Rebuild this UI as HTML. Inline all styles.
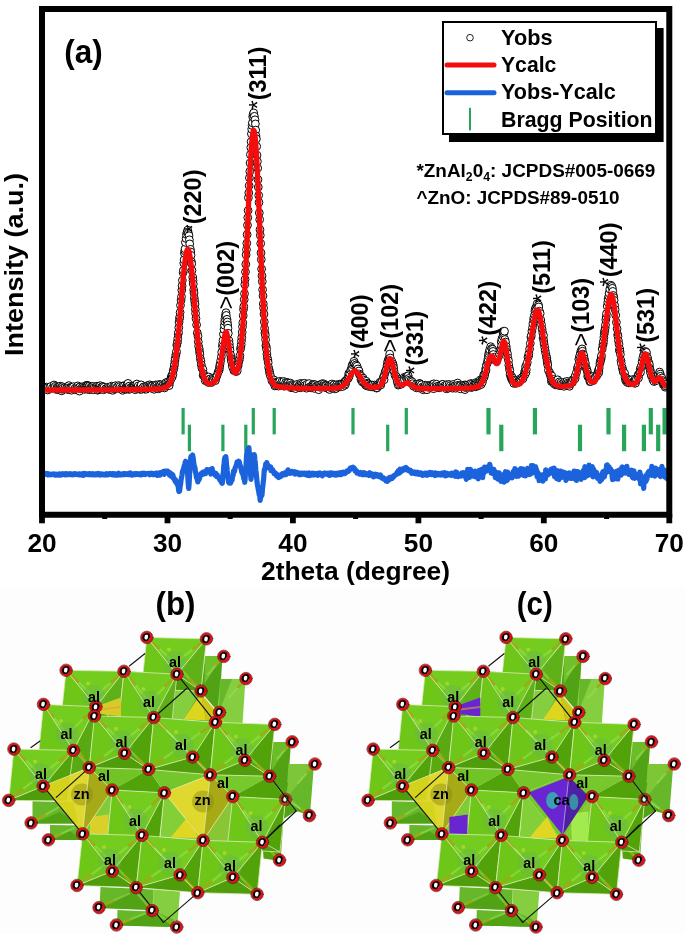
<!DOCTYPE html>
<html><head><meta charset="utf-8"><title>XRD Rietveld refinement and crystal structures</title>
<style>
html,body{margin:0;padding:0;background:#fff;}
body{width:685px;height:934px;overflow:hidden;font-family:"Liberation Sans",Arial,sans-serif;}
svg{display:block;}
text{fill:#000;}
</style></head><body>
<svg width="685" height="934" viewBox="0 0 685 934">
<rect width="685" height="934" fill="#fff"/><rect y="587" width="685" height="347" fill="#fdfdfd"/>
<g fill="#fff" stroke="#000" stroke-width="1"><circle cx="45.5" cy="388.3" r="3.9"/><circle cx="46.5" cy="387.1" r="3.9"/><circle cx="47.5" cy="388.4" r="3.9"/><circle cx="47.8" cy="390" r="3.9"/><circle cx="48.1" cy="387.6" r="3.9"/><circle cx="49.5" cy="388.4" r="3.9"/><circle cx="50.8" cy="386.5" r="3.9"/><circle cx="52.4" cy="388" r="3.9"/><circle cx="54.1" cy="385" r="3.9"/><circle cx="54.4" cy="387.6" r="3.9"/><circle cx="55.4" cy="386.3" r="3.9"/><circle cx="56.7" cy="389.6" r="3.9"/><circle cx="57" cy="387.2" r="3.9"/><circle cx="57.7" cy="389.4" r="3.9"/><circle cx="58" cy="387.5" r="3.9"/><circle cx="59.4" cy="386.6" r="3.9"/><circle cx="59.7" cy="388.3" r="3.9"/><circle cx="60" cy="390" r="3.9"/><circle cx="60.3" cy="386.2" r="3.9"/><circle cx="60.7" cy="389.3" r="3.9"/><circle cx="61.3" cy="387.4" r="3.9"/><circle cx="61.7" cy="390.8" r="3.9"/><circle cx="62" cy="389.2" r="3.9"/><circle cx="62.3" cy="386.7" r="3.9"/><circle cx="62.7" cy="388.3" r="3.9"/><circle cx="64.3" cy="389.1" r="3.9"/><circle cx="65" cy="387.3" r="3.9"/><circle cx="66.6" cy="387.5" r="3.9"/><circle cx="67.3" cy="389.4" r="3.9"/><circle cx="67.9" cy="386.5" r="3.9"/><circle cx="68.6" cy="389" r="3.9"/><circle cx="68.9" cy="385.6" r="3.9"/><circle cx="69.3" cy="387.6" r="3.9"/><circle cx="69.9" cy="389.8" r="3.9"/><circle cx="70.6" cy="387.8" r="3.9"/><circle cx="71.6" cy="390.2" r="3.9"/><circle cx="71.9" cy="387.6" r="3.9"/><circle cx="73.5" cy="386.7" r="3.9"/><circle cx="74.5" cy="389.7" r="3.9"/><circle cx="75.2" cy="388.1" r="3.9"/><circle cx="76.2" cy="389.5" r="3.9"/><circle cx="77.2" cy="386.5" r="3.9"/><circle cx="77.5" cy="388.6" r="3.9"/><circle cx="77.8" cy="385.9" r="3.9"/><circle cx="78.5" cy="387.7" r="3.9"/><circle cx="79.5" cy="391.1" r="3.9"/><circle cx="79.8" cy="387.1" r="3.9"/><circle cx="80.8" cy="388.8" r="3.9"/><circle cx="82.5" cy="386.8" r="3.9"/><circle cx="83.1" cy="388.2" r="3.9"/><circle cx="84.1" cy="387" r="3.9"/><circle cx="84.4" cy="389.4" r="3.9"/><circle cx="85.4" cy="387.3" r="3.9"/><circle cx="86.1" cy="385.5" r="3.9"/><circle cx="86.7" cy="388.6" r="3.9"/><circle cx="87.1" cy="385.3" r="3.9"/><circle cx="87.4" cy="389.2" r="3.9"/><circle cx="87.7" cy="385.8" r="3.9"/><circle cx="88.1" cy="389.1" r="3.9"/><circle cx="88.4" cy="387" r="3.9"/><circle cx="88.7" cy="389.1" r="3.9"/><circle cx="89.4" cy="386.1" r="3.9"/><circle cx="89.7" cy="389.7" r="3.9"/><circle cx="90.4" cy="388" r="3.9"/><circle cx="91.4" cy="386.8" r="3.9"/><circle cx="91.7" cy="389.5" r="3.9"/><circle cx="92" cy="387.3" r="3.9"/><circle cx="93.3" cy="386.4" r="3.9"/><circle cx="93.7" cy="389.7" r="3.9"/><circle cx="94" cy="387.8" r="3.9"/><circle cx="95.7" cy="387.3" r="3.9"/><circle cx="97" cy="386.2" r="3.9"/><circle cx="97.6" cy="390.2" r="3.9"/><circle cx="98" cy="387.1" r="3.9"/><circle cx="99" cy="389.8" r="3.9"/><circle cx="99.3" cy="386.1" r="3.9"/><circle cx="99.6" cy="387.7" r="3.9"/><circle cx="100.3" cy="385.7" r="3.9"/><circle cx="100.6" cy="388.9" r="3.9"/><circle cx="101.6" cy="387" r="3.9"/><circle cx="101.9" cy="388.6" r="3.9"/><circle cx="102.9" cy="386.5" r="3.9"/><circle cx="103.6" cy="389.7" r="3.9"/><circle cx="103.9" cy="387.3" r="3.9"/><circle cx="105.6" cy="388.8" r="3.9"/><circle cx="107.2" cy="388.8" r="3.9"/><circle cx="107.9" cy="387.2" r="3.9"/><circle cx="108.5" cy="389.1" r="3.9"/><circle cx="109.2" cy="387.7" r="3.9"/><circle cx="110.2" cy="389" r="3.9"/><circle cx="110.8" cy="387.3" r="3.9"/><circle cx="111.2" cy="389.8" r="3.9"/><circle cx="111.5" cy="386.2" r="3.9"/><circle cx="111.8" cy="389" r="3.9"/><circle cx="112.8" cy="390.3" r="3.9"/><circle cx="113.5" cy="386.4" r="3.9"/><circle cx="114.1" cy="388.9" r="3.9"/><circle cx="114.5" cy="386.5" r="3.9"/><circle cx="115.1" cy="388.9" r="3.9"/><circle cx="115.5" cy="385.7" r="3.9"/><circle cx="116.1" cy="388.1" r="3.9"/><circle cx="117.4" cy="386.7" r="3.9"/><circle cx="118.8" cy="385.6" r="3.9"/><circle cx="119.1" cy="388.4" r="3.9"/><circle cx="120.1" cy="386.5" r="3.9"/><circle cx="121.4" cy="388" r="3.9"/><circle cx="122.7" cy="390.3" r="3.9"/><circle cx="123" cy="385.9" r="3.9"/><circle cx="123.4" cy="388.9" r="3.9"/><circle cx="124.4" cy="385.8" r="3.9"/><circle cx="125" cy="388.6" r="3.9"/><circle cx="126" cy="387.3" r="3.9"/><circle cx="126.3" cy="389.2" r="3.9"/><circle cx="126.7" cy="387.6" r="3.9"/><circle cx="127" cy="384.8" r="3.9"/><circle cx="127.3" cy="386.7" r="3.9"/><circle cx="127.7" cy="385.1" r="3.9"/><circle cx="128" cy="383.4" r="3.9"/><circle cx="128.3" cy="386.9" r="3.9"/><circle cx="128.7" cy="389.3" r="3.9"/><circle cx="129" cy="387.7" r="3.9"/><circle cx="129.3" cy="386.1" r="3.9"/><circle cx="130" cy="389.1" r="3.9"/><circle cx="130.6" cy="387.6" r="3.9"/><circle cx="132.3" cy="387.8" r="3.9"/><circle cx="132.6" cy="386.2" r="3.9"/><circle cx="132.9" cy="388.2" r="3.9"/><circle cx="133.3" cy="386.6" r="3.9"/><circle cx="133.6" cy="388.9" r="3.9"/><circle cx="133.9" cy="385.8" r="3.9"/><circle cx="134.3" cy="387.3" r="3.9"/><circle cx="134.9" cy="385.7" r="3.9"/><circle cx="135.3" cy="389.7" r="3.9"/><circle cx="135.9" cy="386.8" r="3.9"/><circle cx="136.2" cy="388.4" r="3.9"/><circle cx="136.9" cy="384" r="3.9"/><circle cx="137.2" cy="387.7" r="3.9"/><circle cx="138.2" cy="386" r="3.9"/><circle cx="139.2" cy="388.9" r="3.9"/><circle cx="139.9" cy="387.3" r="3.9"/><circle cx="140.2" cy="389.3" r="3.9"/><circle cx="140.5" cy="386.6" r="3.9"/><circle cx="141.2" cy="384.9" r="3.9"/><circle cx="141.5" cy="389.3" r="3.9"/><circle cx="142.5" cy="388.1" r="3.9"/><circle cx="143.5" cy="386.9" r="3.9"/><circle cx="144.5" cy="389.1" r="3.9"/><circle cx="145.2" cy="387.1" r="3.9"/><circle cx="146.1" cy="389.2" r="3.9"/><circle cx="146.8" cy="387.1" r="3.9"/><circle cx="147.5" cy="385.6" r="3.9"/><circle cx="148.1" cy="388.1" r="3.9"/><circle cx="148.5" cy="386.5" r="3.9"/><circle cx="149.8" cy="384.8" r="3.9"/><circle cx="150.1" cy="386.6" r="3.9"/><circle cx="150.8" cy="388" r="3.9"/><circle cx="151.1" cy="385.8" r="3.9"/><circle cx="151.4" cy="387.6" r="3.9"/><circle cx="152.4" cy="386" r="3.9"/><circle cx="153.7" cy="387.3" r="3.9"/><circle cx="154.1" cy="389.3" r="3.9"/><circle cx="154.4" cy="386.3" r="3.9"/><circle cx="155.7" cy="384.9" r="3.9"/><circle cx="156.4" cy="388.1" r="3.9"/><circle cx="156.7" cy="385.3" r="3.9"/><circle cx="157" cy="387.8" r="3.9"/><circle cx="158.4" cy="388.8" r="3.9"/><circle cx="158.7" cy="386" r="3.9"/><circle cx="159.3" cy="384.4" r="3.9"/><circle cx="159.7" cy="386.2" r="3.9"/><circle cx="160" cy="388" r="3.9"/><circle cx="160.7" cy="384.8" r="3.9"/><circle cx="161.7" cy="386.3" r="3.9"/><circle cx="163" cy="385.3" r="3.9"/><circle cx="164.3" cy="386.2" r="3.9"/><circle cx="164.6" cy="387.9" r="3.9"/><circle cx="165" cy="386.2" r="3.9"/><circle cx="165.6" cy="383.1" r="3.9"/><circle cx="165.9" cy="385.7" r="3.9"/><circle cx="166.3" cy="382.5" r="3.9"/><circle cx="166.9" cy="385.9" r="3.9"/><circle cx="167.6" cy="384.2" r="3.9"/><circle cx="167.9" cy="381.9" r="3.9"/><circle cx="168.9" cy="384" r="3.9"/><circle cx="169.2" cy="385.6" r="3.9"/><circle cx="169.6" cy="382.5" r="3.9"/><circle cx="169.9" cy="380.6" r="3.9"/><circle cx="170.9" cy="379.3" r="3.9"/><circle cx="171.2" cy="377.1" r="3.9"/><circle cx="171.9" cy="375.2" r="3.9"/><circle cx="172.2" cy="377" r="3.9"/><circle cx="172.9" cy="374.4" r="3.9"/><circle cx="173.2" cy="370.9" r="3.9"/><circle cx="173.9" cy="368.2" r="3.9"/><circle cx="174.2" cy="366" r="3.9"/><circle cx="174.5" cy="364.2" r="3.9"/><circle cx="174.9" cy="360.9" r="3.9"/><circle cx="175.2" cy="358.5" r="3.9"/><circle cx="175.8" cy="355.3" r="3.9"/><circle cx="176.2" cy="353.3" r="3.9"/><circle cx="176.5" cy="351.5" r="3.9"/><circle cx="176.8" cy="345.1" r="3.9"/><circle cx="177.2" cy="343.3" r="3.9"/><circle cx="177.5" cy="341.4" r="3.9"/><circle cx="177.8" cy="338.4" r="3.9"/><circle cx="178.2" cy="334" r="3.9"/><circle cx="178.5" cy="332.3" r="3.9"/><circle cx="178.8" cy="327.7" r="3.9"/><circle cx="179.1" cy="322.1" r="3.9"/><circle cx="179.5" cy="318.6" r="3.9"/><circle cx="179.8" cy="316.9" r="3.9"/><circle cx="180.1" cy="312.4" r="3.9"/><circle cx="180.5" cy="305.3" r="3.9"/><circle cx="181.1" cy="300.1" r="3.9"/><circle cx="181.5" cy="296.7" r="3.9"/><circle cx="181.8" cy="290.1" r="3.9"/><circle cx="182.1" cy="285.8" r="3.9"/><circle cx="182.4" cy="280.3" r="3.9"/><circle cx="183.1" cy="272.6" r="3.9"/><circle cx="183.4" cy="270.4" r="3.9"/><circle cx="183.8" cy="263.1" r="3.9"/><circle cx="184.1" cy="259.8" r="3.9"/><circle cx="184.4" cy="253.2" r="3.9"/><circle cx="184.8" cy="250.8" r="3.9"/><circle cx="185.1" cy="248.8" r="3.9"/><circle cx="185.4" cy="242.4" r="3.9"/><circle cx="186.1" cy="238.5" r="3.9"/><circle cx="186.4" cy="234.4" r="3.9"/><circle cx="187.1" cy="232.2" r="3.9"/><circle cx="187.7" cy="230.1" r="3.9"/><circle cx="188.4" cy="233.2" r="3.9"/><circle cx="189" cy="235.7" r="3.9"/><circle cx="189.4" cy="239.8" r="3.9"/><circle cx="189.7" cy="243.9" r="3.9"/><circle cx="190.4" cy="249.3" r="3.9"/><circle cx="190.7" cy="252" r="3.9"/><circle cx="191" cy="255.3" r="3.9"/><circle cx="191.4" cy="261.6" r="3.9"/><circle cx="191.7" cy="263.8" r="3.9"/><circle cx="192" cy="270.5" r="3.9"/><circle cx="192.7" cy="277.2" r="3.9"/><circle cx="193" cy="280.5" r="3.9"/><circle cx="193.3" cy="284" r="3.9"/><circle cx="193.7" cy="289.9" r="3.9"/><circle cx="194" cy="293" r="3.9"/><circle cx="194.3" cy="298.2" r="3.9"/><circle cx="194.7" cy="301.4" r="3.9"/><circle cx="195" cy="304.1" r="3.9"/><circle cx="195.3" cy="309.4" r="3.9"/><circle cx="195.6" cy="313.5" r="3.9"/><circle cx="196" cy="318.6" r="3.9"/><circle cx="196.6" cy="324.8" r="3.9"/><circle cx="197.3" cy="332.9" r="3.9"/><circle cx="198" cy="336.3" r="3.9"/><circle cx="198.3" cy="341.8" r="3.9"/><circle cx="198.6" cy="346.3" r="3.9"/><circle cx="199.3" cy="349.1" r="3.9"/><circle cx="199.6" cy="352.1" r="3.9"/><circle cx="199.9" cy="354.1" r="3.9"/><circle cx="200.3" cy="358.4" r="3.9"/><circle cx="200.9" cy="361.2" r="3.9"/><circle cx="201.3" cy="364.8" r="3.9"/><circle cx="201.9" cy="368.1" r="3.9"/><circle cx="202.9" cy="369.4" r="3.9"/><circle cx="203.2" cy="375.4" r="3.9"/><circle cx="203.6" cy="373.6" r="3.9"/><circle cx="203.9" cy="375.4" r="3.9"/><circle cx="204.6" cy="377" r="3.9"/><circle cx="205.2" cy="380.6" r="3.9"/><circle cx="205.5" cy="377.4" r="3.9"/><circle cx="206.9" cy="381.2" r="3.9"/><circle cx="207.5" cy="379.4" r="3.9"/><circle cx="208.5" cy="382.5" r="3.9"/><circle cx="208.8" cy="377" r="3.9"/><circle cx="209.2" cy="381.3" r="3.9"/><circle cx="209.5" cy="379.2" r="3.9"/><circle cx="209.8" cy="381.9" r="3.9"/><circle cx="210.2" cy="379.1" r="3.9"/><circle cx="211.5" cy="382.5" r="3.9"/><circle cx="212.1" cy="380.2" r="3.9"/><circle cx="212.8" cy="378.2" r="3.9"/><circle cx="213.1" cy="380" r="3.9"/><circle cx="214.5" cy="378.4" r="3.9"/><circle cx="215.4" cy="380.6" r="3.9"/><circle cx="216.1" cy="377.8" r="3.9"/><circle cx="217.1" cy="375.3" r="3.9"/><circle cx="218.1" cy="372.1" r="3.9"/><circle cx="219.1" cy="370.3" r="3.9"/><circle cx="219.4" cy="368.3" r="3.9"/><circle cx="219.7" cy="366" r="3.9"/><circle cx="220.1" cy="364" r="3.9"/><circle cx="220.7" cy="360.6" r="3.9"/><circle cx="221.4" cy="356.6" r="3.9"/><circle cx="221.7" cy="352.2" r="3.9"/><circle cx="222.4" cy="346.1" r="3.9"/><circle cx="222.7" cy="343.6" r="3.9"/><circle cx="223" cy="340.4" r="3.9"/><circle cx="223.4" cy="334.2" r="3.9"/><circle cx="224" cy="329.3" r="3.9"/><circle cx="224.4" cy="325.2" r="3.9"/><circle cx="224.7" cy="321.5" r="3.9"/><circle cx="225" cy="318.7" r="3.9"/><circle cx="225.3" cy="315.7" r="3.9"/><circle cx="226" cy="312.7" r="3.9"/><circle cx="226.3" cy="315.4" r="3.9"/><circle cx="227" cy="319.3" r="3.9"/><circle cx="227.3" cy="322" r="3.9"/><circle cx="227.7" cy="325" r="3.9"/><circle cx="228" cy="328.2" r="3.9"/><circle cx="228.3" cy="333.3" r="3.9"/><circle cx="229" cy="340.7" r="3.9"/><circle cx="229.3" cy="343.9" r="3.9"/><circle cx="229.6" cy="347.3" r="3.9"/><circle cx="230" cy="350.4" r="3.9"/><circle cx="230.6" cy="354.9" r="3.9"/><circle cx="231" cy="358.3" r="3.9"/><circle cx="231.3" cy="360.1" r="3.9"/><circle cx="231.6" cy="361.7" r="3.9"/><circle cx="232.3" cy="365.2" r="3.9"/><circle cx="232.6" cy="367.3" r="3.9"/><circle cx="233.9" cy="370.6" r="3.9"/><circle cx="234.6" cy="366.8" r="3.9"/><circle cx="234.9" cy="370.4" r="3.9"/><circle cx="235.2" cy="367.4" r="3.9"/><circle cx="235.9" cy="369.1" r="3.9"/><circle cx="236.2" cy="371.6" r="3.9"/><circle cx="236.6" cy="369.2" r="3.9"/><circle cx="237.2" cy="370.7" r="3.9"/><circle cx="237.9" cy="366.3" r="3.9"/><circle cx="238.2" cy="364.8" r="3.9"/><circle cx="238.5" cy="362" r="3.9"/><circle cx="239.2" cy="360.6" r="3.9"/><circle cx="239.5" cy="358.4" r="3.9"/><circle cx="239.9" cy="355.7" r="3.9"/><circle cx="240.5" cy="349.1" r="3.9"/><circle cx="240.9" cy="346.9" r="3.9"/><circle cx="241.2" cy="344.5" r="3.9"/><circle cx="241.5" cy="340.7" r="3.9"/><circle cx="241.8" cy="337.3" r="3.9"/><circle cx="242.2" cy="332.2" r="3.9"/><circle cx="242.5" cy="326.7" r="3.9"/><circle cx="242.8" cy="322.7" r="3.9"/><circle cx="243.2" cy="315.7" r="3.9"/><circle cx="243.5" cy="309.4" r="3.9"/><circle cx="243.8" cy="306.5" r="3.9"/><circle cx="244.2" cy="299.6" r="3.9"/><circle cx="244.5" cy="293.7" r="3.9"/><circle cx="244.8" cy="284.5" r="3.9"/><circle cx="245.1" cy="279.3" r="3.9"/><circle cx="245.5" cy="271.9" r="3.9"/><circle cx="245.8" cy="264.2" r="3.9"/><circle cx="246.1" cy="254.8" r="3.9"/><circle cx="246.5" cy="249.6" r="3.9"/><circle cx="246.8" cy="243.3" r="3.9"/><circle cx="247.1" cy="234.6" r="3.9"/><circle cx="247.5" cy="225.2" r="3.9"/><circle cx="247.8" cy="217.7" r="3.9"/><circle cx="248.1" cy="210.5" r="3.9"/><circle cx="248.4" cy="197.7" r="3.9"/><circle cx="248.8" cy="192.9" r="3.9"/><circle cx="249.1" cy="185.7" r="3.9"/><circle cx="249.4" cy="177.9" r="3.9"/><circle cx="249.8" cy="171.4" r="3.9"/><circle cx="250.1" cy="163" r="3.9"/><circle cx="250.4" cy="154.6" r="3.9"/><circle cx="250.8" cy="147.6" r="3.9"/><circle cx="251.1" cy="141.7" r="3.9"/><circle cx="251.4" cy="133.9" r="3.9"/><circle cx="251.7" cy="129.1" r="3.9"/><circle cx="252.1" cy="125.5" r="3.9"/><circle cx="252.4" cy="122.8" r="3.9"/><circle cx="252.7" cy="116.7" r="3.9"/><circle cx="253.1" cy="114.4" r="3.9"/><circle cx="253.7" cy="112.9" r="3.9"/><circle cx="254.4" cy="116.3" r="3.9"/><circle cx="255" cy="119.8" r="3.9"/><circle cx="255.4" cy="123.9" r="3.9"/><circle cx="255.7" cy="130.1" r="3.9"/><circle cx="256" cy="136" r="3.9"/><circle cx="256.4" cy="138.9" r="3.9"/><circle cx="256.7" cy="146.4" r="3.9"/><circle cx="257" cy="155.2" r="3.9"/><circle cx="257.4" cy="161.5" r="3.9"/><circle cx="257.7" cy="168.2" r="3.9"/><circle cx="258" cy="179.6" r="3.9"/><circle cx="258.3" cy="187.1" r="3.9"/><circle cx="258.7" cy="195.4" r="3.9"/><circle cx="259" cy="202.5" r="3.9"/><circle cx="259.3" cy="212.9" r="3.9"/><circle cx="259.7" cy="219.6" r="3.9"/><circle cx="260" cy="229.7" r="3.9"/><circle cx="260.3" cy="235.3" r="3.9"/><circle cx="260.7" cy="243.5" r="3.9"/><circle cx="261" cy="252.9" r="3.9"/><circle cx="261.3" cy="259.5" r="3.9"/><circle cx="261.6" cy="269" r="3.9"/><circle cx="262" cy="275.8" r="3.9"/><circle cx="262.3" cy="281.5" r="3.9"/><circle cx="262.6" cy="289.7" r="3.9"/><circle cx="263" cy="295.9" r="3.9"/><circle cx="263.3" cy="303.9" r="3.9"/><circle cx="263.6" cy="308.1" r="3.9"/><circle cx="264" cy="314.1" r="3.9"/><circle cx="264.3" cy="321.8" r="3.9"/><circle cx="264.6" cy="328.4" r="3.9"/><circle cx="264.9" cy="333" r="3.9"/><circle cx="265.3" cy="335.1" r="3.9"/><circle cx="265.6" cy="339.7" r="3.9"/><circle cx="265.9" cy="345.5" r="3.9"/><circle cx="266.3" cy="347.1" r="3.9"/><circle cx="266.6" cy="349.5" r="3.9"/><circle cx="266.9" cy="354.1" r="3.9"/><circle cx="267.3" cy="357.6" r="3.9"/><circle cx="267.9" cy="360.1" r="3.9"/><circle cx="268.2" cy="362.7" r="3.9"/><circle cx="268.6" cy="367.5" r="3.9"/><circle cx="269.2" cy="370.1" r="3.9"/><circle cx="269.6" cy="372.2" r="3.9"/><circle cx="269.9" cy="374.1" r="3.9"/><circle cx="270.6" cy="376.4" r="3.9"/><circle cx="271.9" cy="380.7" r="3.9"/><circle cx="273.5" cy="382.6" r="3.9"/><circle cx="273.9" cy="379.9" r="3.9"/><circle cx="274.5" cy="382" r="3.9"/><circle cx="274.8" cy="385.9" r="3.9"/><circle cx="275.2" cy="384" r="3.9"/><circle cx="276.2" cy="385.8" r="3.9"/><circle cx="276.5" cy="382.9" r="3.9"/><circle cx="277.2" cy="384.9" r="3.9"/><circle cx="278.1" cy="382.9" r="3.9"/><circle cx="278.5" cy="386.1" r="3.9"/><circle cx="279.1" cy="384.5" r="3.9"/><circle cx="279.8" cy="381.3" r="3.9"/><circle cx="280.1" cy="384.8" r="3.9"/><circle cx="281.4" cy="383.7" r="3.9"/><circle cx="281.8" cy="382" r="3.9"/><circle cx="282.1" cy="384.8" r="3.9"/><circle cx="283.4" cy="384" r="3.9"/><circle cx="283.8" cy="381.5" r="3.9"/><circle cx="284.1" cy="386.2" r="3.9"/><circle cx="285.4" cy="384.8" r="3.9"/><circle cx="285.7" cy="382.4" r="3.9"/><circle cx="286.7" cy="384.2" r="3.9"/><circle cx="287.4" cy="382.4" r="3.9"/><circle cx="287.7" cy="385.5" r="3.9"/><circle cx="288" cy="383.1" r="3.9"/><circle cx="288.4" cy="385.5" r="3.9"/><circle cx="289.7" cy="384.5" r="3.9"/><circle cx="290.4" cy="383.1" r="3.9"/><circle cx="290.7" cy="385.2" r="3.9"/><circle cx="291" cy="387.7" r="3.9"/><circle cx="292" cy="386.3" r="3.9"/><circle cx="292.3" cy="384.5" r="3.9"/><circle cx="292.7" cy="387.3" r="3.9"/><circle cx="293" cy="385.4" r="3.9"/><circle cx="294.6" cy="385.5" r="3.9"/><circle cx="295.6" cy="388.6" r="3.9"/><circle cx="296" cy="385.6" r="3.9"/><circle cx="297.3" cy="384.3" r="3.9"/><circle cx="297.9" cy="387" r="3.9"/><circle cx="299.3" cy="385" r="3.9"/><circle cx="300.3" cy="387.8" r="3.9"/><circle cx="300.6" cy="383.4" r="3.9"/><circle cx="300.9" cy="385" r="3.9"/><circle cx="301.6" cy="386.8" r="3.9"/><circle cx="302.6" cy="383.9" r="3.9"/><circle cx="302.9" cy="387" r="3.9"/><circle cx="303.6" cy="385.1" r="3.9"/><circle cx="303.9" cy="386.7" r="3.9"/><circle cx="304.2" cy="384.8" r="3.9"/><circle cx="304.5" cy="383.3" r="3.9"/><circle cx="304.9" cy="385.6" r="3.9"/><circle cx="306.2" cy="386.5" r="3.9"/><circle cx="306.5" cy="388.2" r="3.9"/><circle cx="306.9" cy="385.9" r="3.9"/><circle cx="307.2" cy="384.1" r="3.9"/><circle cx="308.5" cy="386.7" r="3.9"/><circle cx="309.2" cy="383.6" r="3.9"/><circle cx="309.5" cy="387.1" r="3.9"/><circle cx="311.1" cy="386.3" r="3.9"/><circle cx="311.5" cy="387.8" r="3.9"/><circle cx="312.8" cy="384.4" r="3.9"/><circle cx="313.1" cy="386" r="3.9"/><circle cx="314.1" cy="384.5" r="3.9"/><circle cx="314.4" cy="388.4" r="3.9"/><circle cx="314.8" cy="386.4" r="3.9"/><circle cx="315.1" cy="384.7" r="3.9"/><circle cx="316.1" cy="386.2" r="3.9"/><circle cx="317.4" cy="387" r="3.9"/><circle cx="317.7" cy="385.4" r="3.9"/><circle cx="318.4" cy="387.6" r="3.9"/><circle cx="318.7" cy="389.7" r="3.9"/><circle cx="319.1" cy="385" r="3.9"/><circle cx="320.1" cy="387.3" r="3.9"/><circle cx="320.4" cy="384.8" r="3.9"/><circle cx="321" cy="386.3" r="3.9"/><circle cx="322.4" cy="383.6" r="3.9"/><circle cx="323" cy="385.8" r="3.9"/><circle cx="324" cy="384" r="3.9"/><circle cx="324.3" cy="385.7" r="3.9"/><circle cx="324.7" cy="387.4" r="3.9"/><circle cx="325.7" cy="385.2" r="3.9"/><circle cx="326" cy="387.1" r="3.9"/><circle cx="326.3" cy="385.6" r="3.9"/><circle cx="327.3" cy="388.2" r="3.9"/><circle cx="327.6" cy="386.6" r="3.9"/><circle cx="329" cy="385.5" r="3.9"/><circle cx="329.6" cy="389.5" r="3.9"/><circle cx="330" cy="387.3" r="3.9"/><circle cx="330.3" cy="385.6" r="3.9"/><circle cx="331.3" cy="387.8" r="3.9"/><circle cx="331.6" cy="385.6" r="3.9"/><circle cx="331.9" cy="384" r="3.9"/><circle cx="332.3" cy="385.9" r="3.9"/><circle cx="333.3" cy="387.9" r="3.9"/><circle cx="334.2" cy="384.7" r="3.9"/><circle cx="334.6" cy="387.3" r="3.9"/><circle cx="334.9" cy="388.9" r="3.9"/><circle cx="335.2" cy="387.1" r="3.9"/><circle cx="336.2" cy="388.4" r="3.9"/><circle cx="336.6" cy="384.8" r="3.9"/><circle cx="337.2" cy="386.6" r="3.9"/><circle cx="338.5" cy="385.5" r="3.9"/><circle cx="339.5" cy="384.2" r="3.9"/><circle cx="340.2" cy="386.8" r="3.9"/><circle cx="340.5" cy="384.3" r="3.9"/><circle cx="341.2" cy="386.3" r="3.9"/><circle cx="341.5" cy="384" r="3.9"/><circle cx="341.8" cy="385.5" r="3.9"/><circle cx="342.2" cy="383.8" r="3.9"/><circle cx="342.5" cy="386.5" r="3.9"/><circle cx="343.5" cy="384.1" r="3.9"/><circle cx="344.8" cy="385.3" r="3.9"/><circle cx="345.1" cy="381.2" r="3.9"/><circle cx="345.5" cy="383.9" r="3.9"/><circle cx="345.8" cy="382" r="3.9"/><circle cx="346.8" cy="379.7" r="3.9"/><circle cx="348.1" cy="378.5" r="3.9"/><circle cx="348.4" cy="376.4" r="3.9"/><circle cx="348.8" cy="373.5" r="3.9"/><circle cx="349.1" cy="376.6" r="3.9"/><circle cx="349.8" cy="373.9" r="3.9"/><circle cx="350.7" cy="370.2" r="3.9"/><circle cx="351.4" cy="368.7" r="3.9"/><circle cx="352.1" cy="365.3" r="3.9"/><circle cx="352.4" cy="367.9" r="3.9"/><circle cx="352.7" cy="364.7" r="3.9"/><circle cx="353.7" cy="363.4" r="3.9"/><circle cx="354" cy="361.3" r="3.9"/><circle cx="354.7" cy="363.4" r="3.9"/><circle cx="356" cy="364.9" r="3.9"/><circle cx="357" cy="366.2" r="3.9"/><circle cx="358" cy="368.9" r="3.9"/><circle cx="359" cy="371" r="3.9"/><circle cx="359.3" cy="374" r="3.9"/><circle cx="360" cy="375.4" r="3.9"/><circle cx="361" cy="379.7" r="3.9"/><circle cx="361.3" cy="376.4" r="3.9"/><circle cx="361.6" cy="379.2" r="3.9"/><circle cx="362.3" cy="381.9" r="3.9"/><circle cx="363" cy="378.1" r="3.9"/><circle cx="363.3" cy="379.9" r="3.9"/><circle cx="363.6" cy="382.5" r="3.9"/><circle cx="364.9" cy="383.8" r="3.9"/><circle cx="365.9" cy="385.4" r="3.9"/><circle cx="366.3" cy="381.3" r="3.9"/><circle cx="366.6" cy="385.3" r="3.9"/><circle cx="366.9" cy="383.3" r="3.9"/><circle cx="367.2" cy="386" r="3.9"/><circle cx="367.9" cy="383.8" r="3.9"/><circle cx="368.2" cy="385.6" r="3.9"/><circle cx="368.6" cy="384" r="3.9"/><circle cx="369.6" cy="385.3" r="3.9"/><circle cx="370.2" cy="386.7" r="3.9"/><circle cx="370.5" cy="385.2" r="3.9"/><circle cx="370.9" cy="386.8" r="3.9"/><circle cx="371.5" cy="385.4" r="3.9"/><circle cx="372.2" cy="386.9" r="3.9"/><circle cx="372.5" cy="385.1" r="3.9"/><circle cx="374.2" cy="386.9" r="3.9"/><circle cx="374.5" cy="385" r="3.9"/><circle cx="375.8" cy="386" r="3.9"/><circle cx="376.5" cy="388.1" r="3.9"/><circle cx="376.8" cy="386" r="3.9"/><circle cx="377.1" cy="387.8" r="3.9"/><circle cx="377.8" cy="384.6" r="3.9"/><circle cx="378.5" cy="386" r="3.9"/><circle cx="379.8" cy="382.8" r="3.9"/><circle cx="380.1" cy="384.7" r="3.9"/><circle cx="380.4" cy="381.9" r="3.9"/><circle cx="380.8" cy="385" r="3.9"/><circle cx="381.1" cy="383.2" r="3.9"/><circle cx="382.4" cy="380.2" r="3.9"/><circle cx="383.4" cy="377" r="3.9"/><circle cx="384.1" cy="379.7" r="3.9"/><circle cx="384.4" cy="375.1" r="3.9"/><circle cx="385.1" cy="372.2" r="3.9"/><circle cx="385.7" cy="370.8" r="3.9"/><circle cx="386.4" cy="369.1" r="3.9"/><circle cx="387" cy="365.7" r="3.9"/><circle cx="387.4" cy="364.1" r="3.9"/><circle cx="387.7" cy="361.4" r="3.9"/><circle cx="388.4" cy="359.9" r="3.9"/><circle cx="389" cy="358.2" r="3.9"/><circle cx="389.4" cy="359.8" r="3.9"/><circle cx="389.7" cy="354.1" r="3.9"/><circle cx="390.3" cy="358" r="3.9"/><circle cx="392" cy="361.6" r="3.9"/><circle cx="392.3" cy="365.9" r="3.9"/><circle cx="393" cy="364.1" r="3.9"/><circle cx="393.3" cy="365.9" r="3.9"/><circle cx="393.6" cy="368" r="3.9"/><circle cx="394" cy="371.3" r="3.9"/><circle cx="395" cy="375.2" r="3.9"/><circle cx="396.3" cy="376.6" r="3.9"/><circle cx="396.6" cy="378.6" r="3.9"/><circle cx="397.3" cy="382.1" r="3.9"/><circle cx="398.3" cy="385.1" r="3.9"/><circle cx="398.9" cy="381.8" r="3.9"/><circle cx="399.3" cy="384.5" r="3.9"/><circle cx="399.9" cy="382.3" r="3.9"/><circle cx="400.9" cy="380.4" r="3.9"/><circle cx="401.2" cy="384.2" r="3.9"/><circle cx="401.6" cy="379.1" r="3.9"/><circle cx="401.9" cy="380.7" r="3.9"/><circle cx="403.2" cy="381.5" r="3.9"/><circle cx="404.2" cy="377.3" r="3.9"/><circle cx="404.5" cy="379.7" r="3.9"/><circle cx="405.9" cy="376.9" r="3.9"/><circle cx="406.5" cy="378.4" r="3.9"/><circle cx="407.2" cy="376.2" r="3.9"/><circle cx="407.5" cy="379.8" r="3.9"/><circle cx="408.2" cy="375.8" r="3.9"/><circle cx="408.5" cy="378.5" r="3.9"/><circle cx="408.8" cy="381.9" r="3.9"/><circle cx="409.2" cy="380.1" r="3.9"/><circle cx="410.8" cy="380.9" r="3.9"/><circle cx="411.1" cy="383" r="3.9"/><circle cx="412.1" cy="381.8" r="3.9"/><circle cx="412.5" cy="383.7" r="3.9"/><circle cx="413.4" cy="386.1" r="3.9"/><circle cx="415.1" cy="385.6" r="3.9"/><circle cx="415.8" cy="386.9" r="3.9"/><circle cx="416.1" cy="384.6" r="3.9"/><circle cx="416.4" cy="387.8" r="3.9"/><circle cx="416.7" cy="386.2" r="3.9"/><circle cx="418.4" cy="385.4" r="3.9"/><circle cx="418.7" cy="387.8" r="3.9"/><circle cx="419.1" cy="385.4" r="3.9"/><circle cx="419.4" cy="383.4" r="3.9"/><circle cx="419.7" cy="385.5" r="3.9"/><circle cx="420" cy="383.8" r="3.9"/><circle cx="420.4" cy="386.4" r="3.9"/><circle cx="421.4" cy="384.8" r="3.9"/><circle cx="422" cy="388.8" r="3.9"/><circle cx="422.4" cy="387" r="3.9"/><circle cx="423.3" cy="389.8" r="3.9"/><circle cx="423.7" cy="388.3" r="3.9"/><circle cx="424" cy="386.8" r="3.9"/><circle cx="425.3" cy="385.2" r="3.9"/><circle cx="426.3" cy="386.5" r="3.9"/><circle cx="427" cy="389.7" r="3.9"/><circle cx="427.3" cy="385.5" r="3.9"/><circle cx="428.3" cy="387.2" r="3.9"/><circle cx="429.3" cy="385.6" r="3.9"/><circle cx="430.3" cy="387.3" r="3.9"/><circle cx="430.9" cy="385.3" r="3.9"/><circle cx="431.6" cy="386.7" r="3.9"/><circle cx="432.9" cy="384.3" r="3.9"/><circle cx="433.6" cy="388.7" r="3.9"/><circle cx="433.9" cy="383.8" r="3.9"/><circle cx="434.2" cy="386.2" r="3.9"/><circle cx="435.9" cy="386.6" r="3.9"/><circle cx="436.5" cy="384.2" r="3.9"/><circle cx="436.9" cy="386.4" r="3.9"/><circle cx="438.2" cy="387.5" r="3.9"/><circle cx="438.9" cy="386" r="3.9"/><circle cx="439.2" cy="387.8" r="3.9"/><circle cx="440.5" cy="386.4" r="3.9"/><circle cx="441.5" cy="384.8" r="3.9"/><circle cx="441.8" cy="386.9" r="3.9"/><circle cx="442.8" cy="384.3" r="3.9"/><circle cx="443.5" cy="386.5" r="3.9"/><circle cx="445.1" cy="385.5" r="3.9"/><circle cx="445.5" cy="387.1" r="3.9"/><circle cx="446.4" cy="388.8" r="3.9"/><circle cx="446.8" cy="386.5" r="3.9"/><circle cx="447.1" cy="384.6" r="3.9"/><circle cx="448.4" cy="388.2" r="3.9"/><circle cx="449.1" cy="384.5" r="3.9"/><circle cx="449.4" cy="387.3" r="3.9"/><circle cx="450.4" cy="385.6" r="3.9"/><circle cx="451.4" cy="387.3" r="3.9"/><circle cx="452.7" cy="388.2" r="3.9"/><circle cx="453.4" cy="384.4" r="3.9"/><circle cx="453.7" cy="386.2" r="3.9"/><circle cx="454.7" cy="387.5" r="3.9"/><circle cx="455" cy="385.9" r="3.9"/><circle cx="455.7" cy="388.2" r="3.9"/><circle cx="456.3" cy="386.6" r="3.9"/><circle cx="457.7" cy="383" r="3.9"/><circle cx="458" cy="385.3" r="3.9"/><circle cx="459.3" cy="387.7" r="3.9"/><circle cx="459.6" cy="385.5" r="3.9"/><circle cx="460.3" cy="388.8" r="3.9"/><circle cx="460.6" cy="385.5" r="3.9"/><circle cx="462.3" cy="387.1" r="3.9"/><circle cx="462.6" cy="385.4" r="3.9"/><circle cx="463.6" cy="387" r="3.9"/><circle cx="463.9" cy="385.1" r="3.9"/><circle cx="464.9" cy="389.6" r="3.9"/><circle cx="465.3" cy="384.9" r="3.9"/><circle cx="465.6" cy="387.6" r="3.9"/><circle cx="465.9" cy="385.7" r="3.9"/><circle cx="466.9" cy="386.9" r="3.9"/><circle cx="467.9" cy="384.9" r="3.9"/><circle cx="468.6" cy="386.3" r="3.9"/><circle cx="470.2" cy="387.4" r="3.9"/><circle cx="470.5" cy="385.6" r="3.9"/><circle cx="470.9" cy="383.5" r="3.9"/><circle cx="471.9" cy="387.4" r="3.9"/><circle cx="472.2" cy="384.1" r="3.9"/><circle cx="472.5" cy="386.8" r="3.9"/><circle cx="473.8" cy="384.9" r="3.9"/><circle cx="475.2" cy="384.2" r="3.9"/><circle cx="475.8" cy="386.8" r="3.9"/><circle cx="476.1" cy="382.5" r="3.9"/><circle cx="476.5" cy="385" r="3.9"/><circle cx="476.8" cy="383.4" r="3.9"/><circle cx="477.5" cy="385.6" r="3.9"/><circle cx="478.5" cy="382.2" r="3.9"/><circle cx="478.8" cy="385.6" r="3.9"/><circle cx="479.1" cy="383.3" r="3.9"/><circle cx="480.1" cy="380.1" r="3.9"/><circle cx="480.4" cy="382.2" r="3.9"/><circle cx="481.1" cy="384.5" r="3.9"/><circle cx="481.4" cy="382.4" r="3.9"/><circle cx="482.1" cy="379.1" r="3.9"/><circle cx="482.4" cy="382.1" r="3.9"/><circle cx="483.1" cy="378.9" r="3.9"/><circle cx="483.7" cy="375" r="3.9"/><circle cx="484.1" cy="377.2" r="3.9"/><circle cx="484.7" cy="374.8" r="3.9"/><circle cx="485.4" cy="372" r="3.9"/><circle cx="485.7" cy="368.6" r="3.9"/><circle cx="486" cy="370.1" r="3.9"/><circle cx="486.4" cy="365.2" r="3.9"/><circle cx="487.4" cy="363" r="3.9"/><circle cx="487.7" cy="360.8" r="3.9"/><circle cx="488" cy="359" r="3.9"/><circle cx="488.4" cy="355.9" r="3.9"/><circle cx="488.7" cy="353.7" r="3.9"/><circle cx="489.3" cy="351.7" r="3.9"/><circle cx="489.7" cy="349.8" r="3.9"/><circle cx="490.7" cy="346.7" r="3.9"/><circle cx="491.7" cy="348.5" r="3.9"/><circle cx="492.3" cy="352.9" r="3.9"/><circle cx="492.6" cy="349.3" r="3.9"/><circle cx="493" cy="351.4" r="3.9"/><circle cx="493.3" cy="354.5" r="3.9"/><circle cx="494.3" cy="358.8" r="3.9"/><circle cx="494.6" cy="357.2" r="3.9"/><circle cx="495.6" cy="360.5" r="3.9"/><circle cx="496.3" cy="358.8" r="3.9"/><circle cx="496.9" cy="360.8" r="3.9"/><circle cx="498.6" cy="356.6" r="3.9"/><circle cx="499.6" cy="354.1" r="3.9"/><circle cx="499.9" cy="350.3" r="3.9"/><circle cx="500.9" cy="349" r="3.9"/><circle cx="501.2" cy="341.9" r="3.9"/><circle cx="501.6" cy="345.9" r="3.9"/><circle cx="501.9" cy="338.9" r="3.9"/><circle cx="502.9" cy="336.4" r="3.9"/><circle cx="503.2" cy="334.1" r="3.9"/><circle cx="503.5" cy="331.3" r="3.9"/><circle cx="503.9" cy="332.9" r="3.9"/><circle cx="504.5" cy="331.2" r="3.9"/><circle cx="504.9" cy="339.5" r="3.9"/><circle cx="505.5" cy="342" r="3.9"/><circle cx="506.2" cy="346.5" r="3.9"/><circle cx="506.5" cy="349.3" r="3.9"/><circle cx="506.8" cy="352" r="3.9"/><circle cx="507.5" cy="353.8" r="3.9"/><circle cx="507.8" cy="357.7" r="3.9"/><circle cx="508.5" cy="360.6" r="3.9"/><circle cx="508.8" cy="365.1" r="3.9"/><circle cx="509.5" cy="368.7" r="3.9"/><circle cx="509.8" cy="370.6" r="3.9"/><circle cx="510.1" cy="374.8" r="3.9"/><circle cx="511.1" cy="377.8" r="3.9"/><circle cx="511.5" cy="376.3" r="3.9"/><circle cx="511.8" cy="377.7" r="3.9"/><circle cx="512.1" cy="380.1" r="3.9"/><circle cx="512.4" cy="378" r="3.9"/><circle cx="512.8" cy="379.8" r="3.9"/><circle cx="513.4" cy="381.2" r="3.9"/><circle cx="513.8" cy="383.4" r="3.9"/><circle cx="514.1" cy="380.5" r="3.9"/><circle cx="515.7" cy="383.4" r="3.9"/><circle cx="516.4" cy="382" r="3.9"/><circle cx="516.7" cy="380.4" r="3.9"/><circle cx="517.1" cy="382.3" r="3.9"/><circle cx="518.7" cy="382.3" r="3.9"/><circle cx="519" cy="380.7" r="3.9"/><circle cx="519.7" cy="379.1" r="3.9"/><circle cx="520" cy="380.6" r="3.9"/><circle cx="521" cy="379.3" r="3.9"/><circle cx="522" cy="377.5" r="3.9"/><circle cx="523" cy="378.7" r="3.9"/><circle cx="524" cy="375" r="3.9"/><circle cx="524.7" cy="371.6" r="3.9"/><circle cx="525" cy="374.5" r="3.9"/><circle cx="525.3" cy="370.5" r="3.9"/><circle cx="525.6" cy="366.6" r="3.9"/><circle cx="526" cy="372.3" r="3.9"/><circle cx="526.3" cy="369.5" r="3.9"/><circle cx="526.6" cy="364.7" r="3.9"/><circle cx="527.3" cy="362.5" r="3.9"/><circle cx="528" cy="357.3" r="3.9"/><circle cx="528.6" cy="355.9" r="3.9"/><circle cx="528.9" cy="353.6" r="3.9"/><circle cx="529.6" cy="349" r="3.9"/><circle cx="530.3" cy="343.4" r="3.9"/><circle cx="530.9" cy="337.1" r="3.9"/><circle cx="531.3" cy="335.6" r="3.9"/><circle cx="531.9" cy="331.1" r="3.9"/><circle cx="532.6" cy="327.4" r="3.9"/><circle cx="532.9" cy="323.7" r="3.9"/><circle cx="533.6" cy="319.7" r="3.9"/><circle cx="533.9" cy="317.6" r="3.9"/><circle cx="534.6" cy="314.9" r="3.9"/><circle cx="534.9" cy="311.4" r="3.9"/><circle cx="535.2" cy="309.3" r="3.9"/><circle cx="535.9" cy="307.5" r="3.9"/><circle cx="536.5" cy="309" r="3.9"/><circle cx="536.9" cy="305.9" r="3.9"/><circle cx="537.2" cy="303.7" r="3.9"/><circle cx="538.5" cy="305" r="3.9"/><circle cx="538.8" cy="306.9" r="3.9"/><circle cx="539.5" cy="311.2" r="3.9"/><circle cx="540.2" cy="313.5" r="3.9"/><circle cx="540.8" cy="320" r="3.9"/><circle cx="541.5" cy="324.7" r="3.9"/><circle cx="542.1" cy="329.1" r="3.9"/><circle cx="542.8" cy="333" r="3.9"/><circle cx="543.1" cy="338" r="3.9"/><circle cx="543.5" cy="335.4" r="3.9"/><circle cx="543.8" cy="340.9" r="3.9"/><circle cx="544.1" cy="344" r="3.9"/><circle cx="544.8" cy="347.5" r="3.9"/><circle cx="545.1" cy="350.4" r="3.9"/><circle cx="545.8" cy="353.7" r="3.9"/><circle cx="546.4" cy="356.4" r="3.9"/><circle cx="546.8" cy="358.4" r="3.9"/><circle cx="547.1" cy="360.9" r="3.9"/><circle cx="547.4" cy="363" r="3.9"/><circle cx="547.8" cy="365.1" r="3.9"/><circle cx="548.4" cy="370.3" r="3.9"/><circle cx="549.7" cy="372.7" r="3.9"/><circle cx="550.1" cy="374.7" r="3.9"/><circle cx="551.1" cy="377.8" r="3.9"/><circle cx="551.4" cy="381.5" r="3.9"/><circle cx="551.7" cy="375.8" r="3.9"/><circle cx="552" cy="380.3" r="3.9"/><circle cx="553" cy="382.4" r="3.9"/><circle cx="553.4" cy="379.4" r="3.9"/><circle cx="553.7" cy="381.6" r="3.9"/><circle cx="554" cy="383.7" r="3.9"/><circle cx="554.4" cy="381.8" r="3.9"/><circle cx="555.7" cy="384.9" r="3.9"/><circle cx="556" cy="381.7" r="3.9"/><circle cx="556.3" cy="384.2" r="3.9"/><circle cx="556.7" cy="381.4" r="3.9"/><circle cx="557" cy="384" r="3.9"/><circle cx="557.7" cy="379.8" r="3.9"/><circle cx="558" cy="383.3" r="3.9"/><circle cx="559" cy="385.5" r="3.9"/><circle cx="559.3" cy="381.9" r="3.9"/><circle cx="560" cy="385.4" r="3.9"/><circle cx="560.3" cy="383.7" r="3.9"/><circle cx="560.6" cy="385.6" r="3.9"/><circle cx="561" cy="384" r="3.9"/><circle cx="561.3" cy="382.4" r="3.9"/><circle cx="561.9" cy="385.3" r="3.9"/><circle cx="562.6" cy="383.7" r="3.9"/><circle cx="563.9" cy="386.3" r="3.9"/><circle cx="564.3" cy="383.7" r="3.9"/><circle cx="564.6" cy="382.2" r="3.9"/><circle cx="565.2" cy="384.7" r="3.9"/><circle cx="566.2" cy="382.8" r="3.9"/><circle cx="566.9" cy="381.4" r="3.9"/><circle cx="567.6" cy="384.6" r="3.9"/><circle cx="567.9" cy="382.9" r="3.9"/><circle cx="568.5" cy="385.1" r="3.9"/><circle cx="569.2" cy="383.5" r="3.9"/><circle cx="569.5" cy="386.3" r="3.9"/><circle cx="569.9" cy="384.3" r="3.9"/><circle cx="571.2" cy="382.1" r="3.9"/><circle cx="572.2" cy="380.2" r="3.9"/><circle cx="572.5" cy="382.3" r="3.9"/><circle cx="573.5" cy="379.2" r="3.9"/><circle cx="574.8" cy="377.3" r="3.9"/><circle cx="575.1" cy="378.7" r="3.9"/><circle cx="575.5" cy="375.3" r="3.9"/><circle cx="576.5" cy="372.4" r="3.9"/><circle cx="577.5" cy="368.5" r="3.9"/><circle cx="577.8" cy="367" r="3.9"/><circle cx="578.4" cy="365.4" r="3.9"/><circle cx="578.8" cy="359.3" r="3.9"/><circle cx="579.4" cy="357.4" r="3.9"/><circle cx="579.8" cy="355.6" r="3.9"/><circle cx="580.4" cy="353" r="3.9"/><circle cx="581.1" cy="350.7" r="3.9"/><circle cx="582.1" cy="348.9" r="3.9"/><circle cx="582.4" cy="351.2" r="3.9"/><circle cx="582.7" cy="354" r="3.9"/><circle cx="583.7" cy="355.2" r="3.9"/><circle cx="584.4" cy="358.8" r="3.9"/><circle cx="584.7" cy="361.2" r="3.9"/><circle cx="585.4" cy="363.2" r="3.9"/><circle cx="585.7" cy="366.6" r="3.9"/><circle cx="586.4" cy="368.5" r="3.9"/><circle cx="587" cy="370" r="3.9"/><circle cx="587.4" cy="371.7" r="3.9"/><circle cx="587.7" cy="376.4" r="3.9"/><circle cx="588" cy="374.2" r="3.9"/><circle cx="588.7" cy="375.8" r="3.9"/><circle cx="589.3" cy="378.9" r="3.9"/><circle cx="590" cy="381.7" r="3.9"/><circle cx="590.3" cy="379.7" r="3.9"/><circle cx="590.7" cy="381.5" r="3.9"/><circle cx="591.6" cy="377.8" r="3.9"/><circle cx="592" cy="379.3" r="3.9"/><circle cx="593" cy="376.5" r="3.9"/><circle cx="593.3" cy="380.6" r="3.9"/><circle cx="593.6" cy="379" r="3.9"/><circle cx="595.3" cy="377.1" r="3.9"/><circle cx="596.6" cy="376.1" r="3.9"/><circle cx="597.3" cy="374.1" r="3.9"/><circle cx="598.2" cy="370.9" r="3.9"/><circle cx="598.6" cy="373.1" r="3.9"/><circle cx="598.9" cy="371" r="3.9"/><circle cx="599.2" cy="368" r="3.9"/><circle cx="599.9" cy="363.7" r="3.9"/><circle cx="600.2" cy="361.7" r="3.9"/><circle cx="600.9" cy="359.8" r="3.9"/><circle cx="601.2" cy="358" r="3.9"/><circle cx="601.5" cy="355.6" r="3.9"/><circle cx="602.2" cy="349" r="3.9"/><circle cx="602.9" cy="345.1" r="3.9"/><circle cx="603.2" cy="343.5" r="3.9"/><circle cx="603.5" cy="341.1" r="3.9"/><circle cx="603.9" cy="337.4" r="3.9"/><circle cx="604.2" cy="334.3" r="3.9"/><circle cx="604.5" cy="331.9" r="3.9"/><circle cx="604.8" cy="330.2" r="3.9"/><circle cx="605.2" cy="328" r="3.9"/><circle cx="605.5" cy="324.9" r="3.9"/><circle cx="605.8" cy="319.8" r="3.9"/><circle cx="606.2" cy="317" r="3.9"/><circle cx="606.5" cy="313.7" r="3.9"/><circle cx="607.2" cy="306.1" r="3.9"/><circle cx="607.8" cy="302.2" r="3.9"/><circle cx="608.1" cy="299" r="3.9"/><circle cx="608.8" cy="296.2" r="3.9"/><circle cx="609.1" cy="293.1" r="3.9"/><circle cx="609.8" cy="289.1" r="3.9"/><circle cx="610.8" cy="285.2" r="3.9"/><circle cx="611.8" cy="286.4" r="3.9"/><circle cx="612.4" cy="288.3" r="3.9"/><circle cx="612.8" cy="291.4" r="3.9"/><circle cx="613.4" cy="295.5" r="3.9"/><circle cx="613.8" cy="297.6" r="3.9"/><circle cx="614.1" cy="300.3" r="3.9"/><circle cx="614.7" cy="305.6" r="3.9"/><circle cx="615.1" cy="309.7" r="3.9"/><circle cx="615.7" cy="315.2" r="3.9"/><circle cx="616.4" cy="322.3" r="3.9"/><circle cx="617.1" cy="328.8" r="3.9"/><circle cx="617.7" cy="334.6" r="3.9"/><circle cx="618" cy="336.3" r="3.9"/><circle cx="618.4" cy="340.6" r="3.9"/><circle cx="619" cy="344.2" r="3.9"/><circle cx="619.4" cy="350.5" r="3.9"/><circle cx="619.7" cy="349" r="3.9"/><circle cx="620" cy="351.6" r="3.9"/><circle cx="620.4" cy="354.4" r="3.9"/><circle cx="621" cy="360.6" r="3.9"/><circle cx="621.3" cy="363.3" r="3.9"/><circle cx="622.3" cy="367.8" r="3.9"/><circle cx="623" cy="370.4" r="3.9"/><circle cx="623.3" cy="372.1" r="3.9"/><circle cx="624.6" cy="373.2" r="3.9"/><circle cx="625" cy="377.2" r="3.9"/><circle cx="625.6" cy="380.4" r="3.9"/><circle cx="626" cy="378.2" r="3.9"/><circle cx="626.6" cy="380.3" r="3.9"/><circle cx="627" cy="382.1" r="3.9"/><circle cx="627.6" cy="378.9" r="3.9"/><circle cx="627.9" cy="381.3" r="3.9"/><circle cx="628.3" cy="382.8" r="3.9"/><circle cx="628.6" cy="380.6" r="3.9"/><circle cx="629.3" cy="382.8" r="3.9"/><circle cx="629.9" cy="380.2" r="3.9"/><circle cx="630.9" cy="382.1" r="3.9"/><circle cx="632.2" cy="379.7" r="3.9"/><circle cx="632.6" cy="382.2" r="3.9"/><circle cx="633.9" cy="381.2" r="3.9"/><circle cx="634.5" cy="383.2" r="3.9"/><circle cx="634.9" cy="380.6" r="3.9"/><circle cx="635.2" cy="379.1" r="3.9"/><circle cx="635.5" cy="383.1" r="3.9"/><circle cx="635.9" cy="380.6" r="3.9"/><circle cx="636.5" cy="379.1" r="3.9"/><circle cx="638.2" cy="374.9" r="3.9"/><circle cx="638.5" cy="378" r="3.9"/><circle cx="638.8" cy="374.5" r="3.9"/><circle cx="639.8" cy="372.5" r="3.9"/><circle cx="640.2" cy="369.3" r="3.9"/><circle cx="640.5" cy="372.3" r="3.9"/><circle cx="640.8" cy="367.4" r="3.9"/><circle cx="641.5" cy="365.7" r="3.9"/><circle cx="642.1" cy="361.7" r="3.9"/><circle cx="642.8" cy="358.1" r="3.9"/><circle cx="643.5" cy="355.2" r="3.9"/><circle cx="644.4" cy="353.4" r="3.9"/><circle cx="645.4" cy="351.4" r="3.9"/><circle cx="646.1" cy="353.9" r="3.9"/><circle cx="646.4" cy="352.3" r="3.9"/><circle cx="646.8" cy="356.4" r="3.9"/><circle cx="647.7" cy="358.3" r="3.9"/><circle cx="648.1" cy="361" r="3.9"/><circle cx="648.7" cy="362.7" r="3.9"/><circle cx="649.1" cy="366.3" r="3.9"/><circle cx="649.4" cy="364.5" r="3.9"/><circle cx="649.7" cy="368.1" r="3.9"/><circle cx="650.1" cy="369.6" r="3.9"/><circle cx="650.4" cy="371.2" r="3.9"/><circle cx="650.7" cy="373.3" r="3.9"/><circle cx="651.4" cy="376" r="3.9"/><circle cx="652.7" cy="377.2" r="3.9"/><circle cx="653" cy="379.8" r="3.9"/><circle cx="654" cy="381.5" r="3.9"/><circle cx="655" cy="378.8" r="3.9"/><circle cx="655.7" cy="380.9" r="3.9"/><circle cx="656.7" cy="378.6" r="3.9"/><circle cx="658" cy="376.6" r="3.9"/><circle cx="658.6" cy="374.8" r="3.9"/><circle cx="659.6" cy="372.1" r="3.9"/><circle cx="660" cy="375.8" r="3.9"/><circle cx="660.3" cy="374.1" r="3.9"/><circle cx="660.6" cy="376.3" r="3.9"/><circle cx="661.6" cy="380.1" r="3.9"/><circle cx="661.9" cy="378" r="3.9"/><circle cx="662.9" cy="380.6" r="3.9"/><circle cx="663.3" cy="384.6" r="3.9"/><circle cx="663.6" cy="382.7" r="3.9"/><circle cx="663.9" cy="384.3" r="3.9"/><circle cx="664.2" cy="382.4" r="3.9"/><circle cx="664.6" cy="384.6" r="3.9"/><circle cx="665.2" cy="387.2" r="3.9"/><circle cx="665.6" cy="384.2" r="3.9"/><circle cx="665.9" cy="386" r="3.9"/><circle cx="666.6" cy="384.2" r="3.9"/></g>
<path d="M45.2 390.1 45.7 390.1 46.2 390.1 46.7 390.1 47.2 390.1 47.7 390.1 48.2 390.1 48.7 390.1 49.2 390.1 49.7 390.1 50.2 390.1 50.7 390.1 51.2 390.1 51.7 390.1 52.2 390.1 52.7 390.1 53.2 390.1 53.7 390.1 54.2 390.1 54.7 390.1 55.2 390.1 55.7 390 56.2 390 56.7 390 57.2 390 57.7 390 58.2 390 58.7 390 59.2 390 59.7 390 60.2 390 60.7 390 61.2 390 61.7 390 62.2 390 62.7 390 63.2 390 63.7 390 64.2 390 64.7 390 65.2 390 65.7 390 66.2 390 66.7 390 67.2 390 67.7 390 68.2 390 68.7 390 69.2 390 69.7 390 70.2 390 70.7 390 71.2 390 71.7 390 72.2 390 72.7 390 73.2 390 73.7 390 74.2 390 74.7 390 75.2 390 75.7 390 76.2 390 76.7 390 77.2 390 77.7 390 78.2 390 78.7 390 79.2 390 79.7 390 80.2 390 80.7 390 81.2 390 81.7 390 82.2 389.9 82.7 389.9 83.2 389.9 83.7 389.9 84.2 389.9 84.7 389.9 85.2 389.9 85.7 389.9 86.2 389.9 86.7 389.9 87.2 389.9 87.7 389.9 88.2 389.9 88.7 389.9 89.2 389.9 89.7 389.9 90.2 389.9 90.7 389.9 91.2 389.9 91.7 389.9 92.2 389.9 92.7 389.9 93.2 389.9 93.7 389.9 94.2 389.9 94.7 389.9 95.2 389.9 95.7 389.9 96.2 389.9 96.7 389.9 97.2 389.9 97.7 389.9 98.2 389.9 98.7 389.9 99.2 389.9 99.7 389.9 100.2 389.9 100.7 389.9 101.2 389.9 101.7 389.9 102.2 389.8 102.7 389.8 103.2 389.8 103.7 389.8 104.2 389.8 104.7 389.8 105.2 389.8 105.7 389.8 106.2 389.8 106.7 389.8 107.2 389.8 107.7 389.8 108.2 389.8 108.7 389.8 109.2 389.8 109.7 389.8 110.2 389.8 110.7 389.8 111.2 389.8 111.7 389.8 112.2 389.8 112.7 389.8 113.2 389.8 113.7 389.8 114.2 389.8 114.7 389.8 115.2 389.8 115.7 389.8 116.2 389.7 116.7 389.7 117.2 389.7 117.7 389.7 118.2 389.7 118.7 389.7 119.2 389.7 119.7 389.7 120.2 389.7 120.7 389.7 121.2 389.7 121.7 389.7 122.2 389.7 122.7 389.7 123.2 389.7 123.7 389.7 124.2 389.7 124.7 389.7 125.2 389.7 125.7 389.7 126.2 389.7 126.7 389.6 127.2 389.6 127.7 389.6 128.2 389.6 128.7 389.6 129.2 389.6 129.7 389.6 130.2 389.6 130.7 389.6 131.2 389.6 131.7 389.6 132.2 389.6 132.7 389.6 133.2 389.6 133.7 389.6 134.2 389.5 134.7 389.5 135.2 389.5 135.7 389.5 136.2 389.5 136.7 389.5 137.2 389.5 137.7 389.5 138.2 389.5 138.7 389.5 139.2 389.5 139.7 389.5 140.2 389.4 140.7 389.4 141.2 389.4 141.7 389.4 142.2 389.4 142.7 389.4 143.2 389.4 143.7 389.4 144.2 389.4 144.7 389.3 145.2 389.3 145.7 389.3 146.2 389.3 146.7 389.3 147.2 389.3 147.7 389.3 148.2 389.3 148.7 389.2 149.2 389.2 149.7 389.2 150.2 389.2 150.7 389.2 151.2 389.2 151.7 389.1 152.2 389.1 152.7 389.1 153.2 389.1 153.7 389 154.2 389 154.7 389 155.2 389 155.7 388.9 156.2 388.9 156.7 388.9 157.2 388.9 157.7 388.8 158.2 388.8 158.7 388.8 159.2 388.7 159.7 388.7 160.2 388.6 160.7 388.6 161.2 388.5 161.7 388.5 162.2 388.4 162.7 388.3 163.2 388.2 163.7 388.1 164.2 388 164.7 387.8 165.2 387.6 165.7 387.4 166.2 387.2 166.7 386.9 167.2 386.5 167.7 386.1 168.2 385.6 168.7 385 169.2 384.3 169.7 383.5 170.2 382.6 170.7 381.5 171.2 380.2 171.7 378.8 172.2 377.2 172.7 375.3 173.2 373.2 173.7 370.8 174.2 368.2 174.7 365.3 175.2 362 175.7 358.5 176.2 354.6 176.7 350.4 177.2 345.9 177.7 341.1 178.2 336.1 178.7 330.7 179.2 325.1 179.7 319.4 180.2 313.5 180.7 307.4 181.2 301.4 181.7 295.3 182.2 289.3 182.7 283.5 183.2 277.9 183.7 272.6 184.2 267.7 184.7 263.3 185.2 259.3 185.7 255.9 186.2 253.2 186.7 251.2 187.2 249.9 187.7 249.3 188.2 249.5 188.7 250.5 189.2 252.2 189.7 254.6 190.2 257.7 190.7 261.3 191.2 265.6 191.7 270.3 192.2 275.4 192.7 280.8 193.2 286.5 193.7 292.4 194.2 298.3 194.7 304.4 195.2 310.3 195.7 316.3 196.2 322 196.7 327.6 197.2 333 197.7 338.2 198.2 343 198.7 347.6 199.2 351.8 199.7 355.7 200.2 359.3 200.7 362.6 201.2 365.6 201.7 368.3 202.2 370.6 202.7 372.8 203.2 374.6 203.7 376.3 204.2 377.7 204.7 378.9 205.2 379.9 205.7 380.8 206.2 381.6 206.7 382.2 207.2 382.6 207.7 383 208.2 383.3 208.7 383.5 209.2 383.7 209.7 383.8 210.2 383.8 210.7 383.7 211.2 383.7 211.7 383.5 212.2 383.3 212.7 383.1 213.2 382.8 213.7 382.5 214.2 382.1 214.7 381.6 215.2 381 215.7 380.3 216.2 379.5 216.7 378.6 217.2 377.5 217.7 376.2 218.2 374.7 218.7 373 219.2 371 219.7 368.7 220.2 366.2 220.7 363.4 221.2 360.3 221.7 356.9 222.2 353.2 222.7 349.5 223.2 345.6 223.7 341.9 224.2 338.4 224.7 335.5 225.2 333.3 225.7 332 226.2 331.9 226.7 332.8 227.2 334.7 227.7 337.4 228.2 340.7 228.7 344.2 229.2 347.9 229.7 351.6 230.2 355.1 230.7 358.3 231.2 361.3 231.7 363.9 232.2 366.2 232.7 368.2 233.2 369.8 233.7 371.1 234.2 372 234.7 372.7 235.2 373 235.7 372.9 236.2 372.6 236.7 371.9 237.2 370.8 237.7 369.4 238.2 367.6 238.7 365.3 239.2 362.5 239.7 359.3 240.2 355.4 240.7 351 241.2 346 241.7 340.4 242.2 334 242.7 327 243.2 319.3 243.7 310.9 244.2 301.7 244.7 292 245.2 281.6 245.7 270.8 246.2 259.4 246.7 247.7 247.2 235.8 247.7 223.8 248.2 211.8 248.7 200 249.2 188.5 249.7 177.6 250.2 167.5 250.7 158.2 251.2 150 251.7 143.1 252.2 137.5 252.7 133.5 253.2 131 253.7 130.2 254.2 131.1 254.7 133.6 255.2 137.7 255.7 143.4 256.2 150.4 256.7 158.7 257.2 168 257.7 178.3 258.2 189.3 258.7 200.8 259.2 212.7 259.7 224.8 260.2 236.9 260.7 248.9 261.2 260.8 261.7 272.2 262.2 283.2 262.7 293.7 263.2 303.6 263.7 312.8 264.2 321.4 264.7 329.3 265.2 336.5 265.7 343.1 266.2 349 266.7 354.2 267.2 358.9 267.7 363 268.2 366.6 268.7 369.7 269.2 372.4 269.7 374.7 270.2 376.7 270.7 378.4 271.2 379.8 271.7 381 272.2 382 272.7 382.8 273.2 383.5 273.7 384.1 274.2 384.6 274.7 385 275.2 385.4 275.7 385.7 276.2 385.9 276.7 386.1 277.2 386.3 277.7 386.4 278.2 386.6 278.7 386.7 279.2 386.8 279.7 386.9 280.2 387 280.7 387.1 281.2 387.1 281.7 387.2 282.2 387.2 282.7 387.3 283.2 387.4 283.7 387.4 284.2 387.5 284.7 387.5 285.2 387.6 285.7 387.6 286.2 387.6 286.7 387.7 287.2 387.7 287.7 387.7 288.2 387.8 288.7 387.8 289.2 387.8 289.7 387.9 290.2 387.9 290.7 387.9 291.2 387.9 291.7 388 292.2 388 292.7 388 293.2 388 293.7 388.1 294.2 388.1 294.7 388.1 295.2 388.1 295.7 388.1 296.2 388.2 296.7 388.2 297.2 388.2 297.7 388.2 298.2 388.2 298.7 388.2 299.2 388.2 299.7 388.3 300.2 388.3 300.7 388.3 301.2 388.3 301.7 388.3 302.2 388.3 302.7 388.3 303.2 388.3 303.7 388.3 304.2 388.3 304.7 388.4 305.2 388.4 305.7 388.4 306.2 388.4 306.7 388.4 307.2 388.4 307.7 388.4 308.2 388.4 308.7 388.4 309.2 388.4 309.7 388.4 310.2 388.4 310.7 388.4 311.2 388.4 311.7 388.4 312.2 388.4 312.7 388.4 313.2 388.4 313.7 388.4 314.2 388.4 314.7 388.4 315.2 388.4 315.7 388.4 316.2 388.4 316.7 388.4 317.2 388.4 317.7 388.4 318.2 388.4 318.7 388.4 319.2 388.4 319.7 388.4 320.2 388.4 320.7 388.4 321.2 388.4 321.7 388.4 322.2 388.4 322.7 388.4 323.2 388.4 323.7 388.4 324.2 388.4 324.7 388.4 325.2 388.4 325.7 388.4 326.2 388.4 326.7 388.4 327.2 388.4 327.7 388.4 328.2 388.4 328.7 388.4 329.2 388.3 329.7 388.3 330.2 388.3 330.7 388.3 331.2 388.3 331.7 388.3 332.2 388.3 332.7 388.2 333.2 388.2 333.7 388.2 334.2 388.2 334.7 388.1 335.2 388.1 335.7 388 336.2 388 336.7 387.9 337.2 387.9 337.7 387.8 338.2 387.7 338.7 387.6 339.2 387.5 339.7 387.3 340.2 387.2 340.7 387 341.2 386.8 341.7 386.5 342.2 386.2 342.7 385.9 343.2 385.6 343.7 385.2 344.2 384.7 344.7 384.2 345.2 383.7 345.7 383.1 346.2 382.4 346.7 381.7 347.2 381 347.7 380.2 348.2 379.4 348.7 378.6 349.2 377.7 349.7 376.9 350.2 376 350.7 375.2 351.2 374.4 351.7 373.6 352.2 372.9 352.7 372.3 353.2 371.8 353.7 371.4 354.2 371.1 354.7 371 355.2 371 355.7 371.2 356.2 371.5 356.7 371.9 357.2 372.4 357.7 373 358.2 373.7 358.7 374.5 359.2 375.3 359.7 376.1 360.2 377 360.7 377.8 361.2 378.6 361.7 379.5 362.2 380.3 362.7 381 363.2 381.7 363.7 382.4 364.2 383 364.7 383.6 365.2 384.1 365.7 384.6 366.2 385 366.7 385.4 367.2 385.8 367.7 386.1 368.2 386.3 368.7 386.6 369.2 386.7 369.7 386.9 370.2 387 370.7 387.2 371.2 387.2 371.7 387.3 372.2 387.4 372.7 387.4 373.2 387.4 373.7 387.5 374.2 387.5 374.7 387.5 375.2 387.4 375.7 387.4 376.2 387.3 376.7 387.3 377.2 387.2 377.7 387.1 378.2 386.9 378.7 386.7 379.2 386.4 379.7 386.1 380.2 385.7 380.7 385.2 381.2 384.6 381.7 383.8 382.2 382.9 382.7 381.8 383.2 380.5 383.7 379.1 384.2 377.5 384.7 375.7 385.2 373.8 385.7 371.7 386.2 369.6 386.7 367.5 387.2 365.4 387.7 363.5 388.2 361.7 388.7 360.3 389.2 359.3 389.7 358.7 390.2 358.6 390.7 359.1 391.2 360 391.7 361.4 392.2 363.1 392.7 365 393.2 367.1 393.7 369.2 394.2 371.3 394.7 373.3 395.2 375.3 395.7 377 396.2 378.6 396.7 380.1 397.2 381.3 397.7 382.3 398.2 383.2 398.7 383.9 399.2 384.4 399.7 384.8 400.2 385 400.7 385.1 401.2 385.2 401.7 385.1 402.2 385 402.7 384.8 403.2 384.6 403.7 384.4 404.2 384.1 404.7 383.8 405.2 383.6 405.7 383.3 406.2 383.2 406.7 383 407.2 383 407.7 383 408.2 383.1 408.7 383.3 409.2 383.5 409.7 383.8 410.2 384.2 410.7 384.5 411.2 384.9 411.7 385.3 412.2 385.6 412.7 386 413.2 386.3 413.7 386.6 414.2 386.9 414.7 387.1 415.2 387.4 415.7 387.6 416.2 387.7 416.7 387.9 417.2 388 417.7 388.1 418.2 388.2 418.7 388.2 419.2 388.3 419.7 388.3 420.2 388.4 420.7 388.4 421.2 388.4 421.7 388.5 422.2 388.5 422.7 388.5 423.2 388.5 423.7 388.5 424.2 388.5 424.7 388.5 425.2 388.6 425.7 388.6 426.2 388.6 426.7 388.6 427.2 388.6 427.7 388.6 428.2 388.6 428.7 388.6 429.2 388.6 429.7 388.6 430.2 388.6 430.7 388.6 431.2 388.6 431.7 388.6 432.2 388.6 432.7 388.6 433.2 388.6 433.7 388.6 434.2 388.6 434.7 388.6 435.2 388.6 435.7 388.6 436.2 388.6 436.7 388.6 437.2 388.6 437.7 388.6 438.2 388.6 438.7 388.6 439.2 388.6 439.7 388.6 440.2 388.6 440.7 388.6 441.2 388.6 441.7 388.6 442.2 388.6 442.7 388.6 443.2 388.6 443.7 388.6 444.2 388.6 444.7 388.6 445.2 388.6 445.7 388.6 446.2 388.6 446.7 388.6 447.2 388.6 447.7 388.6 448.2 388.6 448.7 388.6 449.2 388.6 449.7 388.6 450.2 388.6 450.7 388.6 451.2 388.6 451.7 388.6 452.2 388.5 452.7 388.5 453.2 388.5 453.7 388.5 454.2 388.5 454.7 388.5 455.2 388.5 455.7 388.5 456.2 388.5 456.7 388.5 457.2 388.5 457.7 388.5 458.2 388.4 458.7 388.4 459.2 388.4 459.7 388.4 460.2 388.4 460.7 388.4 461.2 388.4 461.7 388.3 462.2 388.3 462.7 388.3 463.2 388.3 463.7 388.3 464.2 388.3 464.7 388.2 465.2 388.2 465.7 388.2 466.2 388.2 466.7 388.1 467.2 388.1 467.7 388.1 468.2 388.1 468.7 388 469.2 388 469.7 388 470.2 387.9 470.7 387.9 471.2 387.9 471.7 387.8 472.2 387.8 472.7 387.7 473.2 387.7 473.7 387.6 474.2 387.5 474.7 387.5 475.2 387.4 475.7 387.3 476.2 387.1 476.7 387 477.2 386.9 477.7 386.7 478.2 386.4 478.7 386.2 479.2 385.8 479.7 385.5 480.2 385 480.7 384.4 481.2 383.8 481.7 383 482.2 382.2 482.7 381.2 483.2 380 483.7 378.7 484.2 377.3 484.7 375.8 485.2 374.1 485.7 372.3 486.2 370.4 486.7 368.5 487.2 366.5 487.7 364.5 488.2 362.6 488.7 360.9 489.2 359.3 489.7 357.9 490.2 356.9 490.7 356.2 491.2 355.8 491.7 355.8 492.2 356.2 492.7 356.8 493.2 357.7 493.7 358.8 494.2 359.9 494.7 361 495.2 362.1 495.7 362.9 496.2 363.5 496.7 363.7 497.2 363.6 497.7 363.1 498.2 362.2 498.7 360.8 499.2 359.1 499.7 357 500.2 354.6 500.7 352.1 501.2 349.5 501.7 347 502.2 344.7 502.7 342.9 503.2 341.7 503.7 341.2 504.2 341.5 504.7 342.6 505.2 344.5 505.7 346.9 506.2 349.9 506.7 353.1 507.2 356.5 507.7 359.9 508.2 363.2 508.7 366.4 509.2 369.4 509.7 372 510.2 374.4 510.7 376.5 511.2 378.2 511.7 379.7 512.2 380.9 512.7 381.9 513.2 382.7 513.7 383.3 514.2 383.8 514.7 384.1 515.2 384.4 515.7 384.6 516.2 384.7 516.7 384.7 517.2 384.7 517.7 384.6 518.2 384.5 518.7 384.3 519.2 384.1 519.7 383.8 520.2 383.4 520.7 382.9 521.2 382.4 521.7 381.8 522.2 381 522.7 380.2 523.2 379.2 523.7 378 524.2 376.7 524.7 375.3 525.2 373.6 525.7 371.8 526.2 369.8 526.7 367.6 527.2 365.1 527.7 362.5 528.2 359.7 528.7 356.7 529.2 353.6 529.7 350.3 530.2 346.9 530.7 343.3 531.2 339.8 531.7 336.2 532.2 332.6 532.7 329.1 533.2 325.8 533.7 322.6 534.2 319.6 534.7 317 535.2 314.7 535.7 312.8 536.2 311.3 536.7 310.3 537.2 309.8 537.7 309.9 538.2 310.5 538.7 311.6 539.2 313.1 539.7 315.1 540.2 317.5 540.7 320.2 541.2 323.3 541.7 326.5 542.2 329.9 542.7 333.4 543.2 337 543.7 340.6 544.2 344.2 544.7 347.7 545.2 351.1 545.7 354.4 546.2 357.5 546.7 360.5 547.2 363.2 547.7 365.8 548.2 368.2 548.7 370.4 549.2 372.4 549.7 374.2 550.2 375.9 550.7 377.3 551.2 378.6 551.7 379.7 552.2 380.7 552.7 381.6 553.2 382.4 553.7 383 554.2 383.6 554.7 384 555.2 384.4 555.7 384.8 556.2 385.1 556.7 385.3 557.2 385.5 557.7 385.7 558.2 385.8 558.7 386 559.2 386.1 559.7 386.1 560.2 386.2 560.7 386.2 561.2 386.3 561.7 386.3 562.2 386.3 562.7 386.3 563.2 386.4 563.7 386.4 564.2 386.3 564.7 386.3 565.2 386.3 565.7 386.3 566.2 386.2 566.7 386.2 567.2 386.1 567.7 386.1 568.2 386 568.7 385.9 569.2 385.8 569.7 385.6 570.2 385.4 570.7 385.2 571.2 384.9 571.7 384.6 572.2 384.2 572.7 383.6 573.2 383 573.7 382.2 574.2 381.2 574.7 380.1 575.2 378.7 575.7 377.1 576.2 375.4 576.7 373.3 577.2 371.1 577.7 368.8 578.2 366.3 578.7 363.7 579.2 361.2 579.7 358.8 580.2 356.6 580.7 354.9 581.2 353.6 581.7 353 582.2 353 582.7 353.7 583.2 355 583.7 356.8 584.2 358.9 584.7 361.3 585.2 363.8 585.7 366.2 586.2 368.6 586.7 370.9 587.2 372.9 587.7 374.8 588.2 376.4 588.7 377.8 589.2 379 589.7 380 590.2 380.8 590.7 381.3 591.2 381.8 591.7 382 592.2 382.2 592.7 382.2 593.2 382.1 593.7 381.9 594.2 381.6 594.7 381.1 595.2 380.6 595.7 379.9 596.2 379.1 596.7 378.1 597.2 377 597.7 375.6 598.2 374.1 598.7 372.4 599.2 370.5 599.7 368.3 600.2 365.9 600.7 363.3 601.2 360.3 601.7 357.2 602.2 353.8 602.7 350.2 603.2 346.3 603.7 342.3 604.2 338.1 604.7 333.8 605.2 329.5 605.7 325.1 606.2 320.7 606.7 316.4 607.2 312.3 607.7 308.4 608.2 304.9 608.7 301.7 609.2 299.1 609.7 296.9 610.2 295.4 610.7 294.5 611.2 294.3 611.7 294.8 612.2 296 612.7 297.7 613.2 300.1 613.7 303 614.2 306.3 614.7 310 615.2 314 615.7 318.2 616.2 322.5 616.7 326.9 617.2 331.3 617.7 335.7 618.2 340 618.7 344.1 619.2 348.1 619.7 351.9 620.2 355.4 620.7 358.7 621.2 361.8 621.7 364.6 622.2 367.2 622.7 369.5 623.2 371.6 623.7 373.5 624.2 375.2 624.7 376.6 625.2 377.9 625.7 379 626.2 380 626.7 380.8 627.2 381.5 627.7 382.1 628.2 382.7 628.7 383.1 629.2 383.4 629.7 383.7 630.2 383.9 630.7 384.1 631.2 384.2 631.7 384.3 632.2 384.4 632.7 384.3 633.2 384.3 633.7 384.2 634.2 384 634.7 383.7 635.2 383.4 635.7 382.9 636.2 382.4 636.7 381.7 637.2 380.8 637.7 379.8 638.2 378.6 638.7 377.2 639.2 375.6 639.7 373.8 640.2 371.9 640.7 369.7 641.2 367.5 641.7 365.2 642.2 362.8 642.7 360.5 643.2 358.4 643.7 356.6 644.2 355.1 644.7 354.1 645.2 353.7 645.7 353.9 646.2 354.7 646.7 356 647.2 357.7 647.7 359.8 648.2 362.1 648.7 364.4 649.2 366.8 649.7 369.1 650.2 371.3 650.7 373.3 651.2 375.2 651.7 376.8 652.2 378.2 652.7 379.3 653.2 380.2 653.7 380.9 654.2 381.3 654.7 381.5 655.2 381.5 655.7 381.3 656.2 380.9 656.7 380.4 657.2 379.8 657.7 379.1 658.2 378.5 658.7 378 659.2 377.7 659.7 377.7 660.2 378 660.7 378.5 661.2 379.2 661.7 380.1 662.2 381 662.7 382 663.2 382.9 663.7 383.7 664.2 384.5 664.7 385.1 665.2 385.6 665.7 386.1 666.2 386.5 666.7 386.8" fill="none" stroke="#f50d0d" stroke-width="5.3" stroke-linejoin="round" stroke-linecap="butt"/>
<g fill="#27a55b"><rect x="181.5" y="408" width="3.2" height="26.4"/><rect x="251.7" y="408" width="3.2" height="26.4"/><rect x="272.6" y="408" width="3.2" height="26.4"/><rect x="351.4" y="408" width="3.2" height="26.4"/><rect x="404.7" y="408" width="3.2" height="26.4"/><rect x="486.4" y="408" width="4.2" height="26.4"/><rect x="532.8" y="408" width="4.2" height="26.4"/><rect x="606.4" y="408" width="4.2" height="26.4"/><rect x="648.7" y="408" width="4.2" height="26.4"/><rect x="662.5" y="408" width="4.2" height="26.4"/><rect x="187.8" y="424.7" width="3.2" height="26.5"/><rect x="221.3" y="424.7" width="3.2" height="26.5"/><rect x="244.2" y="424.7" width="3.2" height="26.5"/><rect x="386.1" y="424.7" width="3.2" height="26.5"/><rect x="499.2" y="424.7" width="4.2" height="26.5"/><rect x="577.9" y="424.7" width="4.2" height="26.5"/><rect x="622" y="424.7" width="4.2" height="26.5"/><rect x="641.8" y="424.7" width="4.2" height="26.5"/><rect x="656.1" y="424.7" width="4.2" height="26.5"/></g>
<path d="M45.2 474.3 45.6 474.2 45.9 473.5 46.3 474.5 46.6 474.5 47 474.1 47.3 473.8 47.7 474.8 48 474.4 48.4 474.7 48.7 474.8 49.1 474.1 49.4 474.6 49.8 474.2 50.1 474.3 50.5 474.3 50.8 474.3 51.2 474.7 51.5 474.3 51.9 474.2 52.2 474.2 52.6 474.4 52.9 474 53.3 474.1 53.6 474.3 54 474.1 54.3 474.3 54.7 474.1 55 475 55.4 474.8 55.7 474.5 56.1 474.3 56.4 475.1 56.8 474.4 57.1 474.3 57.5 474.4 57.8 474.4 58.2 474.8 58.5 474.3 58.9 475.1 59.2 474 59.6 474.5 59.9 473.9 60.3 475 60.6 474.2 61 474.3 61.3 474.6 61.7 474.8 62 473.9 62.4 474.2 62.7 473.8 63.1 474.3 63.4 474.3 63.8 474.2 64.1 474.1 64.5 474.2 64.8 474 65.2 474.5 65.5 474.8 65.9 473.6 66.2 474.3 66.6 474.1 66.9 474.5 67.3 474 67.6 474.2 68 473.9 68.3 474.6 68.7 474.3 69 474.2 69.4 474.4 69.7 474.2 70.1 473.7 70.4 474.5 70.8 474.4 71.1 474.2 71.5 474.7 71.8 474.7 72.2 473.9 72.5 474 72.9 474.9 73.2 474.8 73.6 474 73.9 473.9 74.3 474.1 74.6 474.1 75 473.7 75.3 474.3 75.7 473.8 76 473.9 76.4 474.6 76.7 474 77.1 474.3 77.4 474.5 77.8 474.6 78.1 474.2 78.5 474.3 78.8 474 79.2 474.9 79.5 474.5 79.9 473.9 80.2 474.3 80.6 474.6 80.9 474.5 81.3 475 81.6 474.8 82 474.1 82.3 474.3 82.7 473.8 83 474.4 83.4 474.4 83.7 475.3 84.1 474.3 84.4 473.5 84.8 474.1 85.1 474.3 85.5 473.8 85.8 474 86.2 474.2 86.5 474.4 86.9 474.2 87.2 474 87.6 474.6 87.9 474.1 88.3 474.1 88.6 473.8 89 474 89.3 474.5 89.7 473.7 90 474.3 90.4 474.6 90.7 474.2 91.1 474.4 91.4 473.9 91.8 474.8 92.1 474.7 92.5 474.4 92.8 473.6 93.2 473.9 93.5 474.7 93.9 474.9 94.2 474.4 94.6 474.8 94.9 474.1 95.3 474.2 95.6 474.3 96 474.5 96.3 473.7 96.7 474.7 97 474.8 97.4 473.9 97.7 473.8 98.1 474.4 98.4 474.1 98.8 473.4 99.1 474.6 99.5 474.4 99.8 474.1 100.2 475.1 100.5 474.3 100.9 474 101.2 474.3 101.6 473.9 101.9 474 102.3 474.4 102.6 474.1 103 474.1 103.3 474.9 103.7 474.6 104 474.6 104.4 474.5 104.7 474.5 105.1 474.8 105.4 474.3 105.8 475 106.1 473.9 106.5 474.2 106.8 473.7 107.2 474.1 107.5 474.5 107.9 474.8 108.2 474 108.6 474.3 108.9 474.1 109.3 474 109.6 473.8 110 474.3 110.3 473.6 110.7 474.3 111 474.2 111.4 474 111.7 473.8 112.1 473.7 112.4 474.9 112.8 473.7 113.1 474.8 113.5 474.4 113.8 474.1 114.2 473.8 114.5 474.6 114.9 474.9 115.2 473.9 115.6 474.1 115.9 474.6 116.3 474.3 116.6 475 117 474 117.3 474.4 117.7 473.7 118 475 118.4 473.9 118.7 473.3 119.1 474.1 119.4 474.1 119.8 474.9 120.1 474 120.5 474.2 120.8 474.4 121.2 474.8 121.5 474.1 121.9 474.6 122.2 474.4 122.6 474 122.9 474.2 123.3 474.2 123.6 473.8 124 474.6 124.3 473.6 124.7 474.6 125 474.5 125.4 474.1 125.7 473.8 126.1 474.1 126.4 474.3 126.8 474.4 127.1 474.2 127.5 474.5 127.8 473.9 128.2 474.2 128.5 473.5 128.9 474.4 129.2 474.2 129.6 474 129.9 474.6 130.3 474.4 130.6 473 131 474.1 131.3 473.5 131.7 474.5 132 475.1 132.4 473.9 132.7 474.1 133.1 474 133.4 474.2 133.8 474.4 134.1 474.6 134.5 473.7 134.8 474.7 135.2 473.7 135.5 474.2 135.9 474.5 136.2 474.4 136.6 473.7 136.9 473.8 137.3 473.9 137.6 474.1 138 474.5 138.3 473.6 138.7 474.3 139 474.3 139.4 474.3 139.7 474.2 140.1 474.7 140.4 474.3 140.8 474.4 141.1 474.3 141.5 474.8 141.8 473.3 142.2 474.6 142.5 473.9 142.9 473.9 143.2 473.7 143.6 473.3 143.9 473.9 144.3 473.8 144.6 474.2 145 473.4 145.3 474.6 145.7 474.1 146 473.9 146.4 473.7 146.7 473.7 147.1 473.6 147.4 473.8 147.8 474 148.1 473.9 148.5 473.4 148.8 473.9 149.2 473.6 149.5 474.1 149.9 474.7 150.2 474.3 150.6 473.9 150.9 473.3 151.3 473.4 151.6 473.2 152 474.3 152.3 473.6 152.7 474 153 473.7 153.4 474 153.7 474.7 154.1 473.6 154.4 473.8 154.8 473.5 155.1 474.4 155.5 473.4 155.8 473.3 156.2 473.2 156.5 473.2 156.9 474.2 157.2 475.4 157.6 473.4 157.9 474.5 158.3 474.1 158.6 473.3 159 473.8 159.3 473.8 159.7 473.5 160 475.2 160.4 472.5 160.7 473.9 161.1 473.8 161.4 473.1 161.8 473.4 162.1 473.8 162.5 473.2 162.8 473.3 163.2 473.4 163.5 471.3 163.9 473.7 164.2 474.2 164.6 473.2 164.9 473.1 165.3 471.1 165.6 472 166 471.3 166.3 471.5 166.7 472.9 167 471.6 167.4 472.4 167.7 471.1 168.1 472.7 168.4 473.1 168.8 472.6 169.1 472.7 169.5 475.2 169.8 472.6 170.2 472.9 170.5 473.3 170.9 475.3 171.2 476.3 171.6 474.9 171.9 474.1 172.3 474.5 172.6 476.5 173 475.3 173.3 478.1 173.7 478.6 174 478 174.4 479.2 174.7 479.9 175.1 481.2 175.4 479.5 175.8 482.1 176.1 481.3 176.5 481.7 176.8 483.5 177.2 484.3 177.5 484.7 177.9 485.2 178.2 486.8 178.6 490 178.9 491.5 179.3 491.4 179.6 491.2 180 487.4 180.3 485.6 180.7 483.7 181 480.3 181.4 478.1 181.7 476.9 182.1 474.3 182.4 471.4 182.8 471.3 183.1 469.6 183.5 469.6 183.8 467.5 184.2 466 184.5 465.3 184.9 463.8 185.2 462.2 185.6 461.3 185.9 464.5 186.3 466.5 186.6 469.1 187 468.6 187.3 471.8 187.7 474.5 188 480.6 188.4 485.7 188.7 488.4 189.1 484 189.4 477.8 189.8 471 190.1 467.7 190.5 461.8 190.8 456.9 191.2 457.8 191.5 456.1 191.9 457.4 192.2 455.8 192.6 455 192.9 456.6 193.3 458.7 193.6 462 194 464.4 194.3 466.8 194.7 468.7 195 467.6 195.4 472.3 195.7 472 196.1 475.3 196.4 477.5 196.8 478.1 197.1 478.9 197.5 480.5 197.8 481.9 198.2 480.7 198.5 479.7 198.9 478.5 199.2 479.5 199.6 477.4 199.9 477.4 200.3 475.4 200.6 474.7 201 473.7 201.3 474.1 201.7 474.3 202 473.6 202.4 472.6 202.7 472.3 203.1 474.3 203.4 472.4 203.8 472.2 204.1 473.6 204.5 473.1 204.8 472.4 205.2 471.4 205.5 473.7 205.9 471.8 206.2 471.7 206.6 470.9 206.9 469.6 207.3 469.7 207.6 471.3 208 471.4 208.3 470.9 208.7 470.1 209 469.9 209.4 470.9 209.7 470 210.1 472.2 210.4 472.5 210.8 474 211.1 472.3 211.5 471.1 211.8 470.9 212.2 468.6 212.5 471.2 212.9 471.7 213.2 472.8 213.6 472.8 213.9 473.2 214.3 473.2 214.6 473.9 215 475 215.3 473.1 215.7 474 216 473.5 216.4 476.5 216.7 476.6 217.1 476.5 217.4 475.1 217.8 476.6 218.1 476.6 218.5 477.4 218.8 477.6 219.2 478.8 219.5 478.5 219.9 480.2 220.2 480.1 220.6 480.2 220.9 480.9 221.3 481.1 221.6 482.7 222 482.3 222.3 483.3 222.7 479.1 223 474.1 223.4 472.2 223.7 466.5 224.1 464 224.4 460 224.8 457.6 225.1 457.7 225.5 457.6 225.8 456.8 226.2 459.7 226.5 464.6 226.9 467 227.2 470.8 227.6 473.3 227.9 477.2 228.3 479.4 228.6 482.1 229 482.9 229.3 482.6 229.7 482.3 230 481.9 230.4 483.2 230.7 482.8 231.1 481.1 231.4 479.5 231.8 479.6 232.1 480.2 232.5 476.5 232.8 476 233.2 474.9 233.5 471.1 233.9 472.4 234.2 470.5 234.6 471.2 234.9 468.8 235.3 467.4 235.6 467 236 466.4 236.3 464.8 236.7 464.3 237 462.2 237.4 462.3 237.7 462.3 238.1 463.2 238.4 461.8 238.8 461.2 239.1 461.8 239.5 462.3 239.8 464.4 240.2 465.5 240.5 466 240.9 468 241.2 469.5 241.6 471.2 241.9 472.6 242.3 472.8 242.6 472.8 243 475.3 243.3 475.2 243.7 478.3 244 479.4 244.4 479 244.7 482.3 245.1 479.3 245.4 473.4 245.8 469.6 246.1 464.5 246.5 456.5 246.8 453.3 247.2 451.4 247.5 450.9 247.9 450.8 248.2 448.8 248.6 448.4 248.9 447.6 249.3 453.1 249.6 459.1 250 463.3 250.3 469.1 250.7 476 251 479.3 251.4 475.5 251.7 469.3 252.1 466.1 252.4 462.1 252.8 458.4 253.1 454.9 253.5 456 253.8 454.9 254.2 454.7 254.5 455.3 254.9 459.6 255.2 462.2 255.6 467.2 255.9 470.3 256.3 473.6 256.6 477.2 257 481.2 257.3 484.3 257.7 486.2 258 487.7 258.4 490.1 258.7 491.4 259.1 494.4 259.4 495.2 259.8 495.4 260.1 500.4 260.5 498.5 260.8 496.1 261.2 495.8 261.5 493.9 261.9 495.4 262.2 492.6 262.6 487.3 262.9 485.7 263.3 481.3 263.6 479.9 264 473.7 264.3 469.6 264.7 470.3 265 468.5 265.4 467 265.7 464.1 266.1 465 266.4 465.3 266.8 462.5 267.1 465.6 267.5 464.4 267.8 467.3 268.2 466 268.5 465.8 268.9 467.3 269.2 467.1 269.6 466.5 269.9 468.2 270.3 467.5 270.6 466.8 271 470.7 271.3 469.1 271.7 469.3 272 470.6 272.4 469.4 272.7 469.9 273.1 471 273.4 471.4 273.8 472.3 274.1 473.6 274.5 472.5 274.8 473.7 275.2 474.1 275.5 473 275.9 474.5 276.2 473.8 276.6 476 276.9 475.8 277.3 475.7 277.6 474.8 278 476.5 278.3 476.1 278.7 477.5 279 476.5 279.4 475.6 279.7 476.9 280.1 476.5 280.4 475.1 280.8 476.4 281.1 474.8 281.5 474.5 281.8 474.6 282.2 473.6 282.5 473.6 282.9 473.7 283.2 475 283.6 474.9 283.9 473.3 284.3 474.7 284.6 473.2 285 473.5 285.3 473.8 285.7 473.1 286 474.7 286.4 472.9 286.7 471.6 287.1 473.5 287.4 472 287.8 472 288.1 469.8 288.5 472.8 288.8 472.5 289.2 472.5 289.5 472.7 289.9 473.3 290.2 472.1 290.6 472.9 290.9 471.7 291.3 472 291.6 473.1 292 472.7 292.3 471.5 292.7 472.8 293 472.5 293.4 472.1 293.7 473 294.1 472.5 294.4 471.7 294.8 472.1 295.1 474.1 295.5 472 295.8 473.2 296.2 473.6 296.5 473.6 296.9 472.5 297.2 473.2 297.6 473.5 297.9 474 298.3 473.2 298.6 472.9 299 474.3 299.3 474.5 299.7 474.1 300 473.6 300.4 474.2 300.7 474 301.1 474.4 301.4 473.2 301.8 474 302.1 473.8 302.5 473.3 302.8 474.1 303.2 474 303.5 473.7 303.9 474.2 304.2 473.1 304.6 473.9 304.9 474.2 305.3 474.1 305.6 474.6 306 473.2 306.3 473.1 306.7 474.1 307 474.3 307.4 475.3 307.7 474.4 308.1 473.5 308.4 474.5 308.8 473.5 309.1 473.1 309.5 475.6 309.8 474.2 310.2 474.4 310.5 474.3 310.9 475.1 311.2 474.2 311.6 474.7 311.9 473.4 312.3 473.2 312.6 474.9 313 474.9 313.3 474.3 313.7 474.1 314 474.1 314.4 473.6 314.7 474.9 315.1 474.4 315.4 474.3 315.8 474.2 316.1 474.6 316.5 474.3 316.8 474.5 317.2 473.3 317.5 474.3 317.9 475.3 318.2 473.7 318.6 473.9 318.9 474.5 319.3 474.6 319.6 474.4 320 473 320.3 474.3 320.7 473.3 321 473.5 321.4 474.3 321.7 473.8 322.1 474.5 322.4 475.9 322.8 474.5 323.1 474.4 323.5 473.4 323.8 473.6 324.2 473.3 324.5 473.7 324.9 473.3 325.2 473.6 325.6 473.9 325.9 473.4 326.3 473.1 326.6 473.2 327 474.3 327.3 474 327.7 474.6 328 474.6 328.4 473.8 328.7 474.4 329.1 473.1 329.4 475.4 329.8 474.7 330.1 473.9 330.5 473.3 330.8 474.2 331.2 472.8 331.5 473.5 331.9 474.5 332.2 474 332.6 473.7 332.9 474.6 333.3 473.4 333.6 474.2 334 473.7 334.3 473.5 334.7 474.3 335 473.4 335.4 475.2 335.7 473.6 336.1 475.2 336.4 473.3 336.8 474.4 337.1 473.3 337.5 473.2 337.8 474.1 338.2 474.4 338.5 473.2 338.9 474.7 339.2 473.5 339.6 474.1 339.9 474.2 340.3 474.3 340.6 472.7 341 474.7 341.3 474 341.7 473.3 342 472.8 342.4 472.3 342.7 472.4 343.1 473.5 343.4 472.8 343.8 472.2 344.1 472.5 344.5 473.7 344.8 472.4 345.2 472.2 345.5 473.3 345.9 472.6 346.2 472.3 346.6 471.7 346.9 471 347.3 471.1 347.6 471.2 348 471.1 348.3 471.3 348.7 471.1 349 470.6 349.4 470.4 349.7 469.3 350.1 468.3 350.4 469.1 350.8 468.6 351.1 468.5 351.5 468.5 351.8 467.6 352.2 467.4 352.5 467.8 352.9 467.7 353.2 467.3 353.6 468.4 353.9 468.4 354.3 468.2 354.6 469.3 355 470.8 355.3 469.6 355.7 471.2 356 471.7 356.4 472.1 356.7 471 357.1 473.2 357.4 472.4 357.8 472.6 358.1 472.9 358.5 473.4 358.8 473.1 359.2 473 359.5 474 359.9 472.8 360.2 472.6 360.6 473.8 360.9 473.8 361.3 474.1 361.6 472.8 362 474.2 362.3 473.8 362.7 474.7 363 472.8 363.4 473.8 363.7 473.5 364.1 472.7 364.4 473.3 364.8 474.6 365.1 473.6 365.5 473.5 365.8 474.5 366.2 474.7 366.5 474.7 366.9 473.6 367.2 474.1 367.6 474.9 367.9 473.8 368.3 473.8 368.6 474.9 369 475.4 369.3 473.7 369.7 472.8 370 473.6 370.4 473.9 370.7 474.5 371.1 475.1 371.4 474.6 371.8 474.3 372.1 474.9 372.5 474.2 372.8 474.9 373.2 474.6 373.5 476.8 373.9 475.6 374.2 474.6 374.6 474.5 374.9 475 375.3 474.2 375.6 474.9 376 474.9 376.3 476 376.7 475.2 377 475 377.4 474.7 377.7 474.9 378.1 475.7 378.4 475.6 378.8 476.6 379.1 475.5 379.5 476.6 379.8 476.1 380.2 476.1 380.5 475 380.9 475.7 381.2 477.3 381.6 477.9 381.9 477.4 382.3 477.9 382.6 477.4 383 477.7 383.3 477.7 383.7 479 384 478.8 384.4 478.6 384.7 478.8 385.1 479.6 385.4 479.7 385.8 479.1 386.1 481 386.5 480.3 386.8 480.4 387.2 481.4 387.5 480.9 387.9 479.9 388.2 480.1 388.6 478.8 388.9 478.9 389.3 477.6 389.6 479.6 390 477.4 390.3 478.8 390.7 477.6 391 477.3 391.4 477.6 391.7 477.7 392.1 477.7 392.4 478.2 392.8 477 393.1 477.2 393.5 476 393.8 476.6 394.2 476 394.5 475.3 394.9 475.2 395.2 475 395.6 474.8 395.9 474.7 396.3 473.8 396.6 473.3 397 474 397.3 472.1 397.7 472.5 398 473.7 398.4 470.6 398.7 471.6 399.1 472.2 399.4 470.4 399.8 472.9 400.1 469.2 400.5 471.8 400.8 471.7 401.2 471.1 401.5 470.2 401.9 470.5 402.2 469.5 402.6 470.5 402.9 469 403.3 469.5 403.6 470.2 404 468.6 404.3 469 404.7 469.2 405 468 405.4 469.6 405.7 468.9 406.1 467.5 406.4 468.7 406.8 468.4 407.1 468.7 407.5 469.4 407.8 469.1 408.2 470.4 408.5 469.5 408.9 470.8 409.2 470.3 409.6 471.1 409.9 470.4 410.3 470.6 410.6 470.4 411 471.8 411.3 472.2 411.7 473.2 412 472.9 412.4 472.3 412.7 472 413.1 472.5 413.4 472.3 413.8 473.4 414.1 473.2 414.5 472 414.8 472.2 415.2 473.7 415.5 473.1 415.9 472.8 416.2 473.9 416.6 472.9 416.9 473 417.3 473 417.6 472.1 418 474.1 418.3 472.8 418.7 473.3 419 473.2 419.4 474.3 419.7 473.9 420.1 474 420.4 472.9 420.8 473.9 421.1 473 421.5 474.2 421.8 474.3 422.2 474 422.5 475.4 422.9 474.4 423.2 474.4 423.6 474.1 423.9 473.9 424.3 474.7 424.6 474.8 425 473.2 425.3 474.8 425.7 474.4 426 474.7 426.4 474.4 426.7 473.2 427.1 473.3 427.4 475.3 427.8 474.3 428.1 473.1 428.5 474.3 428.8 473.8 429.2 472.8 429.5 472.5 429.9 473 430.2 474.3 430.6 474.1 430.9 473.9 431.3 474.3 431.6 474.5 432 472.7 432.3 473.9 432.7 473.6 433 473.3 433.4 473.8 433.7 474.1 434.1 474 434.4 473.1 434.8 473.8 435.1 475.5 435.5 473.4 435.8 473 436.2 474.4 436.5 474.6 436.9 474.5 437.2 473.4 437.6 474.9 437.9 473.6 438.3 473.4 438.6 473.8 439 474.1 439.3 474.7 439.7 474.6 440 474.2 440.4 474.9 440.7 474.3 441.1 474.8 441.4 473.2 441.8 473.1 442.1 474.8 442.5 473.3 442.8 474 443.2 474.2 443.5 473.9 443.9 473.9 444.2 475.2 444.6 472.5 444.9 474.9 445.3 475.9 445.6 474.3 446 474.2 446.3 474.8 446.7 475.5 447 473.4 447.4 474.3 447.7 474.1 448.1 474.7 448.4 474.4 448.8 474.7 449.1 474 449.5 474.3 449.8 473.8 450.2 473.8 450.5 474.2 450.9 474.2 451.2 473.4 451.6 475.5 451.9 474.2 452.3 473.1 452.6 475.2 453 473.6 453.3 474.7 453.7 474.2 454 474.5 454.4 474.4 454.7 473.7 455.1 474.3 455.4 476.3 455.8 471.9 456.1 474.3 456.5 474.7 456.8 473.1 457.2 472.7 457.5 476.6 457.9 473.8 458.2 476.6 458.6 474.8 458.9 474.3 459.3 474.8 459.6 475 460 475.7 460.3 474.7 460.7 474.4 461 474.4 461.4 476 461.7 475.3 462.1 472.8 462.4 473.3 462.8 474.6 463.1 473.3 463.5 473.6 463.8 472.7 464.2 473.8 464.5 474.8 464.9 475.7 465.2 474.2 465.6 477.4 465.9 474 466.3 479.3 466.6 475.8 467 474.9 467.3 473.3 467.7 469.3 468 473.8 468.4 474.4 468.7 477.5 469.1 471.6 469.4 477.5 469.8 473.6 470.1 475.4 470.5 469.4 470.8 474.3 471.2 473.4 471.5 475.4 471.9 474.2 472.2 471.8 472.6 475.9 472.9 475.4 473.3 475.3 473.6 476.1 474 476.3 474.3 474 474.7 471.2 475 471.1 475.4 476.9 475.7 475.6 476.1 474.2 476.4 473.1 476.8 474.1 477.1 474.1 477.5 473.2 477.8 472.4 478.2 478.9 478.5 474.3 478.9 472.2 479.2 470.3 479.6 471.5 479.9 474.8 480.3 474.7 480.6 472.2 481 472.6 481.3 471.6 481.7 469.5 482 475.1 482.4 472.7 482.7 477.6 483.1 469.7 483.4 471 483.8 473.2 484.1 470.3 484.5 467.2 484.8 467.9 485.2 470.1 485.5 470.3 485.9 468.9 486.2 471.2 486.6 470.8 486.9 468.9 487.3 467.8 487.6 466.8 488 468.4 488.3 468.9 488.7 466.8 489 468.1 489.4 466.6 489.7 464.3 490.1 465.6 490.4 470.2 490.8 469.8 491.1 472.9 491.5 469.6 491.8 471.9 492.2 473.3 492.5 472.9 492.9 469.4 493.2 470.7 493.6 471.8 493.9 469.4 494.3 473.2 494.6 474.8 495 471.5 495.3 477.7 495.7 472.6 496 473.1 496.4 473.3 496.7 472.5 497.1 475.5 497.4 474.8 497.8 479.1 498.1 476.8 498.5 477 498.8 475.4 499.2 472.8 499.5 476.3 499.9 474.8 500.2 479.5 500.6 477.4 500.9 481.4 501.3 479 501.6 479.1 502 477.4 502.3 477.2 502.7 478.1 503 478.6 503.4 474.5 503.7 477.2 504.1 482.2 504.4 475.5 504.8 474.9 505.1 473.7 505.5 471.7 505.8 477.9 506.2 475 506.5 475.4 506.9 479 507.2 480.5 507.6 472.1 507.9 476.6 508.3 475.5 508.6 474.9 509 475.1 509.3 473.9 509.7 477.8 510 475.4 510.4 474.7 510.7 476.9 511.1 476 511.4 474.9 511.8 474.6 512.1 478 512.5 475 512.8 473.5 513.2 471.6 513.5 472.8 513.9 471.1 514.2 473.9 514.6 474.2 514.9 468.6 515.3 473.6 515.6 475.1 516 473.9 516.3 471.1 516.7 476.5 517 471.7 517.4 470.3 517.7 470.7 518.1 473.2 518.4 475.6 518.8 476 519.1 473.6 519.5 470.2 519.8 471.4 520.2 470.8 520.5 472.5 520.9 468.6 521.2 473.1 521.6 474.4 521.9 472.4 522.3 473.8 522.6 470.4 523 469.1 523.3 471 523.7 475.4 524 475 524.4 471.3 524.7 475.4 525.1 471.6 525.4 476 525.8 473.5 526.1 471.1 526.5 474.1 526.8 470.3 527.2 469.8 527.5 468.5 527.9 472.7 528.2 471.7 528.6 471.5 528.9 470.4 529.3 474.7 529.6 470 530 469 530.3 473.6 530.7 473.8 531 471 531.4 465.6 531.7 468.2 532.1 471 532.4 469.3 532.8 472.8 533.1 465.5 533.5 470.3 533.8 466.8 534.2 471.4 534.5 468 534.9 471.4 535.2 468 535.6 466.8 535.9 468.2 536.3 470.1 536.6 469.8 537 476 537.3 477 537.7 475.1 538 472.5 538.4 475.5 538.7 474.8 539.1 480.7 539.4 478.6 539.8 479.7 540.1 478.2 540.5 474.9 540.8 477.8 541.2 476.5 541.5 479.8 541.9 478.8 542.2 476.2 542.6 476.8 542.9 481.2 543.3 474.6 543.6 474.4 544 475.7 544.3 474.1 544.7 474.4 545 476.4 545.4 479 545.7 469.9 546.1 473.9 546.4 473.8 546.8 473.2 547.1 472.6 547.5 472 547.8 475 548.2 471.1 548.5 471.7 548.9 471.7 549.2 471.7 549.6 470.7 549.9 473.5 550.3 471.2 550.6 471.7 551 471.3 551.3 469 551.7 469.6 552 469.1 552.4 472.3 552.7 470.2 553.1 469.4 553.4 472.8 553.8 473.6 554.1 468 554.5 476.7 554.8 472.7 555.2 472.5 555.5 475.5 555.9 473.1 556.2 471.6 556.6 478.6 556.9 470.6 557.3 473.1 557.6 475.5 558 470.8 558.3 473.3 558.7 474.6 559 479.7 559.4 471.6 559.7 473.8 560.1 475.6 560.4 474.3 560.8 471.2 561.1 475.3 561.5 474.6 561.8 475.6 562.2 477.3 562.5 477.1 562.9 475.6 563.2 475.4 563.6 472 563.9 474.4 564.3 475.3 564.6 473.8 565 475.1 565.3 472.9 565.7 478.8 566 480.4 566.4 474.1 566.7 476.1 567.1 474.6 567.4 478.4 567.8 476.3 568.1 475.5 568.5 474.8 568.8 475.7 569.2 472.9 569.5 477.2 569.9 473.7 570.2 476.9 570.6 475.9 570.9 478.4 571.3 475.7 571.6 478.3 572 473.5 572.3 477.4 572.7 475.3 573 476.4 573.4 476.2 573.7 478.4 574.1 471 574.4 476.9 574.8 472.4 575.1 479.2 575.5 471.3 575.8 473.8 576.2 472.2 576.5 480.5 576.9 473.2 577.2 476.8 577.6 475 577.9 471.7 578.3 475.2 578.6 477.5 579 475.2 579.3 477.8 579.7 474.4 580 475.1 580.4 473.9 580.7 475.6 581.1 479.3 581.4 475.3 581.8 474.7 582.1 472.4 582.5 471.9 582.8 477.3 583.2 470.7 583.5 471 583.9 472.8 584.2 471.8 584.6 477.7 584.9 466.7 585.3 473.3 585.6 474.1 586 469.3 586.3 470.4 586.7 472.9 587 475.8 587.4 469.2 587.7 467.4 588.1 473.6 588.4 474.9 588.8 470 589.1 465.2 589.5 474.2 589.8 470.1 590.2 473.6 590.5 470.9 590.9 470.2 591.2 470.2 591.6 475.3 591.9 475.4 592.3 466.6 592.6 469.8 593 476.8 593.3 471.6 593.7 469.3 594 472.9 594.4 472.8 594.7 473 595.1 472.3 595.4 472.9 595.8 472.7 596.1 474.9 596.5 472.3 596.8 473.8 597.2 474.4 597.5 478.3 597.9 476.2 598.2 475.2 598.6 477.1 598.9 477 599.3 479 599.6 477.8 600 481.3 600.3 480.4 600.7 477.1 601 476.4 601.4 479.9 601.7 479.2 602.1 477.4 602.4 473.3 602.8 471.9 603.1 476.8 603.5 477.4 603.8 476.9 604.2 471.1 604.5 476.4 604.9 471.9 605.2 473.7 605.6 473.2 605.9 469.6 606.3 469.6 606.6 465.3 607 467.7 607.3 464.9 607.7 470.1 608 468.6 608.4 470.2 608.7 468.6 609.1 466.7 609.4 469.9 609.8 468.7 610.1 471.9 610.5 471.8 610.8 469.1 611.2 472.3 611.5 473.2 611.9 473.1 612.2 476.9 612.6 479.7 612.9 475.2 613.3 476 613.6 471.9 614 478.1 614.3 477.1 614.7 472.3 615 478.1 615.4 478.5 615.7 474.7 616.1 475.2 616.4 473.3 616.8 477.3 617.1 471.2 617.5 473.8 617.8 479.2 618.2 474 618.5 474.9 618.9 473.1 619.2 470.2 619.6 472.9 619.9 473.8 620.3 469.9 620.6 473.2 621 475.2 621.3 474.5 621.7 467.6 622 468.9 622.4 467 622.7 473.6 623.1 472.2 623.4 472.3 623.8 468.4 624.1 467.8 624.5 471.1 624.8 471.3 625.2 469 625.5 471.7 625.9 473.1 626.2 472.2 626.6 469.1 626.9 466.4 627.3 471.3 627.6 472.5 628 471.6 628.3 471.3 628.7 470.7 629 474.5 629.4 472.6 629.7 473.2 630.1 470.5 630.4 471.6 630.8 473.7 631.1 470.8 631.5 470.3 631.8 472.8 632.2 476.9 632.5 474.4 632.9 477.8 633.2 473.9 633.6 473.5 633.9 470.9 634.3 473.1 634.6 478.4 635 475.7 635.3 476.9 635.7 476.9 636 475.2 636.4 474.9 636.7 475.8 637.1 477.4 637.4 476.9 637.8 477.2 638.1 476.5 638.5 474.4 638.8 475.9 639.2 474.4 639.5 479.7 639.9 472 640.2 477.1 640.6 484 640.9 477.3 641.3 475.5 641.6 478.6 642 482.3 642.3 478.8 642.7 481 643 480 643.4 479 643.7 488.4 644.1 480.7 644.4 479.4 644.8 479.7 645.1 481.4 645.5 481 645.8 481.5 646.2 479.3 646.5 474.8 646.9 479.4 647.2 476.7 647.6 476.3 647.9 472.7 648.3 474.6 648.6 473.7 649 475 649.3 471 649.7 474.6 650 474.5 650.4 471 650.7 472 651.1 471.1 651.4 475.4 651.8 466.3 652.1 471.6 652.5 468 652.8 470.8 653.2 473.9 653.5 469.8 653.9 471.5 654.2 468.9 654.6 476.2 654.9 473.7 655.3 474.4 655.6 468.2 656 469 656.3 474.8 656.7 471.6 657 471.6 657.4 473.3 657.7 469.3 658.1 474.7 658.4 472.9 658.8 474.2 659.1 471.4 659.5 474.6 659.8 471.6 660.2 476 660.5 476.4 660.9 475.8 661.2 474.7 661.6 475 661.9 466.3 662.3 475.5 662.6 472.6 663 473.5 663.3 472.5 663.7 469.6 664 471.8 664.4 474.9 664.7 476.8 665.1 471.5 665.4 470.8 665.8 476.8 666.1 470.8 666.5 478.4 666.8 473.1" fill="none" stroke="#1b63dc" stroke-width="5.2" stroke-linejoin="round" stroke-linecap="butt"/>
<path d="M42 9H669.3V514.75H42Z" fill="none" stroke="#000" stroke-width="6"/><rect x="39.1" y="514" width="5.8" height="9.3" fill="#000"/><rect x="102.2" y="514" width="5" height="5" fill="#000"/><rect x="164.6" y="514" width="5.8" height="9.3" fill="#000"/><rect x="227.7" y="514" width="5" height="5" fill="#000"/><rect x="290" y="514" width="5.8" height="9.3" fill="#000"/><rect x="353.1" y="514" width="5" height="5" fill="#000"/><rect x="415.5" y="514" width="5.8" height="9.3" fill="#000"/><rect x="478.6" y="514" width="5" height="5" fill="#000"/><rect x="540.9" y="514" width="5.8" height="9.3" fill="#000"/><rect x="604.1" y="514" width="5" height="5" fill="#000"/><rect x="666.4" y="514" width="5.8" height="9.3" fill="#000"/>
<text x="42" y="551.8" font-size="26.2" text-anchor="middle" font-family="Liberation Sans, Arial, sans-serif" font-weight="bold">20</text><text x="167.5" y="551.8" font-size="26.2" text-anchor="middle" font-family="Liberation Sans, Arial, sans-serif" font-weight="bold">30</text><text x="292.9" y="551.8" font-size="26.2" text-anchor="middle" font-family="Liberation Sans, Arial, sans-serif" font-weight="bold">40</text><text x="418.4" y="551.8" font-size="26.2" text-anchor="middle" font-family="Liberation Sans, Arial, sans-serif" font-weight="bold">50</text><text x="543.8" y="551.8" font-size="26.2" text-anchor="middle" font-family="Liberation Sans, Arial, sans-serif" font-weight="bold">60</text><text x="669.3" y="551.8" font-size="26.2" text-anchor="middle" font-family="Liberation Sans, Arial, sans-serif" font-weight="bold">70</text><text x="355.5" y="579.8" font-size="25" text-anchor="middle" textLength="189" lengthAdjust="spacingAndGlyphs" font-family="Liberation Sans, Arial, sans-serif" font-weight="bold">2theta (degree)</text><text transform="translate(22.5 264.5) rotate(-90)" font-size="25" text-anchor="middle" textLength="183" lengthAdjust="spacingAndGlyphs" font-family="Liberation Sans, Arial, sans-serif" font-weight="bold">Intensity (a.u.)</text><text x="83.5" y="63.3" font-size="33" text-anchor="middle" textLength="38.5" lengthAdjust="spacingAndGlyphs" font-family="Liberation Sans, Arial, sans-serif" font-weight="bold">(a)</text><text transform="translate(201.1 233.5) rotate(-90)" font-size="23.5" font-family="Liberation Sans, Arial, sans-serif" font-weight="bold"><tspan font-weight="normal">*</tspan>(220)</text><text transform="translate(234 309.5) rotate(-90)" font-size="23.5" font-family="Liberation Sans, Arial, sans-serif" font-weight="bold"><tspan font-weight="normal">&gt;</tspan>(002)</text><text transform="translate(266.2 109.5) rotate(-90)" font-size="23.5" font-family="Liberation Sans, Arial, sans-serif" font-weight="bold"><tspan font-weight="normal">*</tspan>(311)</text><text transform="translate(367.7 358.5) rotate(-90)" font-size="23.5" font-family="Liberation Sans, Arial, sans-serif" font-weight="bold"><tspan font-weight="normal">*</tspan>(400)</text><text transform="translate(398.4 352.5) rotate(-90)" font-size="23.5" font-family="Liberation Sans, Arial, sans-serif" font-weight="bold"><tspan font-weight="normal">&gt;</tspan>(102)</text><text transform="translate(422.5 375) rotate(-90)" font-size="23.5" font-family="Liberation Sans, Arial, sans-serif" font-weight="bold"><tspan font-weight="normal">*</tspan>(331)</text><text transform="translate(496.2 345) rotate(-90)" font-size="23.5" font-family="Liberation Sans, Arial, sans-serif" font-weight="bold"><tspan font-weight="normal">*</tspan>(422)</text><text transform="translate(549.6 303) rotate(-90)" font-size="23.5" font-family="Liberation Sans, Arial, sans-serif" font-weight="bold"><tspan font-weight="normal">*</tspan>(511)</text><text transform="translate(589 346.5) rotate(-90)" font-size="23.5" font-family="Liberation Sans, Arial, sans-serif" font-weight="bold"><tspan font-weight="normal">&gt;</tspan>(103)</text><text transform="translate(617 286.5) rotate(-90)" font-size="23.5" font-family="Liberation Sans, Arial, sans-serif" font-weight="bold"><tspan font-weight="normal">*</tspan>(440)</text><text transform="translate(654 352) rotate(-90)" font-size="23.5" font-family="Liberation Sans, Arial, sans-serif" font-weight="bold"><tspan font-weight="normal">*</tspan>(531)</text><text x="416.4" y="176.6" font-size="18.6" textLength="239" lengthAdjust="spacingAndGlyphs" font-family="Liberation Sans, Arial, sans-serif" font-weight="bold">*ZnAl<tspan font-size="12" dy="4">2</tspan><tspan dy="-4">0</tspan><tspan font-size="12" dy="4">4</tspan><tspan dy="-4">: JCPDS#005-0669</tspan></text><text x="416.4" y="204.3" font-size="18.6" textLength="203" lengthAdjust="spacingAndGlyphs" font-family="Liberation Sans, Arial, sans-serif" font-weight="bold">^ZnO: JCPDS#89-0510</text>
<rect x="449" y="28" width="214.6" height="114" fill="#000"/><rect x="443" y="22" width="213" height="112" fill="#fff" stroke="#000" stroke-width="2"/><circle cx="470" cy="37.7" r="3.3" fill="#fff" stroke="#222" stroke-width="1"/><path d="M447 65H494" stroke="#f50d0d" stroke-width="5" stroke-linecap="round"/><path d="M447 92.8H494" stroke="#1b63dc" stroke-width="5" stroke-linecap="round"/><rect x="469" y="107.8" width="2" height="22.6" fill="#27a55b"/><text x="501" y="44.7" font-size="22" textLength="51.5" lengthAdjust="spacingAndGlyphs" font-family="Liberation Sans, Arial, sans-serif" font-weight="bold">Yobs</text><text x="501" y="72.1" font-size="22" textLength="55.3" lengthAdjust="spacingAndGlyphs" font-family="Liberation Sans, Arial, sans-serif" font-weight="bold">Ycalc</text><text x="501" y="99.4" font-size="22" textLength="114.8" lengthAdjust="spacingAndGlyphs" font-family="Liberation Sans, Arial, sans-serif" font-weight="bold">Yobs-Ycalc</text><text x="501" y="126.8" font-size="22" textLength="151.6" lengthAdjust="spacingAndGlyphs" font-family="Liberation Sans, Arial, sans-serif" font-weight="bold">Bragg Position</text>
<text x="175.5" y="614.7" font-size="33.5" text-anchor="middle" textLength="40" lengthAdjust="spacingAndGlyphs" font-family="Liberation Sans, Arial, sans-serif" font-weight="bold">(b)</text>
<text x="534.8" y="614.7" font-size="33.5" text-anchor="middle" textLength="36" lengthAdjust="spacingAndGlyphs" font-family="Liberation Sans, Arial, sans-serif" font-weight="bold">(c)</text>
<g stroke-linecap="round"><polygon points="205,656 222.5,656 219,713 201,692" fill="#52a216"/><polygon points="205,656 222.5,656 204.5,684" fill="#70c02c"/><polygon points="220.5,679 245.5,679 242.5,724 216,722" fill="#84ce40"/><polygon points="220.5,679 232,679 219,712" fill="#66b82a"/><polygon points="273,742 291,742 288,785 269,777" fill="#52a216"/><polygon points="273,742 291,742 272,770" fill="#6cbc2a"/><polygon points="288.5,764 314,764 310,814.5 285.5,800 288,783" fill="#66b82a"/><polygon points="288.5,764 314,764 286,799" fill="#7cc638"/><polygon points="262.5,842 283.5,819 280.5,861 263.5,858.5" fill="#52a20a"/><polygon points="285.5,800 309.5,815 296,811 283.5,819" fill="#52a216"/><polygon points="32.5,801.3 73.6,802.3 78,823.5 32.5,823.5" fill="#66b82a"/><polygon points="32.5,823.5 78,823.5 60,812" fill="#52a216"/><polygon points="50,825 82,825.5 82.6,840 50,840" fill="#66b82a"/><polygon points="50,840 82.6,840 70,831" fill="#52a216"/><polygon points="100.5,887 153.5,889.6 152.5,910 99.5,908" fill="#66b82a"/><polygon points="99.5,908 152.5,910 136.2,888" fill="#52a216"/><polygon points="117.5,910 172.6,912.5 176,927 117,925.5" fill="#66b82a"/><polygon points="117,925.5 176,927 152.2,911" fill="#52a216"/><polygon points="153.3,889.6 180,891.6 177.7,921.5 153,910" fill="#84ce40"/><path d="M221.6 658.9L207.8 674.4" stroke="#9be052" stroke-width="2.2" stroke-opacity="0.55"/><path d="M221.6 658.9L216.6 664.5" stroke="#9ea414" stroke-width="2.6" stroke-opacity="0.85"/><path d="M243.6 681.3L229 697.6" stroke="#9be052" stroke-width="2.2" stroke-opacity="0.55"/><path d="M243.6 681.3L238.3 687.1" stroke="#9ea414" stroke-width="2.6" stroke-opacity="0.85"/><path d="M290.1 744.2L277.2 758.8" stroke="#9be052" stroke-width="2.2" stroke-opacity="0.55"/><path d="M290.1 744.2L285.4 749.4" stroke="#9ea414" stroke-width="2.6" stroke-opacity="0.85"/><path d="M312.6 766.7L298 783" stroke="#9be052" stroke-width="2.2" stroke-opacity="0.55"/><path d="M312.6 766.7L307.4 772.5" stroke="#9ea414" stroke-width="2.6" stroke-opacity="0.85"/><path d="M35.3 820.5L61.1 805.9" stroke="#9be052" stroke-width="2.2" stroke-opacity="0.55"/><path d="M35.3 820.5L44.6 815.2" stroke="#9ea414" stroke-width="2.6" stroke-opacity="0.85"/><path d="M52 838.1L74.4 827.8" stroke="#9be052" stroke-width="2.2" stroke-opacity="0.55"/><path d="M52 838.1L60.1 834.4" stroke="#9ea414" stroke-width="2.6" stroke-opacity="0.85"/><path d="M103.2 905.6L129 893.6" stroke="#9be052" stroke-width="2.2" stroke-opacity="0.55"/><path d="M103.2 905.6L112.5 901.3" stroke="#9ea414" stroke-width="2.6" stroke-opacity="0.85"/><path d="M120.6 923.3L146.4 913" stroke="#9be052" stroke-width="2.2" stroke-opacity="0.55"/><path d="M120.6 923.3L129.9 919.6" stroke="#9ea414" stroke-width="2.6" stroke-opacity="0.85"/><path d="M306.9 813.6L291.4 801.6" stroke="#9be052" stroke-width="2.2" stroke-opacity="0.55"/><path d="M306.9 813.6L301.3 809.3" stroke="#9ea414" stroke-width="2.6" stroke-opacity="0.85"/><path d="M277.5 858.2L265.5 846.2" stroke="#9be052" stroke-width="2.2" stroke-opacity="0.55"/><path d="M277.5 858.2L273.2 853.9" stroke="#9ea414" stroke-width="2.6" stroke-opacity="0.85"/><path d="M174.2 925.3L158.7 915" stroke="#9be052" stroke-width="2.2" stroke-opacity="0.55"/><path d="M174.2 925.3L168.6 921.6" stroke="#9ea414" stroke-width="2.6" stroke-opacity="0.85"/><path d="M150.2 908.4L138.2 894.6" stroke="#9be052" stroke-width="2.2" stroke-opacity="0.55"/><path d="M150.2 908.4L145.9 903.4" stroke="#9ea414" stroke-width="2.6" stroke-opacity="0.85"/><polygon points="124,671.3 177,674.2 201,691 215.4,722.3 153.8,717.5 94.5,716" fill="#66b82a"/><polygon points="177,686 201,690 184,719.5 172,719.5" fill="#84ce40"/><polygon points="201,693.6 183.6,719.5 206,720.3" fill="#ddd51e"/><polygon points="201,693.6 206,720.3 224.5,721.2" fill="#cfc51a"/><polygon points="89.3,767.6 148.7,769.4 112.2,790" fill="#70c424"/><polygon points="112.2,790 148.7,769.4 164.4,792.8" fill="#52a20a"/><polygon points="148.7,769.4 210.3,774.8 164.4,792.8" fill="#74c62a"/><polygon points="210.3,774.8 269.6,776.2 232.8,796.6" fill="#76c82c"/><polygon points="269.6,776.2 285.5,799.4 232.8,796.6" fill="#52a20a"/><polygon points="269.6,776.2 288,783 285.5,799.4" fill="#52a216"/><polygon points="89.3,767.6 112.2,790 82.6,833.8" fill="#84ce40"/><polygon points="112.2,790 107,842 82.6,833.8" fill="#80cc38"/><polygon points="90,817 108.5,814.5 108,834 90,834" fill="#d9d02a"/><polygon points="164.4,792.8 203.1,840.4 142,835.4 160,840" fill="#82cf38"/><polygon points="170.5,837.5 187.9,816.7 198.5,838" fill="#e0d624"/><polygon points="232.8,796.6 203.1,840.4 227,849 262.5,842.3" fill="#88c636"/><polygon points="210.3,774.8 232.8,796.6 203.1,840.4" fill="#90c632"/><circle cx="219.5" cy="712.4" r="4.5" fill="#fff" stroke="#d8131b" stroke-width="3.2"/><circle cx="219.5" cy="712.4" r="6.3" fill="none" stroke="#5a0a0a" stroke-width="0.6"/><text x="219.1" y="716.2" font-size="14" text-anchor="middle" font-family="Liberation Sans, Arial, sans-serif" font-weight="bold" font-style="italic">o</text><polygon points="146.8,637.4 206.5,638.8 177,674.2" fill="#74cc1e"/><polygon points="146.8,637.4 141.3,689.6 177,674.2" fill="#6dc618"/><polygon points="206.5,638.8 201,691 177,674.2" fill="#5eb116"/><polygon points="141.3,689.6 201,691 177,674.2" fill="#4f9d0a"/><path d="M150.7 641L175 663" stroke="#9be052" stroke-width="2.4" stroke-opacity="0.55"/><path d="M150.7 641L158.6 648.2" stroke="#9ea414" stroke-width="2.8" stroke-opacity="0.85"/><path d="M202.1 642.2L175 663" stroke="#9be052" stroke-width="2.4" stroke-opacity="0.55"/><path d="M202.1 642.2L193.3 649" stroke="#9ea414" stroke-width="2.8" stroke-opacity="0.85"/><path d="M197.4 687.1L175 663" stroke="#9be052" stroke-width="2.4" stroke-opacity="0.55"/><path d="M197.4 687.1L190.1 679.2" stroke="#9ea414" stroke-width="2.8" stroke-opacity="0.85"/><path d="M176.7 672.6L175 663" stroke="#9be052" stroke-width="2.4" stroke-opacity="0.55"/><path d="M176.7 672.6L176.2 669.5" stroke="#9ea414" stroke-width="2.8" stroke-opacity="0.85"/><circle cx="175" cy="663" r="11.5" fill="#6ab84a" fill-opacity="0.5"/><circle cx="169" cy="649.5" r="2" fill="#a4d62e"/><path d="M146.8 637.4L206.5 638.8" stroke="#dcebb8" stroke-width="0.8"/><path d="M206.5 638.8L201 691" stroke="#dcebb8" stroke-width="0.8"/><path d="M201 691L141.3 689.6" stroke="#dcebb8" stroke-width="0.8"/><path d="M141.3 689.6L146.8 637.4" stroke="#dcebb8" stroke-width="0.8"/><path d="M146.8 637.4L177 674.2" stroke="#dcebb8" stroke-width="0.8"/><path d="M206.5 638.8L177 674.2" stroke="#dcebb8" stroke-width="0.8"/><path d="M201 691L177 674.2" stroke="#dcebb8" stroke-width="0.8"/><path d="M141.3 689.6L177 674.2" stroke="#dcebb8" stroke-width="0.8"/><polygon points="66.1,670.3 124,671.3 95.9,706.7" fill="#74cc1e"/><polygon points="66.1,670.3 60.6,722.5 95.9,706.7" fill="#6dc618"/><polygon points="124,671.3 118.5,723.5 95.9,706.7" fill="#5eb116"/><polygon points="60.6,722.5 118.5,723.5 95.9,706.7" fill="#4f9d0a"/><path d="M70 674L94 697" stroke="#9be052" stroke-width="2.4" stroke-opacity="0.55"/><path d="M70 674L77.8 681.5" stroke="#9ea414" stroke-width="2.8" stroke-opacity="0.85"/><path d="M119.8 674.9L94 697" stroke="#9be052" stroke-width="2.4" stroke-opacity="0.55"/><path d="M119.8 674.9L111.4 682.1" stroke="#9ea414" stroke-width="2.8" stroke-opacity="0.85"/><path d="M95.6 705.3L94 697" stroke="#9be052" stroke-width="2.4" stroke-opacity="0.55"/><path d="M95.6 705.3L95.1 702.6" stroke="#9ea414" stroke-width="2.8" stroke-opacity="0.85"/><circle cx="94" cy="697" r="11.5" fill="#6ab84a" fill-opacity="0.5"/><circle cx="88" cy="683.5" r="2" fill="#a4d62e"/><path d="M66.1 670.3L124 671.3" stroke="#dcebb8" stroke-width="0.8"/><path d="M124 671.3L118.5 723.5" stroke="#dcebb8" stroke-width="0.8"/><path d="M118.5 723.5L60.6 722.5" stroke="#dcebb8" stroke-width="0.8"/><path d="M60.6 722.5L66.1 670.3" stroke="#dcebb8" stroke-width="0.8"/><path d="M66.1 670.3L95.9 706.7" stroke="#dcebb8" stroke-width="0.8"/><path d="M124 671.3L95.9 706.7" stroke="#dcebb8" stroke-width="0.8"/><path d="M118.5 723.5L95.9 706.7" stroke="#dcebb8" stroke-width="0.8"/><path d="M60.6 722.5L95.9 706.7" stroke="#dcebb8" stroke-width="0.8"/><polygon points="124,671.3 177,674.2 153.8,717.5" fill="#74cc1e"/><polygon points="124,671.3 118.5,723.5 153.8,717.5" fill="#6dc618"/><polygon points="177,674.2 171.5,726 153.8,717.5" fill="#5eb116"/><polygon points="118.5,723.5 171.5,726 153.8,717.5" fill="#4f9d0a"/><path d="M127.6 675.7L149.5 702.5" stroke="#9be052" stroke-width="2.4" stroke-opacity="0.55"/><path d="M127.6 675.7L134.7 684.4" stroke="#9ea414" stroke-width="2.8" stroke-opacity="0.85"/><path d="M173.2 678.2L149.5 702.5" stroke="#9be052" stroke-width="2.4" stroke-opacity="0.55"/><path d="M173.2 678.2L165.4 686.1" stroke="#9ea414" stroke-width="2.8" stroke-opacity="0.85"/><path d="M153.2 715.4L149.5 702.5" stroke="#9be052" stroke-width="2.4" stroke-opacity="0.55"/><path d="M153.2 715.4L152 711.2" stroke="#9ea414" stroke-width="2.8" stroke-opacity="0.85"/><circle cx="149.5" cy="702.5" r="11.5" fill="#6ab84a" fill-opacity="0.5"/><circle cx="143.5" cy="689" r="2" fill="#a4d62e"/><path d="M124 671.3L177 674.2" stroke="#dcebb8" stroke-width="0.8"/><path d="M177 674.2L171.5 726" stroke="#dcebb8" stroke-width="0.8"/><path d="M171.5 726L118.5 723.5" stroke="#dcebb8" stroke-width="0.8"/><path d="M118.5 723.5L124 671.3" stroke="#dcebb8" stroke-width="0.8"/><path d="M124 671.3L153.8 717.5" stroke="#dcebb8" stroke-width="0.8"/><path d="M177 674.2L153.8 717.5" stroke="#dcebb8" stroke-width="0.8"/><path d="M171.5 726L153.8 717.5" stroke="#dcebb8" stroke-width="0.8"/><path d="M118.5 723.5L153.8 717.5" stroke="#dcebb8" stroke-width="0.8"/><polygon points="100,705 121,697.5 121,716.5 100,714" fill="#d6cb2a"/><path d="M100 709.5L121 707" stroke="#e0a030" stroke-width="2" stroke-opacity="0.6"/><polygon points="43.5,704.4 95.9,706.7 73.5,750.4" fill="#74cc1e"/><polygon points="43.5,704.4 37.5,765 73.5,750.4" fill="#6dc618"/><polygon points="95.9,706.7 89.3,767.6 73.5,750.4" fill="#58a912"/><polygon points="37.5,765 89.3,767.6 73.5,750.4" fill="#4f9d0a"/><path d="M46.8 708.6L67 734.5" stroke="#9be052" stroke-width="2.4" stroke-opacity="0.55"/><path d="M46.8 708.6L53.4 717" stroke="#9ea414" stroke-width="2.8" stroke-opacity="0.85"/><path d="M91.9 710.6L67 734.5" stroke="#9be052" stroke-width="2.4" stroke-opacity="0.55"/><path d="M91.9 710.6L83.8 718.4" stroke="#9ea414" stroke-width="2.8" stroke-opacity="0.85"/><path d="M86.2 763L67 734.5" stroke="#9be052" stroke-width="2.4" stroke-opacity="0.55"/><path d="M86.2 763L79.9 753.7" stroke="#9ea414" stroke-width="2.8" stroke-opacity="0.85"/><path d="M72.6 748.2L67 734.5" stroke="#9be052" stroke-width="2.4" stroke-opacity="0.55"/><path d="M72.6 748.2L70.8 743.7" stroke="#9ea414" stroke-width="2.8" stroke-opacity="0.85"/><circle cx="67" cy="734.5" r="11.5" fill="#6ab84a" fill-opacity="0.5"/><circle cx="61" cy="721" r="2" fill="#a4d62e"/><path d="M43.5 704.4L95.9 706.7" stroke="#dcebb8" stroke-width="0.8"/><path d="M95.9 706.7L89.3 767.6" stroke="#dcebb8" stroke-width="0.8"/><path d="M89.3 767.6L37.5 765" stroke="#dcebb8" stroke-width="0.8"/><path d="M37.5 765L43.5 704.4" stroke="#dcebb8" stroke-width="0.8"/><path d="M43.5 704.4L73.5 750.4" stroke="#dcebb8" stroke-width="0.8"/><path d="M95.9 706.7L73.5 750.4" stroke="#dcebb8" stroke-width="0.8"/><path d="M89.3 767.6L73.5 750.4" stroke="#dcebb8" stroke-width="0.8"/><path d="M37.5 765L73.5 750.4" stroke="#dcebb8" stroke-width="0.8"/><polygon points="94.5,716 153.8,717.5 124.6,753.3" fill="#74cc1e"/><polygon points="94.5,716 89.3,767.6 124.6,753.3" fill="#6dc618"/><polygon points="153.8,717.5 148.7,769.4 124.6,753.3" fill="#52a20a"/><polygon points="89.3,767.6 148.7,769.4 124.6,753.3" fill="#4f9d0a"/><path d="M98.3 719.7L122 742.3" stroke="#9be052" stroke-width="2.4" stroke-opacity="0.55"/><path d="M98.3 719.7L106 727" stroke="#9ea414" stroke-width="2.8" stroke-opacity="0.85"/><path d="M149.3 721L122 742.3" stroke="#9be052" stroke-width="2.4" stroke-opacity="0.55"/><path d="M149.3 721L140.4 727.9" stroke="#9ea414" stroke-width="2.8" stroke-opacity="0.85"/><path d="M145 765.6L122 742.3" stroke="#9be052" stroke-width="2.4" stroke-opacity="0.55"/><path d="M145 765.6L137.5 758" stroke="#9ea414" stroke-width="2.8" stroke-opacity="0.85"/><path d="M93.9 764.1L122 742.3" stroke="#9be052" stroke-width="2.4" stroke-opacity="0.55"/><path d="M93.9 764.1L103 757" stroke="#9ea414" stroke-width="2.8" stroke-opacity="0.85"/><path d="M124.2 751.8L122 742.3" stroke="#9be052" stroke-width="2.4" stroke-opacity="0.55"/><path d="M124.2 751.8L123.5 748.7" stroke="#9ea414" stroke-width="2.8" stroke-opacity="0.85"/><circle cx="122" cy="742.3" r="11.5" fill="#6ab84a" fill-opacity="0.5"/><circle cx="116" cy="728.8" r="2" fill="#a4d62e"/><path d="M94.5 716L153.8 717.5" stroke="#dcebb8" stroke-width="0.8"/><path d="M153.8 717.5L148.7 769.4" stroke="#dcebb8" stroke-width="0.8"/><path d="M148.7 769.4L89.3 767.6" stroke="#dcebb8" stroke-width="0.8"/><path d="M89.3 767.6L94.5 716" stroke="#dcebb8" stroke-width="0.8"/><path d="M94.5 716L124.6 753.3" stroke="#dcebb8" stroke-width="0.8"/><path d="M153.8 717.5L124.6 753.3" stroke="#dcebb8" stroke-width="0.8"/><path d="M148.7 769.4L124.6 753.3" stroke="#dcebb8" stroke-width="0.8"/><path d="M89.3 767.6L124.6 753.3" stroke="#dcebb8" stroke-width="0.8"/><polygon points="153.8,717.5 215.4,722.3 192.7,757" fill="#74cc1e"/><polygon points="153.8,717.5 148.7,769.4 192.7,757" fill="#6dc618"/><polygon points="215.4,722.3 210.3,774.8 192.7,757" fill="#52a20a"/><polygon points="148.7,769.4 210.3,774.8 192.7,757" fill="#4f9d0a"/><path d="M157.7 721.4L182 745.6" stroke="#9be052" stroke-width="2.4" stroke-opacity="0.55"/><path d="M157.7 721.4L165.6 729.3" stroke="#9ea414" stroke-width="2.8" stroke-opacity="0.85"/><path d="M210.7 725.6L182 745.6" stroke="#9be052" stroke-width="2.4" stroke-opacity="0.55"/><path d="M210.7 725.6L201.4 732.1" stroke="#9ea414" stroke-width="2.8" stroke-opacity="0.85"/><path d="M206.3 770.7L182 745.6" stroke="#9be052" stroke-width="2.4" stroke-opacity="0.55"/><path d="M206.3 770.7L198.4 762.5" stroke="#9ea414" stroke-width="2.8" stroke-opacity="0.85"/><path d="M153.4 766.1L182 745.6" stroke="#9be052" stroke-width="2.4" stroke-opacity="0.55"/><path d="M153.4 766.1L162.7 759.4" stroke="#9ea414" stroke-width="2.8" stroke-opacity="0.85"/><path d="M191.2 755.4L182 745.6" stroke="#9be052" stroke-width="2.4" stroke-opacity="0.55"/><path d="M191.2 755.4L188.2 752.2" stroke="#9ea414" stroke-width="2.8" stroke-opacity="0.85"/><circle cx="182" cy="745.6" r="11.5" fill="#6ab84a" fill-opacity="0.5"/><circle cx="176" cy="732.1" r="2" fill="#a4d62e"/><path d="M153.8 717.5L215.4 722.3" stroke="#dcebb8" stroke-width="0.8"/><path d="M215.4 722.3L210.3 774.8" stroke="#dcebb8" stroke-width="0.8"/><path d="M210.3 774.8L148.7 769.4" stroke="#dcebb8" stroke-width="0.8"/><path d="M148.7 769.4L153.8 717.5" stroke="#dcebb8" stroke-width="0.8"/><path d="M153.8 717.5L192.7 757" stroke="#dcebb8" stroke-width="0.8"/><path d="M215.4 722.3L192.7 757" stroke="#dcebb8" stroke-width="0.8"/><path d="M210.3 774.8L192.7 757" stroke="#dcebb8" stroke-width="0.8"/><path d="M148.7 769.4L192.7 757" stroke="#dcebb8" stroke-width="0.8"/><polygon points="215.4,722.3 274.8,724.4 244.9,760.3" fill="#74cc1e"/><polygon points="215.4,722.3 210.3,774.8 244.9,760.3" fill="#6dc618"/><polygon points="274.8,724.4 269.6,776.2 244.9,760.3" fill="#52a20a"/><polygon points="210.3,774.8 269.6,776.2 244.9,760.3" fill="#4f9d0a"/><path d="M219.1 726.2L242 750" stroke="#9be052" stroke-width="2.4" stroke-opacity="0.55"/><path d="M219.1 726.2L226.6 733.9" stroke="#9ea414" stroke-width="2.8" stroke-opacity="0.85"/><path d="M270.2 728L242 750" stroke="#9be052" stroke-width="2.4" stroke-opacity="0.55"/><path d="M270.2 728L261 735.2" stroke="#9ea414" stroke-width="2.8" stroke-opacity="0.85"/><path d="M265.7 772.5L242 750" stroke="#9be052" stroke-width="2.4" stroke-opacity="0.55"/><path d="M265.7 772.5L258 765.2" stroke="#9ea414" stroke-width="2.8" stroke-opacity="0.85"/><path d="M214.7 771.3L242 750" stroke="#9be052" stroke-width="2.4" stroke-opacity="0.55"/><path d="M214.7 771.3L223.6 764.4" stroke="#9ea414" stroke-width="2.8" stroke-opacity="0.85"/><path d="M244.5 758.9L242 750" stroke="#9be052" stroke-width="2.4" stroke-opacity="0.55"/><path d="M244.5 758.9L243.7 756" stroke="#9ea414" stroke-width="2.8" stroke-opacity="0.85"/><circle cx="242" cy="750" r="11.5" fill="#6ab84a" fill-opacity="0.5"/><circle cx="236" cy="736.5" r="2" fill="#a4d62e"/><path d="M215.4 722.3L274.8 724.4" stroke="#dcebb8" stroke-width="0.8"/><path d="M274.8 724.4L269.6 776.2" stroke="#dcebb8" stroke-width="0.8"/><path d="M269.6 776.2L210.3 774.8" stroke="#dcebb8" stroke-width="0.8"/><path d="M210.3 774.8L215.4 722.3" stroke="#dcebb8" stroke-width="0.8"/><path d="M215.4 722.3L244.9 760.3" stroke="#dcebb8" stroke-width="0.8"/><path d="M274.8 724.4L244.9 760.3" stroke="#dcebb8" stroke-width="0.8"/><path d="M269.6 776.2L244.9 760.3" stroke="#dcebb8" stroke-width="0.8"/><path d="M210.3 774.8L244.9 760.3" stroke="#dcebb8" stroke-width="0.8"/><polygon points="73.5,750.4 89.3,767.6 43.2,786.1" fill="#58a912"/><polygon points="13.9,749.1 73.5,750.4 43.2,786.1" fill="#74cc1e"/><polygon points="13.9,749.1 8.7,800.4 43.2,786.1" fill="#6dc618"/><polygon points="73.5,750.4 67,801 43.2,786.1" fill="#52a20a"/><polygon points="8.7,800.4 67,801 43.2,786.1" fill="#4f9d0a"/><path d="M17.7 752.7L41 775" stroke="#9be052" stroke-width="2.4" stroke-opacity="0.55"/><path d="M17.7 752.7L25.3 760" stroke="#9ea414" stroke-width="2.8" stroke-opacity="0.85"/><path d="M69 753.8L41 775" stroke="#9be052" stroke-width="2.4" stroke-opacity="0.55"/><path d="M69 753.8L59.9 760.7" stroke="#9ea414" stroke-width="2.8" stroke-opacity="0.85"/><path d="M13.2 796.8L41 775" stroke="#9be052" stroke-width="2.4" stroke-opacity="0.55"/><path d="M13.2 796.8L22.3 789.7" stroke="#9ea414" stroke-width="2.8" stroke-opacity="0.85"/><path d="M42.9 784.5L41 775" stroke="#9be052" stroke-width="2.4" stroke-opacity="0.55"/><path d="M42.9 784.5L42.3 781.4" stroke="#9ea414" stroke-width="2.8" stroke-opacity="0.85"/><circle cx="41" cy="775" r="11.5" fill="#6ab84a" fill-opacity="0.5"/><circle cx="35" cy="761.5" r="2" fill="#a4d62e"/><path d="M13.9 749.1L73.5 750.4" stroke="#dcebb8" stroke-width="0.8"/><path d="M73.5 750.4L67 801" stroke="#dcebb8" stroke-width="0.8"/><path d="M67 801L8.7 800.4" stroke="#dcebb8" stroke-width="0.8"/><path d="M8.7 800.4L13.9 749.1" stroke="#dcebb8" stroke-width="0.8"/><path d="M13.9 749.1L43.2 786.1" stroke="#dcebb8" stroke-width="0.8"/><path d="M73.5 750.4L43.2 786.1" stroke="#dcebb8" stroke-width="0.8"/><path d="M67 801L43.2 786.1" stroke="#dcebb8" stroke-width="0.8"/><path d="M8.7 800.4L43.2 786.1" stroke="#dcebb8" stroke-width="0.8"/><polygon points="112.2,790 164.4,792.8 142,835.4" fill="#74cc1e"/><polygon points="112.2,790 107,842 142,835.4" fill="#6dc618"/><polygon points="164.4,792.8 159,845 142,835.4" fill="#52a20a"/><polygon points="107,842 159,845 142,835.4" fill="#4f9d0a"/><path d="M115.5 794.3L135.5 820.5" stroke="#9be052" stroke-width="2.4" stroke-opacity="0.55"/><path d="M115.5 794.3L122 802.8" stroke="#9ea414" stroke-width="2.8" stroke-opacity="0.85"/><path d="M160.4 796.7L135.5 820.5" stroke="#9be052" stroke-width="2.4" stroke-opacity="0.55"/><path d="M160.4 796.7L152.3 804.4" stroke="#9ea414" stroke-width="2.8" stroke-opacity="0.85"/><path d="M141.1 833.3L135.5 820.5" stroke="#9be052" stroke-width="2.4" stroke-opacity="0.55"/><path d="M141.1 833.3L139.3 829.1" stroke="#9ea414" stroke-width="2.8" stroke-opacity="0.85"/><circle cx="135.5" cy="820.5" r="11.5" fill="#6ab84a" fill-opacity="0.5"/><circle cx="129.5" cy="807" r="2" fill="#a4d62e"/><path d="M112.2 790L164.4 792.8" stroke="#dcebb8" stroke-width="0.8"/><path d="M164.4 792.8L159 845" stroke="#dcebb8" stroke-width="0.8"/><path d="M159 845L107 842" stroke="#dcebb8" stroke-width="0.8"/><path d="M107 842L112.2 790" stroke="#dcebb8" stroke-width="0.8"/><path d="M112.2 790L142 835.4" stroke="#dcebb8" stroke-width="0.8"/><path d="M164.4 792.8L142 835.4" stroke="#dcebb8" stroke-width="0.8"/><path d="M159 845L142 835.4" stroke="#dcebb8" stroke-width="0.8"/><path d="M107 842L142 835.4" stroke="#dcebb8" stroke-width="0.8"/><polygon points="232.8,796.6 285.5,799.4 262.5,842.3" fill="#74cc1e"/><polygon points="232.8,796.6 227,849 262.5,842.3" fill="#6dc618"/><polygon points="285.5,799.4 280,852 262.5,842.3" fill="#52a20a"/><polygon points="227,849 280,852 262.5,842.3" fill="#4f9d0a"/><path d="M236.1 800.8L256.5 826.5" stroke="#9be052" stroke-width="2.4" stroke-opacity="0.55"/><path d="M236.1 800.8L242.8 809.2" stroke="#9ea414" stroke-width="2.8" stroke-opacity="0.85"/><path d="M281.4 803.2L256.5 826.5" stroke="#9be052" stroke-width="2.4" stroke-opacity="0.55"/><path d="M281.4 803.2L273.3 810.8" stroke="#9ea414" stroke-width="2.8" stroke-opacity="0.85"/><path d="M261.7 840.1L256.5 826.5" stroke="#9be052" stroke-width="2.4" stroke-opacity="0.55"/><path d="M261.7 840.1L260 835.7" stroke="#9ea414" stroke-width="2.8" stroke-opacity="0.85"/><circle cx="256.5" cy="826.5" r="11.5" fill="#6ab84a" fill-opacity="0.5"/><circle cx="250.5" cy="813" r="2" fill="#a4d62e"/><path d="M232.8 796.6L285.5 799.4" stroke="#dcebb8" stroke-width="0.8"/><path d="M285.5 799.4L280 852" stroke="#dcebb8" stroke-width="0.8"/><path d="M280 852L227 849" stroke="#dcebb8" stroke-width="0.8"/><path d="M227 849L232.8 796.6" stroke="#dcebb8" stroke-width="0.8"/><path d="M232.8 796.6L262.5 842.3" stroke="#dcebb8" stroke-width="0.8"/><path d="M285.5 799.4L262.5 842.3" stroke="#dcebb8" stroke-width="0.8"/><path d="M280 852L262.5 842.3" stroke="#dcebb8" stroke-width="0.8"/><path d="M227 849L262.5 842.3" stroke="#dcebb8" stroke-width="0.8"/><g opacity="0.8"><circle cx="285.5" cy="799.4" r="4.5" fill="#fff" stroke="#d8131b" stroke-width="3.2"/><circle cx="285.5" cy="799.4" r="6.3" fill="none" stroke="#5a0a0a" stroke-width="0.6"/><text x="285.1" y="803.2" font-size="14" text-anchor="middle" font-family="Liberation Sans, Arial, sans-serif" font-weight="bold" font-style="italic">o</text></g><polygon points="89.3,767.6 43.2,786.1 82.6,833.8" fill="#ddd51e" fill-opacity="0.93"/><polygon points="89.3,767.6 112.2,790 82.6,833.8" fill="#a9a713" fill-opacity="0.93"/><circle cx="82" cy="794.5" r="11" fill="#8a8a10" fill-opacity="0.45"/><path d="M89.3 767.6L43.2 786.1" stroke="#e9e6a0" stroke-width="0.8"/><path d="M43.2 786.1L82.6 833.8" stroke="#e9e6a0" stroke-width="0.8"/><path d="M89.3 767.6L82.6 833.8" stroke="#e9e6a0" stroke-width="0.8"/><path d="M89.3 767.6L112.2 790" stroke="#e9e6a0" stroke-width="0.8"/><path d="M112.2 790L82.6 833.8" stroke="#e9e6a0" stroke-width="0.8"/><polygon points="210.3,774.8 164.4,792.8 203.1,840.4" fill="#ddd51e" fill-opacity="0.93"/><polygon points="210.3,774.8 232.8,796.6 203.1,840.4" fill="#a9a713" fill-opacity="0.93"/><circle cx="203" cy="801.5" r="11" fill="#8a8a10" fill-opacity="0.45"/><path d="M210.3 774.8L164.4 792.8" stroke="#e9e6a0" stroke-width="0.8"/><path d="M164.4 792.8L203.1 840.4" stroke="#e9e6a0" stroke-width="0.8"/><path d="M210.3 774.8L203.1 840.4" stroke="#e9e6a0" stroke-width="0.8"/><path d="M210.3 774.8L232.8 796.6" stroke="#e9e6a0" stroke-width="0.8"/><path d="M232.8 796.6L203.1 840.4" stroke="#e9e6a0" stroke-width="0.8"/><polygon points="82.6,833.8 142,835.4 112.3,871.2" fill="#74cc1e"/><polygon points="82.6,833.8 77,885.5 112.3,871.2" fill="#6dc618"/><polygon points="142,835.4 136.2,887.6 112.3,871.2" fill="#52a20a"/><polygon points="77,885.5 136.2,887.6 112.3,871.2" fill="#4f9d0a"/><path d="M86.4 837.5L110 860.5" stroke="#9be052" stroke-width="2.4" stroke-opacity="0.55"/><path d="M86.4 837.5L94.1 845" stroke="#9ea414" stroke-width="2.8" stroke-opacity="0.85"/><path d="M137.5 838.9L110 860.5" stroke="#9be052" stroke-width="2.4" stroke-opacity="0.55"/><path d="M137.5 838.9L128.6 845.9" stroke="#9ea414" stroke-width="2.8" stroke-opacity="0.85"/><path d="M132.5 883.8L110 860.5" stroke="#9be052" stroke-width="2.4" stroke-opacity="0.55"/><path d="M132.5 883.8L125.2 876.2" stroke="#9ea414" stroke-width="2.8" stroke-opacity="0.85"/><path d="M81.6 882L110 860.5" stroke="#9be052" stroke-width="2.4" stroke-opacity="0.55"/><path d="M81.6 882L90.9 875" stroke="#9ea414" stroke-width="2.8" stroke-opacity="0.85"/><path d="M112 869.7L110 860.5" stroke="#9be052" stroke-width="2.4" stroke-opacity="0.55"/><path d="M112 869.7L111.3 866.7" stroke="#9ea414" stroke-width="2.8" stroke-opacity="0.85"/><circle cx="110" cy="860.5" r="11.5" fill="#6ab84a" fill-opacity="0.5"/><circle cx="104" cy="847" r="2" fill="#a4d62e"/><path d="M82.6 833.8L142 835.4" stroke="#dcebb8" stroke-width="0.8"/><path d="M142 835.4L136.2 887.6" stroke="#dcebb8" stroke-width="0.8"/><path d="M136.2 887.6L77 885.5" stroke="#dcebb8" stroke-width="0.8"/><path d="M77 885.5L82.6 833.8" stroke="#dcebb8" stroke-width="0.8"/><path d="M82.6 833.8L112.3 871.2" stroke="#dcebb8" stroke-width="0.8"/><path d="M142 835.4L112.3 871.2" stroke="#dcebb8" stroke-width="0.8"/><path d="M136.2 887.6L112.3 871.2" stroke="#dcebb8" stroke-width="0.8"/><path d="M77 885.5L112.3 871.2" stroke="#dcebb8" stroke-width="0.8"/><polygon points="142,835.4 203.1,840.4 180.1,874.9" fill="#74cc1e"/><polygon points="142,835.4 136.2,887.6 180.1,874.9" fill="#6dc618"/><polygon points="203.1,840.4 197.8,892.7 180.1,874.9" fill="#52a20a"/><polygon points="136.2,887.6 197.8,892.7 180.1,874.9" fill="#4f9d0a"/><path d="M145.9 839.3L170 863.5" stroke="#9be052" stroke-width="2.4" stroke-opacity="0.55"/><path d="M145.9 839.3L153.8 847.2" stroke="#9ea414" stroke-width="2.8" stroke-opacity="0.85"/><path d="M198.5 843.6L170 863.5" stroke="#9be052" stroke-width="2.4" stroke-opacity="0.55"/><path d="M198.5 843.6L189.2 850.1" stroke="#9ea414" stroke-width="2.8" stroke-opacity="0.85"/><path d="M193.9 888.6L170 863.5" stroke="#9be052" stroke-width="2.4" stroke-opacity="0.55"/><path d="M193.9 888.6L186.1 880.4" stroke="#9ea414" stroke-width="2.8" stroke-opacity="0.85"/><path d="M140.9 884.2L170 863.5" stroke="#9be052" stroke-width="2.4" stroke-opacity="0.55"/><path d="M140.9 884.2L150.4 877.5" stroke="#9ea414" stroke-width="2.8" stroke-opacity="0.85"/><path d="M178.7 873.3L170 863.5" stroke="#9be052" stroke-width="2.4" stroke-opacity="0.55"/><path d="M178.7 873.3L175.9 870.1" stroke="#9ea414" stroke-width="2.8" stroke-opacity="0.85"/><circle cx="170" cy="863.5" r="11.5" fill="#6ab84a" fill-opacity="0.5"/><circle cx="164" cy="850" r="2" fill="#a4d62e"/><path d="M142 835.4L203.1 840.4" stroke="#dcebb8" stroke-width="0.8"/><path d="M203.1 840.4L197.8 892.7" stroke="#dcebb8" stroke-width="0.8"/><path d="M197.8 892.7L136.2 887.6" stroke="#dcebb8" stroke-width="0.8"/><path d="M136.2 887.6L142 835.4" stroke="#dcebb8" stroke-width="0.8"/><path d="M142 835.4L180.1 874.9" stroke="#dcebb8" stroke-width="0.8"/><path d="M203.1 840.4L180.1 874.9" stroke="#dcebb8" stroke-width="0.8"/><path d="M197.8 892.7L180.1 874.9" stroke="#dcebb8" stroke-width="0.8"/><path d="M136.2 887.6L180.1 874.9" stroke="#dcebb8" stroke-width="0.8"/><polygon points="203.1,840.4 262.5,842.3 232.9,877.4" fill="#74cc1e"/><polygon points="203.1,840.4 197.8,892.7 232.9,877.4" fill="#6dc618"/><polygon points="262.5,842.3 257.1,894.3 232.9,877.4" fill="#52a20a"/><polygon points="197.8,892.7 257.1,894.3 232.9,877.4" fill="#4f9d0a"/><path d="M206.9 844.1L230.5 866.5" stroke="#9be052" stroke-width="2.4" stroke-opacity="0.55"/><path d="M206.9 844.1L214.6 851.4" stroke="#9ea414" stroke-width="2.8" stroke-opacity="0.85"/><path d="M258 845.7L230.5 866.5" stroke="#9be052" stroke-width="2.4" stroke-opacity="0.55"/><path d="M258 845.7L249.1 852.5" stroke="#9ea414" stroke-width="2.8" stroke-opacity="0.85"/><path d="M253.4 890.4L230.5 866.5" stroke="#9be052" stroke-width="2.4" stroke-opacity="0.55"/><path d="M253.4 890.4L245.9 882.6" stroke="#9ea414" stroke-width="2.8" stroke-opacity="0.85"/><path d="M202.4 889L230.5 866.5" stroke="#9be052" stroke-width="2.4" stroke-opacity="0.55"/><path d="M202.4 889L211.5 881.7" stroke="#9ea414" stroke-width="2.8" stroke-opacity="0.85"/><path d="M232.6 875.9L230.5 866.5" stroke="#9be052" stroke-width="2.4" stroke-opacity="0.55"/><path d="M232.6 875.9L231.9 872.8" stroke="#9ea414" stroke-width="2.8" stroke-opacity="0.85"/><circle cx="230.5" cy="866.5" r="11.5" fill="#6ab84a" fill-opacity="0.5"/><circle cx="224.5" cy="853" r="2" fill="#a4d62e"/><path d="M203.1 840.4L262.5 842.3" stroke="#dcebb8" stroke-width="0.8"/><path d="M262.5 842.3L257.1 894.3" stroke="#dcebb8" stroke-width="0.8"/><path d="M257.1 894.3L197.8 892.7" stroke="#dcebb8" stroke-width="0.8"/><path d="M197.8 892.7L203.1 840.4" stroke="#dcebb8" stroke-width="0.8"/><path d="M203.1 840.4L232.9 877.4" stroke="#dcebb8" stroke-width="0.8"/><path d="M262.5 842.3L232.9 877.4" stroke="#dcebb8" stroke-width="0.8"/><path d="M257.1 894.3L232.9 877.4" stroke="#dcebb8" stroke-width="0.8"/><path d="M197.8 892.7L232.9 877.4" stroke="#dcebb8" stroke-width="0.8"/><path d="M144.7 653.7L129.4 666" stroke="#111" stroke-width="1.1"/><path d="M177 674.2L215.4 722.3" stroke="#111" stroke-width="1.1"/><path d="M153.8 717.5L186.6 688.5" stroke="#111" stroke-width="1.1"/><path d="M43.2 786.1L82.6 833.8" stroke="#111" stroke-width="1.1"/><path d="M89.3 767.6L56.2 797.3" stroke="#111" stroke-width="1.1"/><path d="M269.6 776.2L296.2 811" stroke="#111" stroke-width="1.1"/><path d="M296.2 811L262.5 842.3" stroke="#111" stroke-width="1.1"/><path d="M136.2 887.6L163.4 922.3" stroke="#111" stroke-width="1.1"/><path d="M163.4 922.3L197.8 892.7" stroke="#111" stroke-width="1.1"/><path d="M31 747.5L40 741" stroke="#111" stroke-width="1.1"/><path d="M262.5 842.3L280 825" stroke="#111" stroke-width="1.1"/><circle cx="146.8" cy="637.4" r="4.5" fill="#fff" stroke="#d8131b" stroke-width="3.2"/><circle cx="146.8" cy="637.4" r="6.3" fill="none" stroke="#5a0a0a" stroke-width="0.6"/><text x="146.4" y="641.2" font-size="14" text-anchor="middle" font-family="Liberation Sans, Arial, sans-serif" font-weight="bold" font-style="italic">o</text><circle cx="206.5" cy="638.8" r="4.5" fill="#fff" stroke="#d8131b" stroke-width="3.2"/><circle cx="206.5" cy="638.8" r="6.3" fill="none" stroke="#5a0a0a" stroke-width="0.6"/><text x="206.1" y="642.6" font-size="14" text-anchor="middle" font-family="Liberation Sans, Arial, sans-serif" font-weight="bold" font-style="italic">o</text><circle cx="223.8" cy="656.4" r="4.5" fill="#fff" stroke="#d8131b" stroke-width="3.2"/><circle cx="223.8" cy="656.4" r="6.3" fill="none" stroke="#5a0a0a" stroke-width="0.6"/><text x="223.4" y="660.2" font-size="14" text-anchor="middle" font-family="Liberation Sans, Arial, sans-serif" font-weight="bold" font-style="italic">o</text><circle cx="66.1" cy="670.3" r="4.5" fill="#fff" stroke="#d8131b" stroke-width="3.2"/><circle cx="66.1" cy="670.3" r="6.3" fill="none" stroke="#5a0a0a" stroke-width="0.6"/><text x="65.7" y="674.1" font-size="14" text-anchor="middle" font-family="Liberation Sans, Arial, sans-serif" font-weight="bold" font-style="italic">o</text><circle cx="124" cy="671.3" r="4.5" fill="#fff" stroke="#d8131b" stroke-width="3.2"/><circle cx="124" cy="671.3" r="6.3" fill="none" stroke="#5a0a0a" stroke-width="0.6"/><text x="123.6" y="675.1" font-size="14" text-anchor="middle" font-family="Liberation Sans, Arial, sans-serif" font-weight="bold" font-style="italic">o</text><circle cx="177" cy="674.2" r="4.5" fill="#fff" stroke="#d8131b" stroke-width="3.2"/><circle cx="177" cy="674.2" r="6.3" fill="none" stroke="#5a0a0a" stroke-width="0.6"/><text x="176.6" y="678" font-size="14" text-anchor="middle" font-family="Liberation Sans, Arial, sans-serif" font-weight="bold" font-style="italic">o</text><circle cx="246" cy="678.6" r="4.5" fill="#fff" stroke="#d8131b" stroke-width="3.2"/><circle cx="246" cy="678.6" r="6.3" fill="none" stroke="#5a0a0a" stroke-width="0.6"/><text x="245.6" y="682.4" font-size="14" text-anchor="middle" font-family="Liberation Sans, Arial, sans-serif" font-weight="bold" font-style="italic">o</text><circle cx="201" cy="691" r="4.5" fill="#fff" stroke="#d8131b" stroke-width="3.2"/><circle cx="201" cy="691" r="6.3" fill="none" stroke="#5a0a0a" stroke-width="0.6"/><text x="200.6" y="694.8" font-size="14" text-anchor="middle" font-family="Liberation Sans, Arial, sans-serif" font-weight="bold" font-style="italic">o</text><circle cx="43.5" cy="704.4" r="4.5" fill="#fff" stroke="#d8131b" stroke-width="3.2"/><circle cx="43.5" cy="704.4" r="6.3" fill="none" stroke="#5a0a0a" stroke-width="0.6"/><text x="43.1" y="708.2" font-size="14" text-anchor="middle" font-family="Liberation Sans, Arial, sans-serif" font-weight="bold" font-style="italic">o</text><circle cx="95.9" cy="706.7" r="4.5" fill="#fff" stroke="#d8131b" stroke-width="3.2"/><circle cx="95.9" cy="706.7" r="6.3" fill="none" stroke="#5a0a0a" stroke-width="0.6"/><text x="95.5" y="710.5" font-size="14" text-anchor="middle" font-family="Liberation Sans, Arial, sans-serif" font-weight="bold" font-style="italic">o</text><circle cx="94.5" cy="716" r="4.5" fill="#fff" stroke="#d8131b" stroke-width="3.2"/><circle cx="94.5" cy="716" r="6.3" fill="none" stroke="#5a0a0a" stroke-width="0.6"/><text x="94.1" y="719.8" font-size="14" text-anchor="middle" font-family="Liberation Sans, Arial, sans-serif" font-weight="bold" font-style="italic">o</text><circle cx="153.8" cy="717.5" r="4.5" fill="#fff" stroke="#d8131b" stroke-width="3.2"/><circle cx="153.8" cy="717.5" r="6.3" fill="none" stroke="#5a0a0a" stroke-width="0.6"/><text x="153.4" y="721.3" font-size="14" text-anchor="middle" font-family="Liberation Sans, Arial, sans-serif" font-weight="bold" font-style="italic">o</text><circle cx="215.4" cy="722.3" r="4.5" fill="#fff" stroke="#d8131b" stroke-width="3.2"/><circle cx="215.4" cy="722.3" r="6.3" fill="none" stroke="#5a0a0a" stroke-width="0.6"/><text x="215" y="726.1" font-size="14" text-anchor="middle" font-family="Liberation Sans, Arial, sans-serif" font-weight="bold" font-style="italic">o</text><circle cx="274.8" cy="724.4" r="4.5" fill="#fff" stroke="#d8131b" stroke-width="3.2"/><circle cx="274.8" cy="724.4" r="6.3" fill="none" stroke="#5a0a0a" stroke-width="0.6"/><text x="274.4" y="728.2" font-size="14" text-anchor="middle" font-family="Liberation Sans, Arial, sans-serif" font-weight="bold" font-style="italic">o</text><circle cx="292.2" cy="741.8" r="4.5" fill="#fff" stroke="#d8131b" stroke-width="3.2"/><circle cx="292.2" cy="741.8" r="6.3" fill="none" stroke="#5a0a0a" stroke-width="0.6"/><text x="291.8" y="745.6" font-size="14" text-anchor="middle" font-family="Liberation Sans, Arial, sans-serif" font-weight="bold" font-style="italic">o</text><circle cx="13.9" cy="749.1" r="4.5" fill="#fff" stroke="#d8131b" stroke-width="3.2"/><circle cx="13.9" cy="749.1" r="6.3" fill="none" stroke="#5a0a0a" stroke-width="0.6"/><text x="13.5" y="752.9" font-size="14" text-anchor="middle" font-family="Liberation Sans, Arial, sans-serif" font-weight="bold" font-style="italic">o</text><circle cx="73.5" cy="750.4" r="4.5" fill="#fff" stroke="#d8131b" stroke-width="3.2"/><circle cx="73.5" cy="750.4" r="6.3" fill="none" stroke="#5a0a0a" stroke-width="0.6"/><text x="73.1" y="754.2" font-size="14" text-anchor="middle" font-family="Liberation Sans, Arial, sans-serif" font-weight="bold" font-style="italic">o</text><circle cx="124.6" cy="753.3" r="4.5" fill="#fff" stroke="#d8131b" stroke-width="3.2"/><circle cx="124.6" cy="753.3" r="6.3" fill="none" stroke="#5a0a0a" stroke-width="0.6"/><text x="124.2" y="757.1" font-size="14" text-anchor="middle" font-family="Liberation Sans, Arial, sans-serif" font-weight="bold" font-style="italic">o</text><circle cx="192.7" cy="757" r="4.5" fill="#fff" stroke="#d8131b" stroke-width="3.2"/><circle cx="192.7" cy="757" r="6.3" fill="none" stroke="#5a0a0a" stroke-width="0.6"/><text x="192.3" y="760.8" font-size="14" text-anchor="middle" font-family="Liberation Sans, Arial, sans-serif" font-weight="bold" font-style="italic">o</text><circle cx="244.9" cy="760.3" r="4.5" fill="#fff" stroke="#d8131b" stroke-width="3.2"/><circle cx="244.9" cy="760.3" r="6.3" fill="none" stroke="#5a0a0a" stroke-width="0.6"/><text x="244.5" y="764.1" font-size="14" text-anchor="middle" font-family="Liberation Sans, Arial, sans-serif" font-weight="bold" font-style="italic">o</text><circle cx="315" cy="764" r="4.5" fill="#fff" stroke="#d8131b" stroke-width="3.2"/><circle cx="315" cy="764" r="6.3" fill="none" stroke="#5a0a0a" stroke-width="0.6"/><text x="314.6" y="767.8" font-size="14" text-anchor="middle" font-family="Liberation Sans, Arial, sans-serif" font-weight="bold" font-style="italic">o</text><circle cx="89.3" cy="767.6" r="4.5" fill="#fff" stroke="#d8131b" stroke-width="3.2"/><circle cx="89.3" cy="767.6" r="6.3" fill="none" stroke="#5a0a0a" stroke-width="0.6"/><text x="88.9" y="771.4" font-size="14" text-anchor="middle" font-family="Liberation Sans, Arial, sans-serif" font-weight="bold" font-style="italic">o</text><circle cx="148.7" cy="769.4" r="4.5" fill="#fff" stroke="#d8131b" stroke-width="3.2"/><circle cx="148.7" cy="769.4" r="6.3" fill="none" stroke="#5a0a0a" stroke-width="0.6"/><text x="148.3" y="773.2" font-size="14" text-anchor="middle" font-family="Liberation Sans, Arial, sans-serif" font-weight="bold" font-style="italic">o</text><circle cx="210.3" cy="774.8" r="4.5" fill="#fff" stroke="#d8131b" stroke-width="3.2"/><circle cx="210.3" cy="774.8" r="6.3" fill="none" stroke="#5a0a0a" stroke-width="0.6"/><text x="209.9" y="778.6" font-size="14" text-anchor="middle" font-family="Liberation Sans, Arial, sans-serif" font-weight="bold" font-style="italic">o</text><circle cx="269.6" cy="776.2" r="4.5" fill="#fff" stroke="#d8131b" stroke-width="3.2"/><circle cx="269.6" cy="776.2" r="6.3" fill="none" stroke="#5a0a0a" stroke-width="0.6"/><text x="269.2" y="780" font-size="14" text-anchor="middle" font-family="Liberation Sans, Arial, sans-serif" font-weight="bold" font-style="italic">o</text><circle cx="43.2" cy="786.1" r="4.5" fill="#fff" stroke="#d8131b" stroke-width="3.2"/><circle cx="43.2" cy="786.1" r="6.3" fill="none" stroke="#5a0a0a" stroke-width="0.6"/><text x="42.8" y="789.9" font-size="14" text-anchor="middle" font-family="Liberation Sans, Arial, sans-serif" font-weight="bold" font-style="italic">o</text><circle cx="112.2" cy="790" r="4.5" fill="#fff" stroke="#d8131b" stroke-width="3.2"/><circle cx="112.2" cy="790" r="6.3" fill="none" stroke="#5a0a0a" stroke-width="0.6"/><text x="111.8" y="793.8" font-size="14" text-anchor="middle" font-family="Liberation Sans, Arial, sans-serif" font-weight="bold" font-style="italic">o</text><circle cx="164.4" cy="792.8" r="4.5" fill="#fff" stroke="#d8131b" stroke-width="3.2"/><circle cx="164.4" cy="792.8" r="6.3" fill="none" stroke="#5a0a0a" stroke-width="0.6"/><text x="164" y="796.6" font-size="14" text-anchor="middle" font-family="Liberation Sans, Arial, sans-serif" font-weight="bold" font-style="italic">o</text><circle cx="232.8" cy="796.6" r="4.5" fill="#fff" stroke="#d8131b" stroke-width="3.2"/><circle cx="232.8" cy="796.6" r="6.3" fill="none" stroke="#5a0a0a" stroke-width="0.6"/><text x="232.4" y="800.4" font-size="14" text-anchor="middle" font-family="Liberation Sans, Arial, sans-serif" font-weight="bold" font-style="italic">o</text><circle cx="8.7" cy="800.4" r="4.5" fill="#fff" stroke="#d8131b" stroke-width="3.2"/><circle cx="8.7" cy="800.4" r="6.3" fill="none" stroke="#5a0a0a" stroke-width="0.6"/><text x="8.3" y="804.2" font-size="14" text-anchor="middle" font-family="Liberation Sans, Arial, sans-serif" font-weight="bold" font-style="italic">o</text><circle cx="309.4" cy="815.6" r="4.5" fill="#fff" stroke="#d8131b" stroke-width="3.2"/><circle cx="309.4" cy="815.6" r="6.3" fill="none" stroke="#5a0a0a" stroke-width="0.6"/><text x="309" y="819.4" font-size="14" text-anchor="middle" font-family="Liberation Sans, Arial, sans-serif" font-weight="bold" font-style="italic">o</text><circle cx="31.1" cy="822.9" r="4.5" fill="#fff" stroke="#d8131b" stroke-width="3.2"/><circle cx="31.1" cy="822.9" r="6.3" fill="none" stroke="#5a0a0a" stroke-width="0.6"/><text x="30.7" y="826.7" font-size="14" text-anchor="middle" font-family="Liberation Sans, Arial, sans-serif" font-weight="bold" font-style="italic">o</text><circle cx="82.6" cy="833.8" r="4.5" fill="#fff" stroke="#d8131b" stroke-width="3.2"/><circle cx="82.6" cy="833.8" r="6.3" fill="none" stroke="#5a0a0a" stroke-width="0.6"/><text x="82.2" y="837.6" font-size="14" text-anchor="middle" font-family="Liberation Sans, Arial, sans-serif" font-weight="bold" font-style="italic">o</text><circle cx="142" cy="835.4" r="4.5" fill="#fff" stroke="#d8131b" stroke-width="3.2"/><circle cx="142" cy="835.4" r="6.3" fill="none" stroke="#5a0a0a" stroke-width="0.6"/><text x="141.6" y="839.2" font-size="14" text-anchor="middle" font-family="Liberation Sans, Arial, sans-serif" font-weight="bold" font-style="italic">o</text><circle cx="48.4" cy="839.8" r="4.5" fill="#fff" stroke="#d8131b" stroke-width="3.2"/><circle cx="48.4" cy="839.8" r="6.3" fill="none" stroke="#5a0a0a" stroke-width="0.6"/><text x="48" y="843.6" font-size="14" text-anchor="middle" font-family="Liberation Sans, Arial, sans-serif" font-weight="bold" font-style="italic">o</text><circle cx="203.1" cy="840.4" r="4.5" fill="#fff" stroke="#d8131b" stroke-width="3.2"/><circle cx="203.1" cy="840.4" r="6.3" fill="none" stroke="#5a0a0a" stroke-width="0.6"/><text x="202.7" y="844.2" font-size="14" text-anchor="middle" font-family="Liberation Sans, Arial, sans-serif" font-weight="bold" font-style="italic">o</text><circle cx="262.5" cy="842.3" r="4.5" fill="#fff" stroke="#d8131b" stroke-width="3.2"/><circle cx="262.5" cy="842.3" r="6.3" fill="none" stroke="#5a0a0a" stroke-width="0.6"/><text x="262.1" y="846.1" font-size="14" text-anchor="middle" font-family="Liberation Sans, Arial, sans-serif" font-weight="bold" font-style="italic">o</text><circle cx="279.5" cy="860.2" r="4.5" fill="#fff" stroke="#d8131b" stroke-width="3.2"/><circle cx="279.5" cy="860.2" r="6.3" fill="none" stroke="#5a0a0a" stroke-width="0.6"/><text x="279.1" y="864" font-size="14" text-anchor="middle" font-family="Liberation Sans, Arial, sans-serif" font-weight="bold" font-style="italic">o</text><circle cx="112.3" cy="871.2" r="4.5" fill="#fff" stroke="#d8131b" stroke-width="3.2"/><circle cx="112.3" cy="871.2" r="6.3" fill="none" stroke="#5a0a0a" stroke-width="0.6"/><text x="111.9" y="875" font-size="14" text-anchor="middle" font-family="Liberation Sans, Arial, sans-serif" font-weight="bold" font-style="italic">o</text><circle cx="180.1" cy="874.9" r="4.5" fill="#fff" stroke="#d8131b" stroke-width="3.2"/><circle cx="180.1" cy="874.9" r="6.3" fill="none" stroke="#5a0a0a" stroke-width="0.6"/><text x="179.7" y="878.7" font-size="14" text-anchor="middle" font-family="Liberation Sans, Arial, sans-serif" font-weight="bold" font-style="italic">o</text><circle cx="232.9" cy="877.4" r="4.5" fill="#fff" stroke="#d8131b" stroke-width="3.2"/><circle cx="232.9" cy="877.4" r="6.3" fill="none" stroke="#5a0a0a" stroke-width="0.6"/><text x="232.5" y="881.2" font-size="14" text-anchor="middle" font-family="Liberation Sans, Arial, sans-serif" font-weight="bold" font-style="italic">o</text><circle cx="77" cy="885.5" r="4.5" fill="#fff" stroke="#d8131b" stroke-width="3.2"/><circle cx="77" cy="885.5" r="6.3" fill="none" stroke="#5a0a0a" stroke-width="0.6"/><text x="76.6" y="889.3" font-size="14" text-anchor="middle" font-family="Liberation Sans, Arial, sans-serif" font-weight="bold" font-style="italic">o</text><circle cx="136.2" cy="887.6" r="4.5" fill="#fff" stroke="#d8131b" stroke-width="3.2"/><circle cx="136.2" cy="887.6" r="6.3" fill="none" stroke="#5a0a0a" stroke-width="0.6"/><text x="135.8" y="891.4" font-size="14" text-anchor="middle" font-family="Liberation Sans, Arial, sans-serif" font-weight="bold" font-style="italic">o</text><circle cx="197.8" cy="892.7" r="4.5" fill="#fff" stroke="#d8131b" stroke-width="3.2"/><circle cx="197.8" cy="892.7" r="6.3" fill="none" stroke="#5a0a0a" stroke-width="0.6"/><text x="197.4" y="896.5" font-size="14" text-anchor="middle" font-family="Liberation Sans, Arial, sans-serif" font-weight="bold" font-style="italic">o</text><circle cx="257.1" cy="894.3" r="4.5" fill="#fff" stroke="#d8131b" stroke-width="3.2"/><circle cx="257.1" cy="894.3" r="6.3" fill="none" stroke="#5a0a0a" stroke-width="0.6"/><text x="256.7" y="898.1" font-size="14" text-anchor="middle" font-family="Liberation Sans, Arial, sans-serif" font-weight="bold" font-style="italic">o</text><circle cx="99" cy="907.6" r="4.5" fill="#fff" stroke="#d8131b" stroke-width="3.2"/><circle cx="99" cy="907.6" r="6.3" fill="none" stroke="#5a0a0a" stroke-width="0.6"/><text x="98.6" y="911.4" font-size="14" text-anchor="middle" font-family="Liberation Sans, Arial, sans-serif" font-weight="bold" font-style="italic">o</text><circle cx="152.2" cy="910.6" r="4.5" fill="#fff" stroke="#d8131b" stroke-width="3.2"/><circle cx="152.2" cy="910.6" r="6.3" fill="none" stroke="#5a0a0a" stroke-width="0.6"/><text x="151.8" y="914.4" font-size="14" text-anchor="middle" font-family="Liberation Sans, Arial, sans-serif" font-weight="bold" font-style="italic">o</text><circle cx="116.4" cy="925" r="4.5" fill="#fff" stroke="#d8131b" stroke-width="3.2"/><circle cx="116.4" cy="925" r="6.3" fill="none" stroke="#5a0a0a" stroke-width="0.6"/><text x="116" y="928.8" font-size="14" text-anchor="middle" font-family="Liberation Sans, Arial, sans-serif" font-weight="bold" font-style="italic">o</text><circle cx="176.7" cy="927" r="4.5" fill="#fff" stroke="#d8131b" stroke-width="3.2"/><circle cx="176.7" cy="927" r="6.3" fill="none" stroke="#5a0a0a" stroke-width="0.6"/><text x="176.3" y="930.8" font-size="14" text-anchor="middle" font-family="Liberation Sans, Arial, sans-serif" font-weight="bold" font-style="italic">o</text><text x="175" y="667" font-size="14.3" text-anchor="middle" font-family="Liberation Sans, Arial, sans-serif" font-weight="bold">al</text><text x="94" y="702" font-size="14.3" text-anchor="middle" font-family="Liberation Sans, Arial, sans-serif" font-weight="bold">al</text><text x="149" y="707" font-size="14.3" text-anchor="middle" font-family="Liberation Sans, Arial, sans-serif" font-weight="bold">al</text><text x="66.5" y="739" font-size="14.3" text-anchor="middle" font-family="Liberation Sans, Arial, sans-serif" font-weight="bold">al</text><text x="121.5" y="747" font-size="14.3" text-anchor="middle" font-family="Liberation Sans, Arial, sans-serif" font-weight="bold">al</text><text x="181" y="750" font-size="14.3" text-anchor="middle" font-family="Liberation Sans, Arial, sans-serif" font-weight="bold">al</text><text x="241.5" y="754.5" font-size="14.3" text-anchor="middle" font-family="Liberation Sans, Arial, sans-serif" font-weight="bold">al</text><text x="41" y="779" font-size="14.3" text-anchor="middle" font-family="Liberation Sans, Arial, sans-serif" font-weight="bold">al</text><text x="135" y="825.5" font-size="14.3" text-anchor="middle" font-family="Liberation Sans, Arial, sans-serif" font-weight="bold">al</text><text x="256.5" y="831" font-size="14.3" text-anchor="middle" font-family="Liberation Sans, Arial, sans-serif" font-weight="bold">al</text><text x="110" y="865" font-size="14.3" text-anchor="middle" font-family="Liberation Sans, Arial, sans-serif" font-weight="bold">al</text><text x="170" y="867.5" font-size="14.3" text-anchor="middle" font-family="Liberation Sans, Arial, sans-serif" font-weight="bold">al</text><text x="230" y="870.5" font-size="14.3" text-anchor="middle" font-family="Liberation Sans, Arial, sans-serif" font-weight="bold">al</text><text x="104" y="781" font-size="14.3" text-anchor="middle" font-family="Liberation Sans, Arial, sans-serif" font-weight="bold">al</text><text x="223" y="788" font-size="14.3" text-anchor="middle" font-family="Liberation Sans, Arial, sans-serif" font-weight="bold">al</text><text x="81.5" y="798.5" font-size="14.5" text-anchor="middle" font-family="Liberation Sans, Arial, sans-serif" font-weight="bold">zn</text><text x="202.5" y="805" font-size="14.5" text-anchor="middle" font-family="Liberation Sans, Arial, sans-serif" font-weight="bold">zn</text></g>
<g stroke-linecap="round"><polygon points="564.3,656 581.8,656 578.3,713 560.3,692" fill="#52a216"/><polygon points="564.3,656 581.8,656 563.8,684" fill="#70c02c"/><polygon points="579.8,679 604.8,679 601.8,724 575.3,722" fill="#84ce40"/><polygon points="579.8,679 591.3,679 578.3,712" fill="#66b82a"/><polygon points="632.3,742 650.3,742 647.3,785 628.3,777" fill="#52a216"/><polygon points="632.3,742 650.3,742 631.3,770" fill="#6cbc2a"/><polygon points="647.8,764 673.3,764 669.3,814.5 644.8,800 647.3,783" fill="#66b82a"/><polygon points="647.8,764 673.3,764 645.3,799" fill="#7cc638"/><polygon points="621.8,842 642.8,819 639.8,861 622.8,858.5" fill="#52a20a"/><polygon points="644.8,800 668.8,815 655.3,811 642.8,819" fill="#52a216"/><polygon points="391.8,801.3 432.9,802.3 437.3,823.5 391.8,823.5" fill="#66b82a"/><polygon points="391.8,823.5 437.3,823.5 419.3,812" fill="#52a216"/><polygon points="409.3,825 441.3,825.5 441.9,840 409.3,840" fill="#66b82a"/><polygon points="409.3,840 441.9,840 429.3,831" fill="#52a216"/><polygon points="459.8,887 512.8,889.6 511.8,910 458.8,908" fill="#66b82a"/><polygon points="458.8,908 511.8,910 495.5,888" fill="#52a216"/><polygon points="476.8,910 531.9,912.5 535.3,927 476.3,925.5" fill="#66b82a"/><polygon points="476.3,925.5 535.3,927 511.5,911" fill="#52a216"/><polygon points="512.6,889.6 539.3,891.6 537,921.5 512.3,910" fill="#84ce40"/><path d="M580.9 658.9L567.1 674.4" stroke="#9be052" stroke-width="2.2" stroke-opacity="0.55"/><path d="M580.9 658.9L575.9 664.5" stroke="#9ea414" stroke-width="2.6" stroke-opacity="0.85"/><path d="M602.9 681.3L588.3 697.6" stroke="#9be052" stroke-width="2.2" stroke-opacity="0.55"/><path d="M602.9 681.3L597.6 687.1" stroke="#9ea414" stroke-width="2.6" stroke-opacity="0.85"/><path d="M649.4 744.2L636.5 758.8" stroke="#9be052" stroke-width="2.2" stroke-opacity="0.55"/><path d="M649.4 744.2L644.8 749.4" stroke="#9ea414" stroke-width="2.6" stroke-opacity="0.85"/><path d="M671.9 766.7L657.3 783" stroke="#9be052" stroke-width="2.2" stroke-opacity="0.55"/><path d="M671.9 766.7L666.7 772.5" stroke="#9ea414" stroke-width="2.6" stroke-opacity="0.85"/><path d="M394.6 820.5L420.4 805.9" stroke="#9be052" stroke-width="2.2" stroke-opacity="0.55"/><path d="M394.6 820.5L403.9 815.2" stroke="#9ea414" stroke-width="2.6" stroke-opacity="0.85"/><path d="M411.3 838.1L433.7 827.8" stroke="#9be052" stroke-width="2.2" stroke-opacity="0.55"/><path d="M411.3 838.1L419.4 834.4" stroke="#9ea414" stroke-width="2.6" stroke-opacity="0.85"/><path d="M462.5 905.6L488.3 893.6" stroke="#9be052" stroke-width="2.2" stroke-opacity="0.55"/><path d="M462.5 905.6L471.8 901.3" stroke="#9ea414" stroke-width="2.6" stroke-opacity="0.85"/><path d="M479.9 923.3L505.7 913" stroke="#9be052" stroke-width="2.2" stroke-opacity="0.55"/><path d="M479.9 923.3L489.2 919.6" stroke="#9ea414" stroke-width="2.6" stroke-opacity="0.85"/><path d="M666.2 813.6L650.7 801.6" stroke="#9be052" stroke-width="2.2" stroke-opacity="0.55"/><path d="M666.2 813.6L660.6 809.3" stroke="#9ea414" stroke-width="2.6" stroke-opacity="0.85"/><path d="M636.8 858.2L624.8 846.2" stroke="#9be052" stroke-width="2.2" stroke-opacity="0.55"/><path d="M636.8 858.2L632.5 853.9" stroke="#9ea414" stroke-width="2.6" stroke-opacity="0.85"/><path d="M533.5 925.3L518 915" stroke="#9be052" stroke-width="2.2" stroke-opacity="0.55"/><path d="M533.5 925.3L527.9 921.6" stroke="#9ea414" stroke-width="2.6" stroke-opacity="0.85"/><path d="M509.5 908.4L497.5 894.6" stroke="#9be052" stroke-width="2.2" stroke-opacity="0.55"/><path d="M509.5 908.4L505.2 903.4" stroke="#9ea414" stroke-width="2.6" stroke-opacity="0.85"/><polygon points="483.3,671.3 536.3,674.2 560.3,691 574.7,722.3 513.1,717.5 453.8,716" fill="#66b82a"/><polygon points="536.3,686 560.3,690 543.3,719.5 531.3,719.5" fill="#84ce40"/><polygon points="560.3,693.6 542.9,719.5 565.3,720.3" fill="#ddd51e"/><polygon points="560.3,693.6 565.3,720.3 583.8,721.2" fill="#cfc51a"/><polygon points="448.6,767.6 508,769.4 471.5,790" fill="#70c424"/><polygon points="471.5,790 508,769.4 523.7,792.8" fill="#52a20a"/><polygon points="508,769.4 569.6,774.8 523.7,792.8" fill="#74c62a"/><polygon points="569.6,774.8 628.9,776.2 592.1,796.6" fill="#76c82c"/><polygon points="628.9,776.2 644.8,799.4 592.1,796.6" fill="#52a20a"/><polygon points="628.9,776.2 647.3,783 644.8,799.4" fill="#52a216"/><polygon points="448.6,767.6 471.5,790 441.9,833.8" fill="#84ce40"/><polygon points="471.5,790 466.3,842 441.9,833.8" fill="#80cc38"/><polygon points="449.3,817 467.8,814.5 467.3,834 449.3,834" fill="#d9d02a"/><polygon points="523.7,792.8 562.4,840.4 501.3,835.4 519.3,840" fill="#82cf38"/><polygon points="529.8,837.5 547.2,816.7 557.8,838" fill="#e0d624"/><polygon points="592.1,796.6 562.4,840.4 586.3,849 621.8,842.3" fill="#88c636"/><polygon points="569.6,774.8 592.1,796.6 562.4,840.4" fill="#90c632"/><circle cx="578.8" cy="712.4" r="4.5" fill="#fff" stroke="#d8131b" stroke-width="3.2"/><circle cx="578.8" cy="712.4" r="6.3" fill="none" stroke="#5a0a0a" stroke-width="0.6"/><text x="578.4" y="716.2" font-size="14" text-anchor="middle" font-family="Liberation Sans, Arial, sans-serif" font-weight="bold" font-style="italic">o</text><polygon points="506.1,637.4 565.8,638.8 536.3,674.2" fill="#74cc1e"/><polygon points="506.1,637.4 500.6,689.6 536.3,674.2" fill="#6dc618"/><polygon points="565.8,638.8 560.3,691 536.3,674.2" fill="#5eb116"/><polygon points="500.6,689.6 560.3,691 536.3,674.2" fill="#4f9d0a"/><path d="M510 641L534.3 663" stroke="#9be052" stroke-width="2.4" stroke-opacity="0.55"/><path d="M510 641L517.9 648.2" stroke="#9ea414" stroke-width="2.8" stroke-opacity="0.85"/><path d="M561.4 642.2L534.3 663" stroke="#9be052" stroke-width="2.4" stroke-opacity="0.55"/><path d="M561.4 642.2L552.6 649" stroke="#9ea414" stroke-width="2.8" stroke-opacity="0.85"/><path d="M556.7 687.1L534.3 663" stroke="#9be052" stroke-width="2.4" stroke-opacity="0.55"/><path d="M556.7 687.1L549.4 679.2" stroke="#9ea414" stroke-width="2.8" stroke-opacity="0.85"/><path d="M536 672.6L534.3 663" stroke="#9be052" stroke-width="2.4" stroke-opacity="0.55"/><path d="M536 672.6L535.5 669.5" stroke="#9ea414" stroke-width="2.8" stroke-opacity="0.85"/><circle cx="534.3" cy="663" r="11.5" fill="#6ab84a" fill-opacity="0.5"/><circle cx="528.3" cy="649.5" r="2" fill="#a4d62e"/><path d="M506.1 637.4L565.8 638.8" stroke="#dcebb8" stroke-width="0.8"/><path d="M565.8 638.8L560.3 691" stroke="#dcebb8" stroke-width="0.8"/><path d="M560.3 691L500.6 689.6" stroke="#dcebb8" stroke-width="0.8"/><path d="M500.6 689.6L506.1 637.4" stroke="#dcebb8" stroke-width="0.8"/><path d="M506.1 637.4L536.3 674.2" stroke="#dcebb8" stroke-width="0.8"/><path d="M565.8 638.8L536.3 674.2" stroke="#dcebb8" stroke-width="0.8"/><path d="M560.3 691L536.3 674.2" stroke="#dcebb8" stroke-width="0.8"/><path d="M500.6 689.6L536.3 674.2" stroke="#dcebb8" stroke-width="0.8"/><polygon points="425.4,670.3 483.3,671.3 455.2,706.7" fill="#74cc1e"/><polygon points="425.4,670.3 419.9,722.5 455.2,706.7" fill="#6dc618"/><polygon points="483.3,671.3 477.8,723.5 455.2,706.7" fill="#5eb116"/><polygon points="419.9,722.5 477.8,723.5 455.2,706.7" fill="#4f9d0a"/><path d="M429.3 674L453.3 697" stroke="#9be052" stroke-width="2.4" stroke-opacity="0.55"/><path d="M429.3 674L437.1 681.5" stroke="#9ea414" stroke-width="2.8" stroke-opacity="0.85"/><path d="M479.1 674.9L453.3 697" stroke="#9be052" stroke-width="2.4" stroke-opacity="0.55"/><path d="M479.1 674.9L470.7 682.1" stroke="#9ea414" stroke-width="2.8" stroke-opacity="0.85"/><path d="M454.9 705.3L453.3 697" stroke="#9be052" stroke-width="2.4" stroke-opacity="0.55"/><path d="M454.9 705.3L454.4 702.6" stroke="#9ea414" stroke-width="2.8" stroke-opacity="0.85"/><circle cx="453.3" cy="697" r="11.5" fill="#6ab84a" fill-opacity="0.5"/><circle cx="447.3" cy="683.5" r="2" fill="#a4d62e"/><path d="M425.4 670.3L483.3 671.3" stroke="#dcebb8" stroke-width="0.8"/><path d="M483.3 671.3L477.8 723.5" stroke="#dcebb8" stroke-width="0.8"/><path d="M477.8 723.5L419.9 722.5" stroke="#dcebb8" stroke-width="0.8"/><path d="M419.9 722.5L425.4 670.3" stroke="#dcebb8" stroke-width="0.8"/><path d="M425.4 670.3L455.2 706.7" stroke="#dcebb8" stroke-width="0.8"/><path d="M483.3 671.3L455.2 706.7" stroke="#dcebb8" stroke-width="0.8"/><path d="M477.8 723.5L455.2 706.7" stroke="#dcebb8" stroke-width="0.8"/><path d="M419.9 722.5L455.2 706.7" stroke="#dcebb8" stroke-width="0.8"/><polygon points="483.3,671.3 536.3,674.2 513.1,717.5" fill="#74cc1e"/><polygon points="483.3,671.3 477.8,723.5 513.1,717.5" fill="#6dc618"/><polygon points="536.3,674.2 530.8,726 513.1,717.5" fill="#5eb116"/><polygon points="477.8,723.5 530.8,726 513.1,717.5" fill="#4f9d0a"/><path d="M486.9 675.7L508.8 702.5" stroke="#9be052" stroke-width="2.4" stroke-opacity="0.55"/><path d="M486.9 675.7L494 684.4" stroke="#9ea414" stroke-width="2.8" stroke-opacity="0.85"/><path d="M532.5 678.2L508.8 702.5" stroke="#9be052" stroke-width="2.4" stroke-opacity="0.55"/><path d="M532.5 678.2L524.8 686.1" stroke="#9ea414" stroke-width="2.8" stroke-opacity="0.85"/><path d="M512.5 715.4L508.8 702.5" stroke="#9be052" stroke-width="2.4" stroke-opacity="0.55"/><path d="M512.5 715.4L511.3 711.2" stroke="#9ea414" stroke-width="2.8" stroke-opacity="0.85"/><circle cx="508.8" cy="702.5" r="11.5" fill="#6ab84a" fill-opacity="0.5"/><circle cx="502.8" cy="689" r="2" fill="#a4d62e"/><path d="M483.3 671.3L536.3 674.2" stroke="#dcebb8" stroke-width="0.8"/><path d="M536.3 674.2L530.8 726" stroke="#dcebb8" stroke-width="0.8"/><path d="M530.8 726L477.8 723.5" stroke="#dcebb8" stroke-width="0.8"/><path d="M477.8 723.5L483.3 671.3" stroke="#dcebb8" stroke-width="0.8"/><path d="M483.3 671.3L513.1 717.5" stroke="#dcebb8" stroke-width="0.8"/><path d="M536.3 674.2L513.1 717.5" stroke="#dcebb8" stroke-width="0.8"/><path d="M530.8 726L513.1 717.5" stroke="#dcebb8" stroke-width="0.8"/><path d="M477.8 723.5L513.1 717.5" stroke="#dcebb8" stroke-width="0.8"/><polygon points="459.3,705 480.3,697.5 480.3,716.5 459.3,714" fill="#6a25d2"/><path d="M459.3 709.5L480.3 707" stroke="#e0a030" stroke-width="2" stroke-opacity="0.6"/><polygon points="402.8,704.4 455.2,706.7 432.8,750.4" fill="#74cc1e"/><polygon points="402.8,704.4 396.8,765 432.8,750.4" fill="#6dc618"/><polygon points="455.2,706.7 448.6,767.6 432.8,750.4" fill="#58a912"/><polygon points="396.8,765 448.6,767.6 432.8,750.4" fill="#4f9d0a"/><path d="M406.1 708.6L426.3 734.5" stroke="#9be052" stroke-width="2.4" stroke-opacity="0.55"/><path d="M406.1 708.6L412.7 717" stroke="#9ea414" stroke-width="2.8" stroke-opacity="0.85"/><path d="M451.2 710.6L426.3 734.5" stroke="#9be052" stroke-width="2.4" stroke-opacity="0.55"/><path d="M451.2 710.6L443.1 718.4" stroke="#9ea414" stroke-width="2.8" stroke-opacity="0.85"/><path d="M445.5 763L426.3 734.5" stroke="#9be052" stroke-width="2.4" stroke-opacity="0.55"/><path d="M445.5 763L439.2 753.7" stroke="#9ea414" stroke-width="2.8" stroke-opacity="0.85"/><path d="M431.9 748.2L426.3 734.5" stroke="#9be052" stroke-width="2.4" stroke-opacity="0.55"/><path d="M431.9 748.2L430.1 743.7" stroke="#9ea414" stroke-width="2.8" stroke-opacity="0.85"/><circle cx="426.3" cy="734.5" r="11.5" fill="#6ab84a" fill-opacity="0.5"/><circle cx="420.3" cy="721" r="2" fill="#a4d62e"/><path d="M402.8 704.4L455.2 706.7" stroke="#dcebb8" stroke-width="0.8"/><path d="M455.2 706.7L448.6 767.6" stroke="#dcebb8" stroke-width="0.8"/><path d="M448.6 767.6L396.8 765" stroke="#dcebb8" stroke-width="0.8"/><path d="M396.8 765L402.8 704.4" stroke="#dcebb8" stroke-width="0.8"/><path d="M402.8 704.4L432.8 750.4" stroke="#dcebb8" stroke-width="0.8"/><path d="M455.2 706.7L432.8 750.4" stroke="#dcebb8" stroke-width="0.8"/><path d="M448.6 767.6L432.8 750.4" stroke="#dcebb8" stroke-width="0.8"/><path d="M396.8 765L432.8 750.4" stroke="#dcebb8" stroke-width="0.8"/><polygon points="453.8,716 513.1,717.5 483.9,753.3" fill="#74cc1e"/><polygon points="453.8,716 448.6,767.6 483.9,753.3" fill="#6dc618"/><polygon points="513.1,717.5 508,769.4 483.9,753.3" fill="#52a20a"/><polygon points="448.6,767.6 508,769.4 483.9,753.3" fill="#4f9d0a"/><path d="M457.6 719.7L481.3 742.3" stroke="#9be052" stroke-width="2.4" stroke-opacity="0.55"/><path d="M457.6 719.7L465.4 727" stroke="#9ea414" stroke-width="2.8" stroke-opacity="0.85"/><path d="M508.6 721L481.3 742.3" stroke="#9be052" stroke-width="2.4" stroke-opacity="0.55"/><path d="M508.6 721L499.7 727.9" stroke="#9ea414" stroke-width="2.8" stroke-opacity="0.85"/><path d="M504.3 765.6L481.3 742.3" stroke="#9be052" stroke-width="2.4" stroke-opacity="0.55"/><path d="M504.3 765.6L496.8 758" stroke="#9ea414" stroke-width="2.8" stroke-opacity="0.85"/><path d="M453.2 764.1L481.3 742.3" stroke="#9be052" stroke-width="2.4" stroke-opacity="0.55"/><path d="M453.2 764.1L462.3 757" stroke="#9ea414" stroke-width="2.8" stroke-opacity="0.85"/><path d="M483.5 751.8L481.3 742.3" stroke="#9be052" stroke-width="2.4" stroke-opacity="0.55"/><path d="M483.5 751.8L482.8 748.7" stroke="#9ea414" stroke-width="2.8" stroke-opacity="0.85"/><circle cx="481.3" cy="742.3" r="11.5" fill="#6ab84a" fill-opacity="0.5"/><circle cx="475.3" cy="728.8" r="2" fill="#a4d62e"/><path d="M453.8 716L513.1 717.5" stroke="#dcebb8" stroke-width="0.8"/><path d="M513.1 717.5L508 769.4" stroke="#dcebb8" stroke-width="0.8"/><path d="M508 769.4L448.6 767.6" stroke="#dcebb8" stroke-width="0.8"/><path d="M448.6 767.6L453.8 716" stroke="#dcebb8" stroke-width="0.8"/><path d="M453.8 716L483.9 753.3" stroke="#dcebb8" stroke-width="0.8"/><path d="M513.1 717.5L483.9 753.3" stroke="#dcebb8" stroke-width="0.8"/><path d="M508 769.4L483.9 753.3" stroke="#dcebb8" stroke-width="0.8"/><path d="M448.6 767.6L483.9 753.3" stroke="#dcebb8" stroke-width="0.8"/><polygon points="513.1,717.5 574.7,722.3 552,757" fill="#74cc1e"/><polygon points="513.1,717.5 508,769.4 552,757" fill="#6dc618"/><polygon points="574.7,722.3 569.6,774.8 552,757" fill="#52a20a"/><polygon points="508,769.4 569.6,774.8 552,757" fill="#4f9d0a"/><path d="M517 721.4L541.3 745.6" stroke="#9be052" stroke-width="2.4" stroke-opacity="0.55"/><path d="M517 721.4L524.9 729.3" stroke="#9ea414" stroke-width="2.8" stroke-opacity="0.85"/><path d="M570 725.6L541.3 745.6" stroke="#9be052" stroke-width="2.4" stroke-opacity="0.55"/><path d="M570 725.6L560.7 732.1" stroke="#9ea414" stroke-width="2.8" stroke-opacity="0.85"/><path d="M565.6 770.7L541.3 745.6" stroke="#9be052" stroke-width="2.4" stroke-opacity="0.55"/><path d="M565.6 770.7L557.7 762.5" stroke="#9ea414" stroke-width="2.8" stroke-opacity="0.85"/><path d="M512.7 766.1L541.3 745.6" stroke="#9be052" stroke-width="2.4" stroke-opacity="0.55"/><path d="M512.7 766.1L522 759.4" stroke="#9ea414" stroke-width="2.8" stroke-opacity="0.85"/><path d="M550.5 755.4L541.3 745.6" stroke="#9be052" stroke-width="2.4" stroke-opacity="0.55"/><path d="M550.5 755.4L547.5 752.2" stroke="#9ea414" stroke-width="2.8" stroke-opacity="0.85"/><circle cx="541.3" cy="745.6" r="11.5" fill="#6ab84a" fill-opacity="0.5"/><circle cx="535.3" cy="732.1" r="2" fill="#a4d62e"/><path d="M513.1 717.5L574.7 722.3" stroke="#dcebb8" stroke-width="0.8"/><path d="M574.7 722.3L569.6 774.8" stroke="#dcebb8" stroke-width="0.8"/><path d="M569.6 774.8L508 769.4" stroke="#dcebb8" stroke-width="0.8"/><path d="M508 769.4L513.1 717.5" stroke="#dcebb8" stroke-width="0.8"/><path d="M513.1 717.5L552 757" stroke="#dcebb8" stroke-width="0.8"/><path d="M574.7 722.3L552 757" stroke="#dcebb8" stroke-width="0.8"/><path d="M569.6 774.8L552 757" stroke="#dcebb8" stroke-width="0.8"/><path d="M508 769.4L552 757" stroke="#dcebb8" stroke-width="0.8"/><polygon points="574.7,722.3 634.1,724.4 604.2,760.3" fill="#74cc1e"/><polygon points="574.7,722.3 569.6,774.8 604.2,760.3" fill="#6dc618"/><polygon points="634.1,724.4 628.9,776.2 604.2,760.3" fill="#52a20a"/><polygon points="569.6,774.8 628.9,776.2 604.2,760.3" fill="#4f9d0a"/><path d="M578.4 726.2L601.3 750" stroke="#9be052" stroke-width="2.4" stroke-opacity="0.55"/><path d="M578.4 726.2L585.9 733.9" stroke="#9ea414" stroke-width="2.8" stroke-opacity="0.85"/><path d="M629.5 728L601.3 750" stroke="#9be052" stroke-width="2.4" stroke-opacity="0.55"/><path d="M629.5 728L620.3 735.2" stroke="#9ea414" stroke-width="2.8" stroke-opacity="0.85"/><path d="M625 772.5L601.3 750" stroke="#9be052" stroke-width="2.4" stroke-opacity="0.55"/><path d="M625 772.5L617.3 765.2" stroke="#9ea414" stroke-width="2.8" stroke-opacity="0.85"/><path d="M574 771.3L601.3 750" stroke="#9be052" stroke-width="2.4" stroke-opacity="0.55"/><path d="M574 771.3L582.9 764.4" stroke="#9ea414" stroke-width="2.8" stroke-opacity="0.85"/><path d="M603.8 758.9L601.3 750" stroke="#9be052" stroke-width="2.4" stroke-opacity="0.55"/><path d="M603.8 758.9L603 756" stroke="#9ea414" stroke-width="2.8" stroke-opacity="0.85"/><circle cx="601.3" cy="750" r="11.5" fill="#6ab84a" fill-opacity="0.5"/><circle cx="595.3" cy="736.5" r="2" fill="#a4d62e"/><path d="M574.7 722.3L634.1 724.4" stroke="#dcebb8" stroke-width="0.8"/><path d="M634.1 724.4L628.9 776.2" stroke="#dcebb8" stroke-width="0.8"/><path d="M628.9 776.2L569.6 774.8" stroke="#dcebb8" stroke-width="0.8"/><path d="M569.6 774.8L574.7 722.3" stroke="#dcebb8" stroke-width="0.8"/><path d="M574.7 722.3L604.2 760.3" stroke="#dcebb8" stroke-width="0.8"/><path d="M634.1 724.4L604.2 760.3" stroke="#dcebb8" stroke-width="0.8"/><path d="M628.9 776.2L604.2 760.3" stroke="#dcebb8" stroke-width="0.8"/><path d="M569.6 774.8L604.2 760.3" stroke="#dcebb8" stroke-width="0.8"/><polygon points="432.8,750.4 448.6,767.6 402.5,786.1" fill="#58a912"/><polygon points="373.2,749.1 432.8,750.4 402.5,786.1" fill="#74cc1e"/><polygon points="373.2,749.1 368,800.4 402.5,786.1" fill="#6dc618"/><polygon points="432.8,750.4 426.3,801 402.5,786.1" fill="#52a20a"/><polygon points="368,800.4 426.3,801 402.5,786.1" fill="#4f9d0a"/><path d="M377 752.7L400.3 775" stroke="#9be052" stroke-width="2.4" stroke-opacity="0.55"/><path d="M377 752.7L384.6 760" stroke="#9ea414" stroke-width="2.8" stroke-opacity="0.85"/><path d="M428.2 753.8L400.3 775" stroke="#9be052" stroke-width="2.4" stroke-opacity="0.55"/><path d="M428.2 753.8L419.2 760.7" stroke="#9ea414" stroke-width="2.8" stroke-opacity="0.85"/><path d="M372.5 796.8L400.3 775" stroke="#9be052" stroke-width="2.4" stroke-opacity="0.55"/><path d="M372.5 796.8L381.6 789.7" stroke="#9ea414" stroke-width="2.8" stroke-opacity="0.85"/><path d="M402.2 784.5L400.3 775" stroke="#9be052" stroke-width="2.4" stroke-opacity="0.55"/><path d="M402.2 784.5L401.6 781.4" stroke="#9ea414" stroke-width="2.8" stroke-opacity="0.85"/><circle cx="400.3" cy="775" r="11.5" fill="#6ab84a" fill-opacity="0.5"/><circle cx="394.3" cy="761.5" r="2" fill="#a4d62e"/><path d="M373.2 749.1L432.8 750.4" stroke="#dcebb8" stroke-width="0.8"/><path d="M432.8 750.4L426.3 801" stroke="#dcebb8" stroke-width="0.8"/><path d="M426.3 801L368 800.4" stroke="#dcebb8" stroke-width="0.8"/><path d="M368 800.4L373.2 749.1" stroke="#dcebb8" stroke-width="0.8"/><path d="M373.2 749.1L402.5 786.1" stroke="#dcebb8" stroke-width="0.8"/><path d="M432.8 750.4L402.5 786.1" stroke="#dcebb8" stroke-width="0.8"/><path d="M426.3 801L402.5 786.1" stroke="#dcebb8" stroke-width="0.8"/><path d="M368 800.4L402.5 786.1" stroke="#dcebb8" stroke-width="0.8"/><polygon points="471.5,790 523.7,792.8 501.3,835.4" fill="#74cc1e"/><polygon points="471.5,790 466.3,842 501.3,835.4" fill="#6dc618"/><polygon points="523.7,792.8 518.3,845 501.3,835.4" fill="#52a20a"/><polygon points="466.3,842 518.3,845 501.3,835.4" fill="#4f9d0a"/><path d="M474.8 794.3L494.8 820.5" stroke="#9be052" stroke-width="2.4" stroke-opacity="0.55"/><path d="M474.8 794.3L481.3 802.8" stroke="#9ea414" stroke-width="2.8" stroke-opacity="0.85"/><path d="M519.7 796.7L494.8 820.5" stroke="#9be052" stroke-width="2.4" stroke-opacity="0.55"/><path d="M519.7 796.7L511.6 804.4" stroke="#9ea414" stroke-width="2.8" stroke-opacity="0.85"/><path d="M500.4 833.3L494.8 820.5" stroke="#9be052" stroke-width="2.4" stroke-opacity="0.55"/><path d="M500.4 833.3L498.6 829.1" stroke="#9ea414" stroke-width="2.8" stroke-opacity="0.85"/><circle cx="494.8" cy="820.5" r="11.5" fill="#6ab84a" fill-opacity="0.5"/><circle cx="488.8" cy="807" r="2" fill="#a4d62e"/><path d="M471.5 790L523.7 792.8" stroke="#dcebb8" stroke-width="0.8"/><path d="M523.7 792.8L518.3 845" stroke="#dcebb8" stroke-width="0.8"/><path d="M518.3 845L466.3 842" stroke="#dcebb8" stroke-width="0.8"/><path d="M466.3 842L471.5 790" stroke="#dcebb8" stroke-width="0.8"/><path d="M471.5 790L501.3 835.4" stroke="#dcebb8" stroke-width="0.8"/><path d="M523.7 792.8L501.3 835.4" stroke="#dcebb8" stroke-width="0.8"/><path d="M518.3 845L501.3 835.4" stroke="#dcebb8" stroke-width="0.8"/><path d="M466.3 842L501.3 835.4" stroke="#dcebb8" stroke-width="0.8"/><polygon points="592.1,796.6 644.8,799.4 621.8,842.3" fill="#74cc1e"/><polygon points="592.1,796.6 586.3,849 621.8,842.3" fill="#6dc618"/><polygon points="644.8,799.4 639.3,852 621.8,842.3" fill="#52a20a"/><polygon points="586.3,849 639.3,852 621.8,842.3" fill="#4f9d0a"/><path d="M595.4 800.8L615.8 826.5" stroke="#9be052" stroke-width="2.4" stroke-opacity="0.55"/><path d="M595.4 800.8L602.1 809.2" stroke="#9ea414" stroke-width="2.8" stroke-opacity="0.85"/><path d="M640.7 803.2L615.8 826.5" stroke="#9be052" stroke-width="2.4" stroke-opacity="0.55"/><path d="M640.7 803.2L632.6 810.8" stroke="#9ea414" stroke-width="2.8" stroke-opacity="0.85"/><path d="M621 840.1L615.8 826.5" stroke="#9be052" stroke-width="2.4" stroke-opacity="0.55"/><path d="M621 840.1L619.3 835.7" stroke="#9ea414" stroke-width="2.8" stroke-opacity="0.85"/><circle cx="615.8" cy="826.5" r="11.5" fill="#6ab84a" fill-opacity="0.5"/><circle cx="609.8" cy="813" r="2" fill="#a4d62e"/><path d="M592.1 796.6L644.8 799.4" stroke="#dcebb8" stroke-width="0.8"/><path d="M644.8 799.4L639.3 852" stroke="#dcebb8" stroke-width="0.8"/><path d="M639.3 852L586.3 849" stroke="#dcebb8" stroke-width="0.8"/><path d="M586.3 849L592.1 796.6" stroke="#dcebb8" stroke-width="0.8"/><path d="M592.1 796.6L621.8 842.3" stroke="#dcebb8" stroke-width="0.8"/><path d="M644.8 799.4L621.8 842.3" stroke="#dcebb8" stroke-width="0.8"/><path d="M639.3 852L621.8 842.3" stroke="#dcebb8" stroke-width="0.8"/><path d="M586.3 849L621.8 842.3" stroke="#dcebb8" stroke-width="0.8"/><g opacity="0.8"><circle cx="644.8" cy="799.4" r="4.5" fill="#fff" stroke="#d8131b" stroke-width="3.2"/><circle cx="644.8" cy="799.4" r="6.3" fill="none" stroke="#5a0a0a" stroke-width="0.6"/><text x="644.4" y="803.2" font-size="14" text-anchor="middle" font-family="Liberation Sans, Arial, sans-serif" font-weight="bold" font-style="italic">o</text></g><polygon points="448.6,767.6 402.5,786.1 441.9,833.8" fill="#ddd51e" fill-opacity="0.93"/><polygon points="448.6,767.6 471.5,790 441.9,833.8" fill="#a9a713" fill-opacity="0.93"/><circle cx="441.3" cy="794.5" r="11" fill="#8a8a10" fill-opacity="0.45"/><path d="M448.6 767.6L402.5 786.1" stroke="#e9e6a0" stroke-width="0.8"/><path d="M402.5 786.1L441.9 833.8" stroke="#e9e6a0" stroke-width="0.8"/><path d="M448.6 767.6L441.9 833.8" stroke="#e9e6a0" stroke-width="0.8"/><path d="M448.6 767.6L471.5 790" stroke="#e9e6a0" stroke-width="0.8"/><path d="M471.5 790L441.9 833.8" stroke="#e9e6a0" stroke-width="0.8"/><polygon points="523.7,792.8 569.6,774.8 592.1,796.6 562.4,840.4" fill="#74c82a"/><polygon points="529.8,837.5 547.2,816.7 557.8,838" fill="#e0d624"/><polygon points="570.8,813.5 588.3,811.5 588.3,840.5 571.8,840.5" fill="#a2ea4e"/><polygon points="568.8,776.5 528.8,792.5 562.6,835" fill="#6a25d2"/><polygon points="568.8,776.5 588.3,796 562.6,835" fill="#4f1fa6"/><ellipse cx="552.6" cy="800.5" rx="6.5" ry="8.5" fill="#3c9db6"/><ellipse cx="573.8" cy="802" rx="4.5" ry="8" fill="#3a8fa6"/><path d="M568.8 776.5L562.6 835" stroke="#b9a0e8" stroke-width="0.8"/><polygon points="449.3,817 467.8,814.5 467.3,834 449.3,834" fill="#6a25d2"/><polygon points="441.9,833.8 501.3,835.4 471.6,871.2" fill="#74cc1e"/><polygon points="441.9,833.8 436.3,885.5 471.6,871.2" fill="#6dc618"/><polygon points="501.3,835.4 495.5,887.6 471.6,871.2" fill="#52a20a"/><polygon points="436.3,885.5 495.5,887.6 471.6,871.2" fill="#4f9d0a"/><path d="M445.7 837.5L469.3 860.5" stroke="#9be052" stroke-width="2.4" stroke-opacity="0.55"/><path d="M445.7 837.5L453.4 845" stroke="#9ea414" stroke-width="2.8" stroke-opacity="0.85"/><path d="M496.8 838.9L469.3 860.5" stroke="#9be052" stroke-width="2.4" stroke-opacity="0.55"/><path d="M496.8 838.9L487.9 845.9" stroke="#9ea414" stroke-width="2.8" stroke-opacity="0.85"/><path d="M491.8 883.8L469.3 860.5" stroke="#9be052" stroke-width="2.4" stroke-opacity="0.55"/><path d="M491.8 883.8L484.5 876.2" stroke="#9ea414" stroke-width="2.8" stroke-opacity="0.85"/><path d="M440.9 882L469.3 860.5" stroke="#9be052" stroke-width="2.4" stroke-opacity="0.55"/><path d="M440.9 882L450.2 875" stroke="#9ea414" stroke-width="2.8" stroke-opacity="0.85"/><path d="M471.3 869.7L469.3 860.5" stroke="#9be052" stroke-width="2.4" stroke-opacity="0.55"/><path d="M471.3 869.7L470.6 866.7" stroke="#9ea414" stroke-width="2.8" stroke-opacity="0.85"/><circle cx="469.3" cy="860.5" r="11.5" fill="#6ab84a" fill-opacity="0.5"/><circle cx="463.3" cy="847" r="2" fill="#a4d62e"/><path d="M441.9 833.8L501.3 835.4" stroke="#dcebb8" stroke-width="0.8"/><path d="M501.3 835.4L495.5 887.6" stroke="#dcebb8" stroke-width="0.8"/><path d="M495.5 887.6L436.3 885.5" stroke="#dcebb8" stroke-width="0.8"/><path d="M436.3 885.5L441.9 833.8" stroke="#dcebb8" stroke-width="0.8"/><path d="M441.9 833.8L471.6 871.2" stroke="#dcebb8" stroke-width="0.8"/><path d="M501.3 835.4L471.6 871.2" stroke="#dcebb8" stroke-width="0.8"/><path d="M495.5 887.6L471.6 871.2" stroke="#dcebb8" stroke-width="0.8"/><path d="M436.3 885.5L471.6 871.2" stroke="#dcebb8" stroke-width="0.8"/><polygon points="501.3,835.4 562.4,840.4 539.4,874.9" fill="#74cc1e"/><polygon points="501.3,835.4 495.5,887.6 539.4,874.9" fill="#6dc618"/><polygon points="562.4,840.4 557.1,892.7 539.4,874.9" fill="#52a20a"/><polygon points="495.5,887.6 557.1,892.7 539.4,874.9" fill="#4f9d0a"/><path d="M505.2 839.3L529.3 863.5" stroke="#9be052" stroke-width="2.4" stroke-opacity="0.55"/><path d="M505.2 839.3L513.1 847.2" stroke="#9ea414" stroke-width="2.8" stroke-opacity="0.85"/><path d="M557.8 843.6L529.3 863.5" stroke="#9be052" stroke-width="2.4" stroke-opacity="0.55"/><path d="M557.8 843.6L548.5 850.1" stroke="#9ea414" stroke-width="2.8" stroke-opacity="0.85"/><path d="M553.2 888.6L529.3 863.5" stroke="#9be052" stroke-width="2.4" stroke-opacity="0.55"/><path d="M553.2 888.6L545.4 880.4" stroke="#9ea414" stroke-width="2.8" stroke-opacity="0.85"/><path d="M500.2 884.2L529.3 863.5" stroke="#9be052" stroke-width="2.4" stroke-opacity="0.55"/><path d="M500.2 884.2L509.7 877.5" stroke="#9ea414" stroke-width="2.8" stroke-opacity="0.85"/><path d="M538 873.3L529.3 863.5" stroke="#9be052" stroke-width="2.4" stroke-opacity="0.55"/><path d="M538 873.3L535.2 870.1" stroke="#9ea414" stroke-width="2.8" stroke-opacity="0.85"/><circle cx="529.3" cy="863.5" r="11.5" fill="#6ab84a" fill-opacity="0.5"/><circle cx="523.3" cy="850" r="2" fill="#a4d62e"/><path d="M501.3 835.4L562.4 840.4" stroke="#dcebb8" stroke-width="0.8"/><path d="M562.4 840.4L557.1 892.7" stroke="#dcebb8" stroke-width="0.8"/><path d="M557.1 892.7L495.5 887.6" stroke="#dcebb8" stroke-width="0.8"/><path d="M495.5 887.6L501.3 835.4" stroke="#dcebb8" stroke-width="0.8"/><path d="M501.3 835.4L539.4 874.9" stroke="#dcebb8" stroke-width="0.8"/><path d="M562.4 840.4L539.4 874.9" stroke="#dcebb8" stroke-width="0.8"/><path d="M557.1 892.7L539.4 874.9" stroke="#dcebb8" stroke-width="0.8"/><path d="M495.5 887.6L539.4 874.9" stroke="#dcebb8" stroke-width="0.8"/><polygon points="562.4,840.4 621.8,842.3 592.2,877.4" fill="#74cc1e"/><polygon points="562.4,840.4 557.1,892.7 592.2,877.4" fill="#6dc618"/><polygon points="621.8,842.3 616.4,894.3 592.2,877.4" fill="#52a20a"/><polygon points="557.1,892.7 616.4,894.3 592.2,877.4" fill="#4f9d0a"/><path d="M566.2 844.1L589.8 866.5" stroke="#9be052" stroke-width="2.4" stroke-opacity="0.55"/><path d="M566.2 844.1L573.9 851.4" stroke="#9ea414" stroke-width="2.8" stroke-opacity="0.85"/><path d="M617.3 845.7L589.8 866.5" stroke="#9be052" stroke-width="2.4" stroke-opacity="0.55"/><path d="M617.3 845.7L608.4 852.5" stroke="#9ea414" stroke-width="2.8" stroke-opacity="0.85"/><path d="M612.7 890.4L589.8 866.5" stroke="#9be052" stroke-width="2.4" stroke-opacity="0.55"/><path d="M612.7 890.4L605.2 882.6" stroke="#9ea414" stroke-width="2.8" stroke-opacity="0.85"/><path d="M561.7 889L589.8 866.5" stroke="#9be052" stroke-width="2.4" stroke-opacity="0.55"/><path d="M561.7 889L570.8 881.7" stroke="#9ea414" stroke-width="2.8" stroke-opacity="0.85"/><path d="M591.9 875.9L589.8 866.5" stroke="#9be052" stroke-width="2.4" stroke-opacity="0.55"/><path d="M591.9 875.9L591.2 872.8" stroke="#9ea414" stroke-width="2.8" stroke-opacity="0.85"/><circle cx="589.8" cy="866.5" r="11.5" fill="#6ab84a" fill-opacity="0.5"/><circle cx="583.8" cy="853" r="2" fill="#a4d62e"/><path d="M562.4 840.4L621.8 842.3" stroke="#dcebb8" stroke-width="0.8"/><path d="M621.8 842.3L616.4 894.3" stroke="#dcebb8" stroke-width="0.8"/><path d="M616.4 894.3L557.1 892.7" stroke="#dcebb8" stroke-width="0.8"/><path d="M557.1 892.7L562.4 840.4" stroke="#dcebb8" stroke-width="0.8"/><path d="M562.4 840.4L592.2 877.4" stroke="#dcebb8" stroke-width="0.8"/><path d="M621.8 842.3L592.2 877.4" stroke="#dcebb8" stroke-width="0.8"/><path d="M616.4 894.3L592.2 877.4" stroke="#dcebb8" stroke-width="0.8"/><path d="M557.1 892.7L592.2 877.4" stroke="#dcebb8" stroke-width="0.8"/><path d="M504 653.7L488.7 666" stroke="#111" stroke-width="1.1"/><path d="M536.3 674.2L574.7 722.3" stroke="#111" stroke-width="1.1"/><path d="M513.1 717.5L545.9 688.5" stroke="#111" stroke-width="1.1"/><path d="M402.5 786.1L441.9 833.8" stroke="#111" stroke-width="1.1"/><path d="M448.6 767.6L415.5 797.3" stroke="#111" stroke-width="1.1"/><path d="M628.9 776.2L655.5 811" stroke="#111" stroke-width="1.1"/><path d="M655.5 811L621.8 842.3" stroke="#111" stroke-width="1.1"/><path d="M495.5 887.6L522.7 922.3" stroke="#111" stroke-width="1.1"/><path d="M522.7 922.3L557.1 892.7" stroke="#111" stroke-width="1.1"/><path d="M390.3 747.5L399.3 741" stroke="#111" stroke-width="1.1"/><path d="M621.8 842.3L639.3 825" stroke="#111" stroke-width="1.1"/><circle cx="506.1" cy="637.4" r="4.5" fill="#fff" stroke="#d8131b" stroke-width="3.2"/><circle cx="506.1" cy="637.4" r="6.3" fill="none" stroke="#5a0a0a" stroke-width="0.6"/><text x="505.7" y="641.2" font-size="14" text-anchor="middle" font-family="Liberation Sans, Arial, sans-serif" font-weight="bold" font-style="italic">o</text><circle cx="565.8" cy="638.8" r="4.5" fill="#fff" stroke="#d8131b" stroke-width="3.2"/><circle cx="565.8" cy="638.8" r="6.3" fill="none" stroke="#5a0a0a" stroke-width="0.6"/><text x="565.4" y="642.6" font-size="14" text-anchor="middle" font-family="Liberation Sans, Arial, sans-serif" font-weight="bold" font-style="italic">o</text><circle cx="583.1" cy="656.4" r="4.5" fill="#fff" stroke="#d8131b" stroke-width="3.2"/><circle cx="583.1" cy="656.4" r="6.3" fill="none" stroke="#5a0a0a" stroke-width="0.6"/><text x="582.7" y="660.2" font-size="14" text-anchor="middle" font-family="Liberation Sans, Arial, sans-serif" font-weight="bold" font-style="italic">o</text><circle cx="425.4" cy="670.3" r="4.5" fill="#fff" stroke="#d8131b" stroke-width="3.2"/><circle cx="425.4" cy="670.3" r="6.3" fill="none" stroke="#5a0a0a" stroke-width="0.6"/><text x="425" y="674.1" font-size="14" text-anchor="middle" font-family="Liberation Sans, Arial, sans-serif" font-weight="bold" font-style="italic">o</text><circle cx="483.3" cy="671.3" r="4.5" fill="#fff" stroke="#d8131b" stroke-width="3.2"/><circle cx="483.3" cy="671.3" r="6.3" fill="none" stroke="#5a0a0a" stroke-width="0.6"/><text x="482.9" y="675.1" font-size="14" text-anchor="middle" font-family="Liberation Sans, Arial, sans-serif" font-weight="bold" font-style="italic">o</text><circle cx="536.3" cy="674.2" r="4.5" fill="#fff" stroke="#d8131b" stroke-width="3.2"/><circle cx="536.3" cy="674.2" r="6.3" fill="none" stroke="#5a0a0a" stroke-width="0.6"/><text x="535.9" y="678" font-size="14" text-anchor="middle" font-family="Liberation Sans, Arial, sans-serif" font-weight="bold" font-style="italic">o</text><circle cx="605.3" cy="678.6" r="4.5" fill="#fff" stroke="#d8131b" stroke-width="3.2"/><circle cx="605.3" cy="678.6" r="6.3" fill="none" stroke="#5a0a0a" stroke-width="0.6"/><text x="604.9" y="682.4" font-size="14" text-anchor="middle" font-family="Liberation Sans, Arial, sans-serif" font-weight="bold" font-style="italic">o</text><circle cx="560.3" cy="691" r="4.5" fill="#fff" stroke="#d8131b" stroke-width="3.2"/><circle cx="560.3" cy="691" r="6.3" fill="none" stroke="#5a0a0a" stroke-width="0.6"/><text x="559.9" y="694.8" font-size="14" text-anchor="middle" font-family="Liberation Sans, Arial, sans-serif" font-weight="bold" font-style="italic">o</text><circle cx="402.8" cy="704.4" r="4.5" fill="#fff" stroke="#d8131b" stroke-width="3.2"/><circle cx="402.8" cy="704.4" r="6.3" fill="none" stroke="#5a0a0a" stroke-width="0.6"/><text x="402.4" y="708.2" font-size="14" text-anchor="middle" font-family="Liberation Sans, Arial, sans-serif" font-weight="bold" font-style="italic">o</text><circle cx="455.2" cy="706.7" r="4.5" fill="#fff" stroke="#d8131b" stroke-width="3.2"/><circle cx="455.2" cy="706.7" r="6.3" fill="none" stroke="#5a0a0a" stroke-width="0.6"/><text x="454.8" y="710.5" font-size="14" text-anchor="middle" font-family="Liberation Sans, Arial, sans-serif" font-weight="bold" font-style="italic">o</text><circle cx="453.8" cy="716" r="4.5" fill="#fff" stroke="#d8131b" stroke-width="3.2"/><circle cx="453.8" cy="716" r="6.3" fill="none" stroke="#5a0a0a" stroke-width="0.6"/><text x="453.4" y="719.8" font-size="14" text-anchor="middle" font-family="Liberation Sans, Arial, sans-serif" font-weight="bold" font-style="italic">o</text><circle cx="513.1" cy="717.5" r="4.5" fill="#fff" stroke="#d8131b" stroke-width="3.2"/><circle cx="513.1" cy="717.5" r="6.3" fill="none" stroke="#5a0a0a" stroke-width="0.6"/><text x="512.7" y="721.3" font-size="14" text-anchor="middle" font-family="Liberation Sans, Arial, sans-serif" font-weight="bold" font-style="italic">o</text><circle cx="574.7" cy="722.3" r="4.5" fill="#fff" stroke="#d8131b" stroke-width="3.2"/><circle cx="574.7" cy="722.3" r="6.3" fill="none" stroke="#5a0a0a" stroke-width="0.6"/><text x="574.3" y="726.1" font-size="14" text-anchor="middle" font-family="Liberation Sans, Arial, sans-serif" font-weight="bold" font-style="italic">o</text><circle cx="634.1" cy="724.4" r="4.5" fill="#fff" stroke="#d8131b" stroke-width="3.2"/><circle cx="634.1" cy="724.4" r="6.3" fill="none" stroke="#5a0a0a" stroke-width="0.6"/><text x="633.7" y="728.2" font-size="14" text-anchor="middle" font-family="Liberation Sans, Arial, sans-serif" font-weight="bold" font-style="italic">o</text><circle cx="651.5" cy="741.8" r="4.5" fill="#fff" stroke="#d8131b" stroke-width="3.2"/><circle cx="651.5" cy="741.8" r="6.3" fill="none" stroke="#5a0a0a" stroke-width="0.6"/><text x="651.1" y="745.6" font-size="14" text-anchor="middle" font-family="Liberation Sans, Arial, sans-serif" font-weight="bold" font-style="italic">o</text><circle cx="373.2" cy="749.1" r="4.5" fill="#fff" stroke="#d8131b" stroke-width="3.2"/><circle cx="373.2" cy="749.1" r="6.3" fill="none" stroke="#5a0a0a" stroke-width="0.6"/><text x="372.8" y="752.9" font-size="14" text-anchor="middle" font-family="Liberation Sans, Arial, sans-serif" font-weight="bold" font-style="italic">o</text><circle cx="432.8" cy="750.4" r="4.5" fill="#fff" stroke="#d8131b" stroke-width="3.2"/><circle cx="432.8" cy="750.4" r="6.3" fill="none" stroke="#5a0a0a" stroke-width="0.6"/><text x="432.4" y="754.2" font-size="14" text-anchor="middle" font-family="Liberation Sans, Arial, sans-serif" font-weight="bold" font-style="italic">o</text><circle cx="483.9" cy="753.3" r="4.5" fill="#fff" stroke="#d8131b" stroke-width="3.2"/><circle cx="483.9" cy="753.3" r="6.3" fill="none" stroke="#5a0a0a" stroke-width="0.6"/><text x="483.5" y="757.1" font-size="14" text-anchor="middle" font-family="Liberation Sans, Arial, sans-serif" font-weight="bold" font-style="italic">o</text><circle cx="552" cy="757" r="4.5" fill="#fff" stroke="#d8131b" stroke-width="3.2"/><circle cx="552" cy="757" r="6.3" fill="none" stroke="#5a0a0a" stroke-width="0.6"/><text x="551.6" y="760.8" font-size="14" text-anchor="middle" font-family="Liberation Sans, Arial, sans-serif" font-weight="bold" font-style="italic">o</text><circle cx="604.2" cy="760.3" r="4.5" fill="#fff" stroke="#d8131b" stroke-width="3.2"/><circle cx="604.2" cy="760.3" r="6.3" fill="none" stroke="#5a0a0a" stroke-width="0.6"/><text x="603.8" y="764.1" font-size="14" text-anchor="middle" font-family="Liberation Sans, Arial, sans-serif" font-weight="bold" font-style="italic">o</text><circle cx="674.3" cy="764" r="4.5" fill="#fff" stroke="#d8131b" stroke-width="3.2"/><circle cx="674.3" cy="764" r="6.3" fill="none" stroke="#5a0a0a" stroke-width="0.6"/><text x="673.9" y="767.8" font-size="14" text-anchor="middle" font-family="Liberation Sans, Arial, sans-serif" font-weight="bold" font-style="italic">o</text><circle cx="448.6" cy="767.6" r="4.5" fill="#fff" stroke="#d8131b" stroke-width="3.2"/><circle cx="448.6" cy="767.6" r="6.3" fill="none" stroke="#5a0a0a" stroke-width="0.6"/><text x="448.2" y="771.4" font-size="14" text-anchor="middle" font-family="Liberation Sans, Arial, sans-serif" font-weight="bold" font-style="italic">o</text><circle cx="508" cy="769.4" r="4.5" fill="#fff" stroke="#d8131b" stroke-width="3.2"/><circle cx="508" cy="769.4" r="6.3" fill="none" stroke="#5a0a0a" stroke-width="0.6"/><text x="507.6" y="773.2" font-size="14" text-anchor="middle" font-family="Liberation Sans, Arial, sans-serif" font-weight="bold" font-style="italic">o</text><circle cx="569.6" cy="774.8" r="4.5" fill="#fff" stroke="#d8131b" stroke-width="3.2"/><circle cx="569.6" cy="774.8" r="6.3" fill="none" stroke="#5a0a0a" stroke-width="0.6"/><text x="569.2" y="778.6" font-size="14" text-anchor="middle" font-family="Liberation Sans, Arial, sans-serif" font-weight="bold" font-style="italic">o</text><circle cx="628.9" cy="776.2" r="4.5" fill="#fff" stroke="#d8131b" stroke-width="3.2"/><circle cx="628.9" cy="776.2" r="6.3" fill="none" stroke="#5a0a0a" stroke-width="0.6"/><text x="628.5" y="780" font-size="14" text-anchor="middle" font-family="Liberation Sans, Arial, sans-serif" font-weight="bold" font-style="italic">o</text><circle cx="402.5" cy="786.1" r="4.5" fill="#fff" stroke="#d8131b" stroke-width="3.2"/><circle cx="402.5" cy="786.1" r="6.3" fill="none" stroke="#5a0a0a" stroke-width="0.6"/><text x="402.1" y="789.9" font-size="14" text-anchor="middle" font-family="Liberation Sans, Arial, sans-serif" font-weight="bold" font-style="italic">o</text><circle cx="471.5" cy="790" r="4.5" fill="#fff" stroke="#d8131b" stroke-width="3.2"/><circle cx="471.5" cy="790" r="6.3" fill="none" stroke="#5a0a0a" stroke-width="0.6"/><text x="471.1" y="793.8" font-size="14" text-anchor="middle" font-family="Liberation Sans, Arial, sans-serif" font-weight="bold" font-style="italic">o</text><circle cx="523.7" cy="792.8" r="4.5" fill="#fff" stroke="#d8131b" stroke-width="3.2"/><circle cx="523.7" cy="792.8" r="6.3" fill="none" stroke="#5a0a0a" stroke-width="0.6"/><text x="523.3" y="796.6" font-size="14" text-anchor="middle" font-family="Liberation Sans, Arial, sans-serif" font-weight="bold" font-style="italic">o</text><circle cx="592.1" cy="796.6" r="4.5" fill="#fff" stroke="#d8131b" stroke-width="3.2"/><circle cx="592.1" cy="796.6" r="6.3" fill="none" stroke="#5a0a0a" stroke-width="0.6"/><text x="591.7" y="800.4" font-size="14" text-anchor="middle" font-family="Liberation Sans, Arial, sans-serif" font-weight="bold" font-style="italic">o</text><circle cx="368" cy="800.4" r="4.5" fill="#fff" stroke="#d8131b" stroke-width="3.2"/><circle cx="368" cy="800.4" r="6.3" fill="none" stroke="#5a0a0a" stroke-width="0.6"/><text x="367.6" y="804.2" font-size="14" text-anchor="middle" font-family="Liberation Sans, Arial, sans-serif" font-weight="bold" font-style="italic">o</text><circle cx="668.7" cy="815.6" r="4.5" fill="#fff" stroke="#d8131b" stroke-width="3.2"/><circle cx="668.7" cy="815.6" r="6.3" fill="none" stroke="#5a0a0a" stroke-width="0.6"/><text x="668.3" y="819.4" font-size="14" text-anchor="middle" font-family="Liberation Sans, Arial, sans-serif" font-weight="bold" font-style="italic">o</text><circle cx="390.4" cy="822.9" r="4.5" fill="#fff" stroke="#d8131b" stroke-width="3.2"/><circle cx="390.4" cy="822.9" r="6.3" fill="none" stroke="#5a0a0a" stroke-width="0.6"/><text x="390" y="826.7" font-size="14" text-anchor="middle" font-family="Liberation Sans, Arial, sans-serif" font-weight="bold" font-style="italic">o</text><circle cx="441.9" cy="833.8" r="4.5" fill="#fff" stroke="#d8131b" stroke-width="3.2"/><circle cx="441.9" cy="833.8" r="6.3" fill="none" stroke="#5a0a0a" stroke-width="0.6"/><text x="441.5" y="837.6" font-size="14" text-anchor="middle" font-family="Liberation Sans, Arial, sans-serif" font-weight="bold" font-style="italic">o</text><circle cx="501.3" cy="835.4" r="4.5" fill="#fff" stroke="#d8131b" stroke-width="3.2"/><circle cx="501.3" cy="835.4" r="6.3" fill="none" stroke="#5a0a0a" stroke-width="0.6"/><text x="500.9" y="839.2" font-size="14" text-anchor="middle" font-family="Liberation Sans, Arial, sans-serif" font-weight="bold" font-style="italic">o</text><circle cx="407.7" cy="839.8" r="4.5" fill="#fff" stroke="#d8131b" stroke-width="3.2"/><circle cx="407.7" cy="839.8" r="6.3" fill="none" stroke="#5a0a0a" stroke-width="0.6"/><text x="407.3" y="843.6" font-size="14" text-anchor="middle" font-family="Liberation Sans, Arial, sans-serif" font-weight="bold" font-style="italic">o</text><circle cx="562.4" cy="840.4" r="4.5" fill="#fff" stroke="#d8131b" stroke-width="3.2"/><circle cx="562.4" cy="840.4" r="6.3" fill="none" stroke="#5a0a0a" stroke-width="0.6"/><text x="562" y="844.2" font-size="14" text-anchor="middle" font-family="Liberation Sans, Arial, sans-serif" font-weight="bold" font-style="italic">o</text><circle cx="621.8" cy="842.3" r="4.5" fill="#fff" stroke="#d8131b" stroke-width="3.2"/><circle cx="621.8" cy="842.3" r="6.3" fill="none" stroke="#5a0a0a" stroke-width="0.6"/><text x="621.4" y="846.1" font-size="14" text-anchor="middle" font-family="Liberation Sans, Arial, sans-serif" font-weight="bold" font-style="italic">o</text><circle cx="638.8" cy="860.2" r="4.5" fill="#fff" stroke="#d8131b" stroke-width="3.2"/><circle cx="638.8" cy="860.2" r="6.3" fill="none" stroke="#5a0a0a" stroke-width="0.6"/><text x="638.4" y="864" font-size="14" text-anchor="middle" font-family="Liberation Sans, Arial, sans-serif" font-weight="bold" font-style="italic">o</text><circle cx="471.6" cy="871.2" r="4.5" fill="#fff" stroke="#d8131b" stroke-width="3.2"/><circle cx="471.6" cy="871.2" r="6.3" fill="none" stroke="#5a0a0a" stroke-width="0.6"/><text x="471.2" y="875" font-size="14" text-anchor="middle" font-family="Liberation Sans, Arial, sans-serif" font-weight="bold" font-style="italic">o</text><circle cx="539.4" cy="874.9" r="4.5" fill="#fff" stroke="#d8131b" stroke-width="3.2"/><circle cx="539.4" cy="874.9" r="6.3" fill="none" stroke="#5a0a0a" stroke-width="0.6"/><text x="539" y="878.7" font-size="14" text-anchor="middle" font-family="Liberation Sans, Arial, sans-serif" font-weight="bold" font-style="italic">o</text><circle cx="592.2" cy="877.4" r="4.5" fill="#fff" stroke="#d8131b" stroke-width="3.2"/><circle cx="592.2" cy="877.4" r="6.3" fill="none" stroke="#5a0a0a" stroke-width="0.6"/><text x="591.8" y="881.2" font-size="14" text-anchor="middle" font-family="Liberation Sans, Arial, sans-serif" font-weight="bold" font-style="italic">o</text><circle cx="436.3" cy="885.5" r="4.5" fill="#fff" stroke="#d8131b" stroke-width="3.2"/><circle cx="436.3" cy="885.5" r="6.3" fill="none" stroke="#5a0a0a" stroke-width="0.6"/><text x="435.9" y="889.3" font-size="14" text-anchor="middle" font-family="Liberation Sans, Arial, sans-serif" font-weight="bold" font-style="italic">o</text><circle cx="495.5" cy="887.6" r="4.5" fill="#fff" stroke="#d8131b" stroke-width="3.2"/><circle cx="495.5" cy="887.6" r="6.3" fill="none" stroke="#5a0a0a" stroke-width="0.6"/><text x="495.1" y="891.4" font-size="14" text-anchor="middle" font-family="Liberation Sans, Arial, sans-serif" font-weight="bold" font-style="italic">o</text><circle cx="557.1" cy="892.7" r="4.5" fill="#fff" stroke="#d8131b" stroke-width="3.2"/><circle cx="557.1" cy="892.7" r="6.3" fill="none" stroke="#5a0a0a" stroke-width="0.6"/><text x="556.7" y="896.5" font-size="14" text-anchor="middle" font-family="Liberation Sans, Arial, sans-serif" font-weight="bold" font-style="italic">o</text><circle cx="616.4" cy="894.3" r="4.5" fill="#fff" stroke="#d8131b" stroke-width="3.2"/><circle cx="616.4" cy="894.3" r="6.3" fill="none" stroke="#5a0a0a" stroke-width="0.6"/><text x="616" y="898.1" font-size="14" text-anchor="middle" font-family="Liberation Sans, Arial, sans-serif" font-weight="bold" font-style="italic">o</text><circle cx="458.3" cy="907.6" r="4.5" fill="#fff" stroke="#d8131b" stroke-width="3.2"/><circle cx="458.3" cy="907.6" r="6.3" fill="none" stroke="#5a0a0a" stroke-width="0.6"/><text x="457.9" y="911.4" font-size="14" text-anchor="middle" font-family="Liberation Sans, Arial, sans-serif" font-weight="bold" font-style="italic">o</text><circle cx="511.5" cy="910.6" r="4.5" fill="#fff" stroke="#d8131b" stroke-width="3.2"/><circle cx="511.5" cy="910.6" r="6.3" fill="none" stroke="#5a0a0a" stroke-width="0.6"/><text x="511.1" y="914.4" font-size="14" text-anchor="middle" font-family="Liberation Sans, Arial, sans-serif" font-weight="bold" font-style="italic">o</text><circle cx="475.7" cy="925" r="4.5" fill="#fff" stroke="#d8131b" stroke-width="3.2"/><circle cx="475.7" cy="925" r="6.3" fill="none" stroke="#5a0a0a" stroke-width="0.6"/><text x="475.3" y="928.8" font-size="14" text-anchor="middle" font-family="Liberation Sans, Arial, sans-serif" font-weight="bold" font-style="italic">o</text><circle cx="536" cy="927" r="4.5" fill="#fff" stroke="#d8131b" stroke-width="3.2"/><circle cx="536" cy="927" r="6.3" fill="none" stroke="#5a0a0a" stroke-width="0.6"/><text x="535.6" y="930.8" font-size="14" text-anchor="middle" font-family="Liberation Sans, Arial, sans-serif" font-weight="bold" font-style="italic">o</text><text x="534.3" y="667" font-size="14.3" text-anchor="middle" font-family="Liberation Sans, Arial, sans-serif" font-weight="bold">al</text><text x="453.3" y="702" font-size="14.3" text-anchor="middle" font-family="Liberation Sans, Arial, sans-serif" font-weight="bold">al</text><text x="508.3" y="707" font-size="14.3" text-anchor="middle" font-family="Liberation Sans, Arial, sans-serif" font-weight="bold">al</text><text x="425.8" y="739" font-size="14.3" text-anchor="middle" font-family="Liberation Sans, Arial, sans-serif" font-weight="bold">al</text><text x="480.8" y="747" font-size="14.3" text-anchor="middle" font-family="Liberation Sans, Arial, sans-serif" font-weight="bold">al</text><text x="540.3" y="750" font-size="14.3" text-anchor="middle" font-family="Liberation Sans, Arial, sans-serif" font-weight="bold">al</text><text x="600.8" y="754.5" font-size="14.3" text-anchor="middle" font-family="Liberation Sans, Arial, sans-serif" font-weight="bold">al</text><text x="400.3" y="779" font-size="14.3" text-anchor="middle" font-family="Liberation Sans, Arial, sans-serif" font-weight="bold">al</text><text x="494.3" y="825.5" font-size="14.3" text-anchor="middle" font-family="Liberation Sans, Arial, sans-serif" font-weight="bold">al</text><text x="615.8" y="831" font-size="14.3" text-anchor="middle" font-family="Liberation Sans, Arial, sans-serif" font-weight="bold">al</text><text x="469.3" y="865" font-size="14.3" text-anchor="middle" font-family="Liberation Sans, Arial, sans-serif" font-weight="bold">al</text><text x="529.3" y="867.5" font-size="14.3" text-anchor="middle" font-family="Liberation Sans, Arial, sans-serif" font-weight="bold">al</text><text x="589.3" y="870.5" font-size="14.3" text-anchor="middle" font-family="Liberation Sans, Arial, sans-serif" font-weight="bold">al</text><text x="463.3" y="781" font-size="14.3" text-anchor="middle" font-family="Liberation Sans, Arial, sans-serif" font-weight="bold">al</text><text x="582.3" y="788" font-size="14.3" text-anchor="middle" font-family="Liberation Sans, Arial, sans-serif" font-weight="bold">al</text><text x="440.8" y="798.5" font-size="14.5" text-anchor="middle" font-family="Liberation Sans, Arial, sans-serif" font-weight="bold">zn</text><text x="561.6" y="804.5" font-size="14.5" text-anchor="middle" font-family="Liberation Sans, Arial, sans-serif" font-weight="bold">ca</text></g>
</svg>
</body></html>
